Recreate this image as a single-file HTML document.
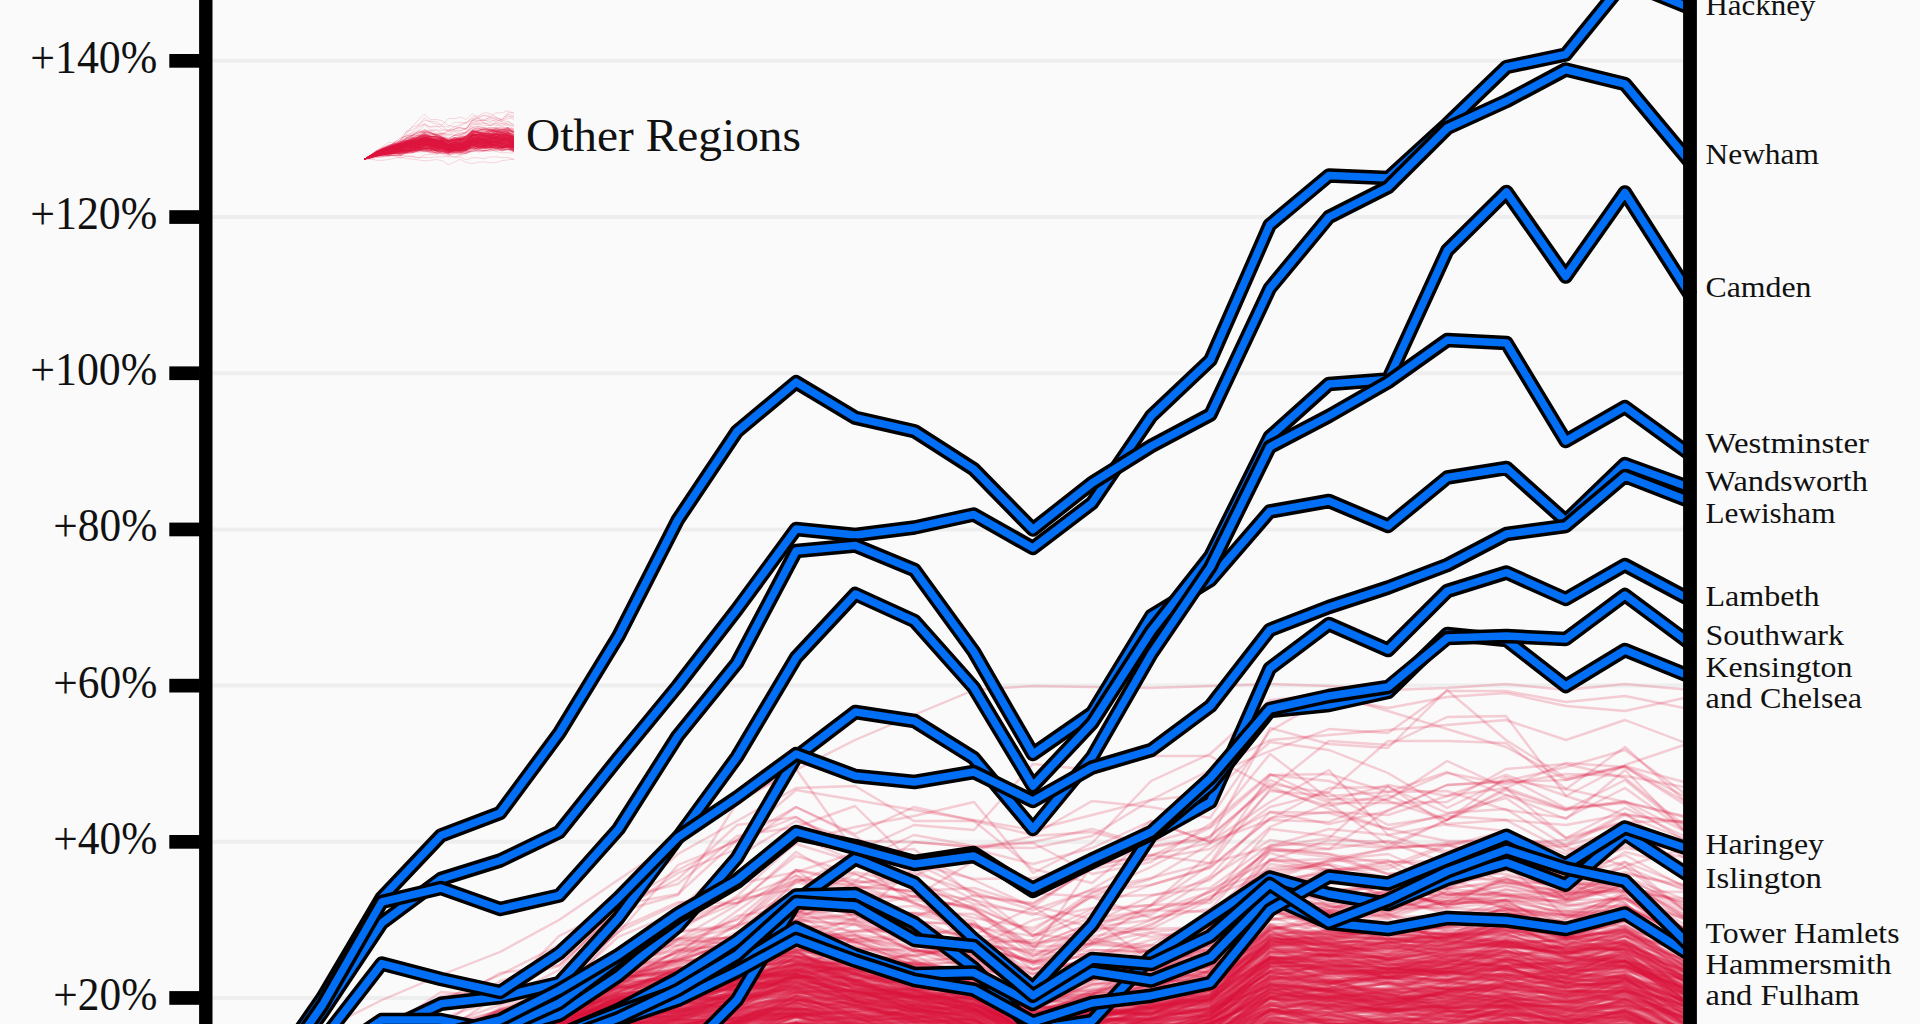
<!DOCTYPE html>
<html lang="en"><head><meta charset="utf-8"><title>House price growth by region</title>
<style>
html,body{margin:0;padding:0;background:#fafafa;}
body{width:1920px;height:1024px;overflow:hidden;}
svg{display:block;}
text{font-family:"Liberation Serif","DejaVu Serif",serif;fill:#111;}
.tick{font-size:45.5px;}
.lab{font-size:30px;}
.bk{fill:none;stroke:#000;stroke-width:14.5;stroke-linejoin:round;stroke-linecap:butt;}
.bl{fill:none;stroke:#006ef5;stroke-width:7.5;stroke-linejoin:round;stroke-linecap:butt;}
.rd{fill:none;stroke:#dc143c;stroke-width:1.6;stroke-linejoin:round;}
</style></head><body>
<svg width="1920" height="1024" viewBox="0 0 1920 1024">
<rect width="1920" height="1024" fill="#fafafa"/>

<g stroke="#eeeeee" stroke-width="4">
<line x1="212" y1="998.0" x2="1684" y2="998.0"/>
<line x1="212" y1="841.8" x2="1684" y2="841.8"/>
<line x1="212" y1="685.6" x2="1684" y2="685.6"/>
<line x1="212" y1="529.4" x2="1684" y2="529.4"/>
<line x1="212" y1="373.2" x2="1684" y2="373.2"/>
<line x1="212" y1="217.0" x2="1684" y2="217.0"/>
<line x1="212" y1="60.8" x2="1684" y2="60.8"/>
</g>
<g fill="none" stroke="#dc143c" stroke-width="2.4" stroke-opacity="0.2" stroke-linejoin="round">
<path d="M441,1044 500,1015 559,1000 618,982 678,970 737,954 796,938 855,939 914,961 974,973 1033,994 1092,979 1151,963 1210,935 1270,879 1329,879 1388,895 1447,883 1506,857 1566,883 1625,903 1684,954 1691,954"/>
<path d="M441,1039 500,1018 559,1008 618,975 678,960 737,942 796,933 855,947 914,960 974,984 1033,1031 1092,1019 1151,1019 1210,998 1270,963 1329,962 1388,978 1447,957 1506,953 1566,978 1625,972 1684,1001 1691,1001"/>
<path d="M1447,1033 1506,1023 1566,1027 1625,1041"/>
<path d="M441,1033 500,1011 559,1002 618,979 678,968 737,958 796,956 855,970 914,982 974,993 1033,1040 1092,1016 1151,1007 1210,997 1270,959 1329,969 1388,970 1447,954 1506,941 1566,957 1625,955 1684,986 1691,986"/>
<path d="M618,1036 678,1014 737,1002 796,974 855,984 914,997 974,993 1033,1019 1092,1009 1151,986 1210,984 1270,942 1329,942 1388,942 1447,952 1506,940 1566,948 1625,941 1684,969 1691,969"/>
<path d="M678,1038 737,1023 796,1004 855,1004 914,1006 974,1013 1033,1029M1151,1030 1210,1010 1270,985 1329,988 1388,1000 1447,1005 1506,978 1566,1002 1625,979 1684,1010 1691,1010"/>
<path d="M500,1035 559,1015 618,996 678,999 737,984 796,940 855,951 914,978 974,972 1033,1003 1092,994 1151,959 1210,947 1270,911 1329,906 1388,914 1447,881 1506,878 1566,900 1625,899 1684,934 1691,934"/>
<path d="M796,1031 855,1022 914,1034M1210,1031 1270,996 1329,996 1388,994 1447,998 1506,1005 1566,1001 1625,986 1684,1003 1691,1003"/>
<path d="M737,1038 796,1025 855,1028M1151,1031 1210,1016 1270,990 1329,980 1388,990 1447,986 1506,971 1566,983 1625,975 1684,993 1691,993"/>
<path d="M737,1032 796,1023 855,1034M1270,1036 1329,1019 1388,1028 1447,1027 1506,1026 1566,1030 1625,1026 1684,1027 1691,1027"/>
<path d="M618,1033 678,1020 737,1021 796,1011 855,1020 914,1029M1092,1039 1151,1026 1210,1008 1270,952 1329,955 1388,969 1447,973 1506,960 1566,957 1625,968 1684,980 1691,980"/>
<path d="M559,1040 618,1022 678,1013 737,1004 796,988 855,995 914,992 974,1002 1033,1032 1092,1015 1151,1005 1210,1004 1270,958 1329,960 1388,967 1447,953 1506,941 1566,956 1625,936 1684,967 1691,967"/>
<path d="M559,1040 618,1019 678,1016 737,995 796,995 855,1019 914,1012 974,1011 1033,1040M1151,1038 1210,1021 1270,957 1329,968 1388,956 1447,972 1506,951 1566,957 1625,961 1684,979 1691,979"/>
<path d="M500,1040 559,1023 618,978 678,940 737,928 796,892 855,872 914,885 974,908 1033,931 1092,892 1151,885 1210,868 1270,818 1329,812 1388,815 1447,796 1506,775 1566,796 1625,815 1684,822 1691,822"/>
<path d="M1210,1050 1270,1026 1329,1032M1447,1027 1506,1017 1566,1035 1625,1023 1684,1050 1691,1050"/>
<path d="M1210,1063 1270,1026 1329,1028"/>
<path d="M500,1028 559,1006 618,989 678,979 737,974 796,946 855,967 914,987 974,987 1033,1012 1092,1005 1151,994 1210,984 1270,942 1329,945 1388,946 1447,944 1506,937 1566,948 1625,940 1684,982 1691,982"/>
<path d="M500,1033 559,1021 618,1001 678,982 737,958 796,956 855,975 914,985 974,996 1033,1025 1092,1007 1151,1002 1210,1000 1270,946 1329,950 1388,951 1447,949 1506,961 1566,959 1625,959 1684,980 1691,980"/>
<path d="M500,1034 559,1023 618,1013 678,997 737,999 796,984 855,995 914,997 974,1021 1033,1043 1092,1016 1151,1014 1210,990 1270,947 1329,973 1388,973 1447,972 1506,976 1566,989 1625,1000 1684,1009 1691,1009"/>
<path d="M441,1049 500,1025 559,1019 618,976 678,974 737,965 796,938 855,935 914,956 974,944 1033,969 1092,963 1151,964 1210,940 1270,884 1329,892 1388,887 1447,859 1506,859 1566,894 1625,874 1684,885 1691,885"/>
<path d="M559,1044 618,1022 678,1004 737,998 796,964 855,972 914,982 974,980 1033,1003 1092,988 1151,980 1210,983 1270,939 1329,940 1388,943 1447,936 1506,933 1566,957 1625,956 1684,995 1691,995"/>
<path d="M618,1033 678,1020 737,1014 796,1017 855,1034 914,1025 974,1027M1210,1032 1270,1001 1329,992 1388,1002 1447,1002 1506,1006 1566,1007 1625,989 1684,1013 1691,1013"/>
<path d="M441,1047 500,1025 559,1012 618,975 678,909 737,884 796,872 855,853 914,869 974,900 1033,936 1092,896 1151,879 1210,844 1270,812 1329,824 1388,811 1447,785 1506,781 1566,767 1625,750 1684,793 1691,793"/>
<path d="M618,1032 678,1012 737,998 796,993 855,989 914,1010 974,1016 1033,1040 1092,1021 1151,1018 1210,1008 1270,987 1329,988 1388,988 1447,971 1506,982 1566,999 1625,981 1684,987 1691,987"/>
<path d="M559,1030 618,1003 678,990 737,975 796,957 855,990 914,977 974,979 1033,1012 1092,1001 1151,985 1210,971 1270,910 1329,932 1388,934 1447,937 1506,927 1566,934 1625,923 1684,966 1691,966"/>
<path d="M559,1051 618,1025 678,1006 737,996 796,986 855,999 914,1006 974,1011 1033,1032 1092,1020 1151,1031 1210,1031 1270,988 1329,989 1388,1001 1447,986 1506,974 1566,980 1625,966 1684,990 1691,990"/>
<path d="M1270,1034 1329,1016 1388,1024 1447,1009 1506,1004 1566,1026 1625,1020 1684,1035 1691,1035"/>
<path d="M559,1032 618,1004 678,993 737,985 796,991 855,1005 914,1015 974,1025 1033,1057M1151,1041 1210,1022 1270,968 1329,983 1388,995 1447,968 1506,962 1566,971 1625,954 1684,994 1691,994"/>
<path d="M500,1042 559,1021 618,985 678,949 737,939 796,915 855,909 914,906 974,927 1033,936 1092,918 1151,961 1210,937 1270,864 1329,871 1388,861 1447,867 1506,863 1566,886 1625,879 1684,930 1691,930"/>
<path d="M441,1041 500,1026 559,1020 618,992 678,970 737,967 796,955 855,969 914,994 974,1009 1033,1029 1092,1020 1151,1003 1210,987 1270,925 1329,938 1388,930 1447,935 1506,931 1566,932 1625,934 1684,979 1691,979"/>
<path d="M1210,1039 1270,996 1329,1025 1388,1027 1447,1017 1506,1017 1566,1030 1625,1022 1684,1047 1691,1047"/>
<path d="M737,1038 796,1022 855,1032M1270,1031 1329,1014 1388,1004 1447,1010 1506,1028 1566,1042 1625,1027 1684,1029 1691,1029"/>
<path d="M441,1045 500,1025 559,1000 618,979 678,969 737,965 796,965 855,971 914,990 974,987 1033,1006 1092,995 1151,969 1210,961 1270,910 1329,927 1388,928 1447,929 1506,913 1566,930 1625,945 1684,969 1691,969"/>
<path d="M678,1029 737,1023 796,1002 855,1004 914,1021 974,1024 1033,1057M1210,1048 1270,1021 1329,1030M1447,1036 1506,1021 1566,1033 1625,1027 1684,1049 1691,1049"/>
<path d="M441,1033 500,1021 559,1018 618,1006 678,1006 737,978 796,959 855,973 914,992 974,995 1033,1026 1092,1017 1151,1006 1210,1002 1270,964 1329,954 1388,941 1447,959 1506,946 1566,970 1625,965 1684,997 1691,997"/>
<path d="M559,1038 618,1017 678,1017 737,1010 796,992 855,1002 914,996 974,1012 1033,1035 1092,1023 1151,1015 1210,995 1270,943 1329,951 1388,957 1447,947 1506,939 1566,952 1625,956 1684,980 1691,980"/>
<path d="M1447,1040 1506,1024 1566,1028 1625,1020 1684,1042 1691,1042"/>
<path d="M441,1030 500,1010 559,1003 618,982 678,962 737,939 796,941 855,931 914,929 974,957 1033,987 1092,969 1151,968 1210,952 1270,913 1329,916 1388,894 1447,894 1506,908 1566,939 1625,936 1684,980 1691,980"/>
<path d="M1210,1069 1270,1024 1329,1014 1388,1021 1447,1021 1506,1026 1566,1028"/>
<path d="M1210,1044 1270,1011 1329,1013 1388,1007 1447,1008 1506,1007 1566,1010 1625,1021 1684,1051 1691,1051"/>
<path d="M1210,1041 1270,1023 1329,1033M1506,1035 1566,1024 1625,1018 1684,1038 1691,1038"/>
<path d="M678,1044 737,1025 796,1012 855,1021 914,1009 974,1016 1033,1034 1092,1039 1151,1025 1210,1025 1270,993 1329,1001 1388,1013 1447,1004 1506,1008 1566,1005 1625,1005 1684,1017 1691,1017"/>
<path d="M441,1051 500,1024 559,1003 618,975 678,965 737,959 796,942 855,941 914,966 974,960 1033,969 1092,953 1151,976 1210,961 1270,920 1329,911 1388,882 1447,889 1506,880 1566,886 1625,867 1684,890 1691,890"/>
<path d="M500,1030 559,1023 618,1006 678,998 737,996 796,973 855,967 914,986 974,996 1033,1027 1092,1015 1151,1013 1210,983 1270,946 1329,943 1388,939 1447,937 1506,921 1566,950 1625,967 1684,988 1691,988"/>
<path d="M618,1037 678,1023 737,1010 796,1015 855,1028M1092,1038 1151,1018 1210,1006 1270,982 1329,991 1388,989 1447,1007 1506,989 1566,986 1625,978 1684,1010 1691,1010"/>
<path d="M441,1038 500,1026 559,1017 618,1000 678,990 737,997 796,983 855,990 914,990 974,1003 1033,1038 1092,1022 1151,1019 1210,1016 1270,953 1329,947 1388,948 1447,937 1506,922 1566,925 1625,919 1684,950 1691,950"/>
<path d="M441,1060 500,1027 559,1000 618,962 678,950 737,944 796,920 855,890 914,922 974,924 1033,947 1092,928 1151,906 1210,876 1270,812 1329,813 1388,829 1447,841 1506,841 1566,846 1625,815 1684,839 1691,839"/>
<path d="M500,1033 559,1023 618,1023 678,1004 737,997 796,987 855,987 914,997 974,997 1033,1017 1092,1003 1151,1001 1210,975 1270,945 1329,944 1388,936 1447,943 1506,947 1566,953 1625,941 1684,972 1691,972"/>
<path d="M559,1035 618,1015 678,982 737,986 796,953 855,974 914,951 974,951 1033,982 1092,975 1151,965 1210,973 1270,938 1329,943 1388,939 1447,938 1506,905 1566,938 1625,911 1684,949 1691,949"/>
<path d="M500,1034 559,1023 618,1012 678,1001 737,981 796,987 855,1005 914,1010 974,1025 1033,1063M1210,1028 1270,987 1329,985 1388,994 1447,1002 1506,994 1566,1001 1625,993 1684,1017 1691,1017"/>
<path d="M441,1041 500,1018 559,1007 618,989 678,976 737,963 796,946 855,974 914,991 974,1010 1033,1025 1092,1006 1151,1001 1210,986 1270,950 1329,955 1388,954 1447,967 1506,958 1566,977 1625,960 1684,992 1691,992"/>
<path d="M796,1028 855,1021 914,1022 974,1026 1033,1047M1210,1047 1270,1021 1329,1025 1388,1024 1447,1025 1506,1014 1566,1020 1625,1016 1684,1032 1691,1032"/>
<path d="M618,1033 678,1015 737,1017 796,1002 855,1029M1210,1041 1270,1010 1329,999 1388,999 1447,995 1506,983 1566,991 1625,1003 1684,1034 1691,1034"/>
<path d="M737,1037 796,1004 855,1012 914,1030 974,1024 1033,1044 1092,1036 1151,1019 1210,1007 1270,957 1329,974 1388,984 1447,984 1506,978 1566,997 1625,986 1684,1023 1691,1023"/>
<path d="M500,1033 559,1016 618,996 678,1002 737,985 796,957 855,969 914,975 974,983 1033,1011 1092,999 1151,1009 1210,1017 1270,968 1329,963 1388,962 1447,962 1506,961 1566,979 1625,967 1684,993 1691,993"/>
<path d="M500,1037 559,1000 618,954 678,939 737,920 796,892 855,890 914,933 974,941 1033,975 1092,944 1151,932 1210,927 1270,860 1329,840 1388,842 1447,863 1506,844 1566,840 1625,822 1684,821 1691,821"/>
<path d="M559,1030 618,1018 678,992 737,989 796,963 855,962 914,1000 974,1019 1033,1048 1092,1028 1151,1007 1210,1000 1270,958 1329,959 1388,975 1447,981 1506,975 1566,973 1625,978 1684,1001 1691,1001"/>
<path d="M1210,1039 1270,1014 1329,1015 1388,1024 1447,1015 1506,1006 1566,1006 1625,1009 1684,1042 1691,1042"/>
<path d="M737,1028 796,1015 855,1018 914,1022 974,1044M1210,1048 1270,1024 1329,1007 1388,1009 1447,1011 1506,1013 1566,1020 1625,1021 1684,1037 1691,1037"/>
<path d="M737,1034 796,1014 855,1023 914,1036M1210,1032 1270,1004 1329,996 1388,997 1447,995 1506,1003 1566,1007 1625,1015 1684,1032 1691,1032"/>
<path d="M559,1033 618,1020 678,1013 737,989 796,967 855,992 914,1006 974,1014 1033,1040M1151,1028 1210,1023 1270,966 1329,965 1388,971 1447,968 1506,964 1566,963 1625,951 1684,977 1691,977"/>
<path d="M737,1028 796,1023 855,1023 914,1016 974,1013 1033,1043 1092,1032 1151,1019 1210,1008 1270,986 1329,971 1388,983 1447,989 1506,982 1566,987 1625,986 1684,1022 1691,1022"/>
<path d="M737,1037 796,1023 855,1027M1210,1057 1270,1021 1329,1006 1388,1003 1447,1008 1506,1000 1566,1002 1625,991 1684,1024 1691,1024"/>
<path d="M500,1029 559,1007 618,1000 678,986 737,972 796,949 855,991 914,988 974,983 1033,1019 1092,1012 1151,996 1210,984 1270,924 1329,945 1388,961 1447,959 1506,952 1566,967 1625,954 1684,991 1691,991"/>
<path d="M559,1034 618,1014 678,1002 737,984 796,965 855,965 914,964 974,962 1033,978 1092,955 1151,945 1210,914 1270,859 1329,865 1388,892 1447,874 1506,861 1566,876 1625,881 1684,915 1691,915"/>
<path d="M1270,1033 1329,1024 1388,1021 1447,1005 1506,1006 1566,1017 1625,1030"/>
<path d="M1210,1034 1270,1012 1329,1020 1388,1017 1447,1027 1506,1023 1566,1012 1625,1007 1684,1040 1691,1040"/>
<path d="M382,1057 441,1026 500,1005 559,992 618,965 678,942 737,937 796,919 855,914 914,944 974,972 1033,993 1092,966 1151,965 1210,950 1270,907 1329,911 1388,916 1447,891 1506,908 1566,927 1625,930 1684,954 1691,954"/>
<path d="M618,1032 678,1007 737,980 796,971 855,980 914,995 974,1013 1033,1035M1151,1036 1210,1025 1270,973 1329,977 1388,970 1447,960 1506,947 1566,947 1625,950 1684,976 1691,976"/>
<path d="M678,1042 737,1023 796,1032M1210,1044 1270,1023 1329,1031M1566,1030 1625,1016 1684,1046 1691,1046"/>
<path d="M500,1031 559,1012 618,997 678,993 737,986 796,993 855,1006 914,1018 974,1010 1033,1033M1151,1037 1210,1017 1270,971 1329,968 1388,973 1447,969 1506,966 1566,961 1625,961 1684,1003 1691,1003"/>
<path d="M1210,1054 1270,1026 1329,1042"/>
<path d="M500,1035 559,1025 618,998 678,993 737,968 796,961 855,980 914,974 974,991 1033,1013 1092,992 1151,982 1210,957 1270,903 1329,910 1388,915 1447,901 1506,900 1566,907 1625,896 1684,940 1691,940"/>
<path d="M382,1037 441,1008 500,973 559,965 618,912 678,895 737,803 796,769 855,852 914,825 974,830 1033,764 1092,770 1151,756 1210,756 1270,788 1329,741 1388,745 1447,717 1506,716 1566,796 1625,765 1684,745 1691,745"/>
<path d="M618,1028 678,998 737,999 796,996 855,1000 914,1027 974,1030M1151,1044 1210,1012 1270,966 1329,965 1388,968 1447,966 1506,970 1566,979 1625,976 1684,999 1691,999"/>
<path d="M559,1030 618,995 678,986 737,990 796,965 855,980 914,999 974,997 1033,1040 1092,1034 1151,1004 1210,996 1270,942 1329,934 1388,949 1447,944 1506,927 1566,931 1625,915 1684,932 1691,932"/>
<path d="M500,1030 559,1020 618,1007 678,1001 737,1008 796,982 855,985 914,994 974,1003 1033,1025 1092,1009 1151,994 1210,1003 1270,940 1329,955 1388,949 1447,962 1506,947 1566,938 1625,931 1684,969 1691,969"/>
<path d="M618,1046 678,1018 737,1005 796,998 855,1015 914,1029M1210,1040 1270,992 1329,996 1388,1004 1447,1001 1506,982 1566,995 1625,971 1684,1013 1691,1013"/>
<path d="M559,1035 618,1006 678,1004 737,986 796,962 855,964 914,955 974,946 1033,961 1092,956 1151,933 1210,940 1270,908 1329,912 1388,912 1447,892 1506,896 1566,902 1625,883 1684,908 1691,908"/>
<path d="M500,1041 559,1021 618,992 678,968 737,965 796,941 855,961 914,975 974,988 1033,1013 1092,1000 1151,991 1210,998 1270,939 1329,932 1388,927 1447,936 1506,944 1566,939 1625,929 1684,966 1691,966"/>
<path d="M441,1049 500,1026 559,1013 618,998 678,979 737,945 796,916 855,901 914,918 974,942 1033,953 1092,943 1151,920 1210,899 1270,848 1329,854 1388,864 1447,895 1506,886 1566,899 1625,886 1684,902 1691,902"/>
<path d="M618,1038 678,1021 737,1004 796,978 855,980 914,1001 974,1007 1033,1032 1092,1013 1151,997 1210,991 1270,959 1329,955 1388,960 1447,973 1506,962 1566,976 1625,966 1684,984 1691,984"/>
<path d="M500,1040 559,1024 618,1002 678,983 737,985 796,964 855,972 914,986 974,1008 1033,1045M1210,1029 1270,999 1329,1004 1388,1000 1447,999 1506,986 1566,984 1625,985 1684,1006 1691,1006"/>
<path d="M678,1042 737,1022 796,1023 855,1032M1210,1037 1270,995 1329,990 1388,1006 1447,991 1506,999 1566,996 1625,999 1684,1018 1691,1018"/>
<path d="M559,1035 618,1019 678,1004 737,992 796,977 855,995 914,993 974,1005 1033,1032 1092,1031 1151,1019 1210,1012 1270,971 1329,961 1388,955 1447,950 1506,942 1566,948 1625,943 1684,974 1691,974"/>
<path d="M1210,1036 1270,993 1329,989 1388,983 1447,1000 1506,995 1566,1008 1625,985 1684,1005 1691,1005"/>
<path d="M1210,1056 1270,1020 1329,1034 1388,1034 1447,1024 1506,1009 1566,1030"/>
<path d="M559,1031 618,1000 678,982 737,975 796,969 855,1001 914,1018 974,1002 1033,1029 1092,1008 1151,1021 1210,1019 1270,961 1329,953 1388,970 1447,978 1506,976 1566,978 1625,985 1684,994 1691,994"/>
<path d="M500,1050 559,1025 618,1005 678,990 737,983 796,973 855,1001 914,1008 974,995 1033,1041M1151,1035 1210,1019 1270,979 1329,986 1388,1001 1447,1003 1506,985 1566,998 1625,995 1684,1016 1691,1016"/>
<path d="M1210,1031 1270,985 1329,999 1388,995 1447,995 1506,1002 1566,1010 1625,991 1684,1005 1691,1005"/>
<path d="M1270,1033 1329,1024 1388,1021 1447,1030 1506,1019 1566,1048"/>
<path d="M559,1035 618,1027 678,1014 737,992 796,970 855,1000 914,1010 974,1000 1033,1037 1092,1033 1151,1021 1210,1015 1270,976 1329,982 1388,979 1447,971 1506,961 1566,983 1625,987 1684,1003 1691,1003"/>
<path d="M500,1029 559,1014 618,994 678,985 737,982 796,968 855,982 914,1002 974,996 1033,1037 1092,1018 1151,997 1210,984 1270,934 1329,943 1388,955 1447,936 1506,943 1566,949 1625,950 1684,976 1691,976"/>
<path d="M441,1056 500,1027 559,1008 618,982 678,981 737,972 796,949 855,960 914,989 974,991 1033,1017 1092,1004 1151,989 1210,978 1270,909 1329,928 1388,933 1447,919 1506,899 1566,896 1625,881 1684,933 1691,933"/>
<path d="M441,1046 500,1022 559,1009 618,985 678,976 737,975 796,959 855,966 914,977 974,991 1033,1025 1092,1016 1151,1008 1210,995 1270,935 1329,939 1388,959 1447,944 1506,938 1566,928 1625,906 1684,937 1691,937"/>
<path d="M678,1030 737,1018 796,1009 855,1008 914,1025 974,1028M1092,1028 1151,1001 1210,987 1270,948 1329,966 1388,965 1447,953 1506,944 1566,953 1625,946 1684,981 1691,981"/>
<path d="M559,1043 618,1021 678,1011 737,1000 796,969 855,976 914,982 974,1008 1033,1036 1092,1017 1151,1008 1210,1000 1270,963 1329,961 1388,964 1447,973 1506,940 1566,952 1625,961 1684,1001 1691,1001"/>
<path d="M441,1052 500,1027 559,1011 618,997 678,980 737,967 796,952 855,982 914,988 974,990 1033,1029 1092,1013 1151,1007 1210,995 1270,958 1329,954 1388,959 1447,958 1506,951 1566,971 1625,960 1684,977 1691,977"/>
<path d="M737,1033 796,1026 855,1034M1210,1043 1270,1009 1329,1023 1388,1030 1447,1024 1506,1017 1566,1032 1625,1019 1684,1055 1691,1055"/>
<path d="M618,1036 678,1026 737,1024 796,1016 855,1043M1151,1047 1210,1022 1270,986 1329,1000 1388,999 1447,995 1506,994 1566,991 1625,994 1684,1035 1691,1035"/>
<path d="M678,1046 737,1024 796,1027 855,1033M1210,1032 1270,999 1329,998 1388,991 1447,991 1506,988 1566,1003 1625,987 1684,1006 1691,1006"/>
<path d="M500,1034 559,1023 618,1003 678,983 737,963 796,950 855,980 914,983 974,986 1033,1025 1092,1029 1151,1029 1210,1024 1270,952 1329,956 1388,957 1447,945 1506,925 1566,937 1625,932 1684,958 1691,958"/>
<path d="M559,1031 618,1012 678,997 737,980 796,974 855,1000 914,1012 974,1013 1033,1054 1092,1032 1151,1020 1210,1017 1270,963 1329,956 1388,959 1447,951 1506,940 1566,942 1625,928 1684,971 1691,971"/>
<path d="M441,1041 500,1021 559,1011 618,978 678,962 737,957 796,925 855,931 914,925 974,937 1033,965 1092,945 1151,947 1210,938 1270,876 1329,861 1388,860 1447,888 1506,883 1566,883 1625,885 1684,911 1691,911"/>
<path d="M1210,1030 1270,989 1329,989 1388,1010 1447,1004 1506,992 1566,975 1625,978 1684,1007 1691,1007"/>
<path d="M678,1032 737,1013 796,1009 855,1015 914,1019 974,1022 1033,1043M1210,1046 1270,1005 1329,1005 1388,1009 1447,1007 1506,999 1566,987 1625,981 1684,1000 1691,1000"/>
<path d="M1210,1063 1270,1025 1329,1020 1388,1024 1447,1026 1506,1027 1566,1037"/>
<path d="M559,1052 618,1021 678,1014 737,1014 796,997 855,1002 914,1005 974,999 1033,1023 1092,1012 1151,1014 1210,1000 1270,948 1329,956 1388,945 1447,946 1506,936 1566,963 1625,945 1684,978 1691,978"/>
<path d="M1210,1057 1270,1011 1329,997 1388,1004 1447,988 1506,1000 1566,1008 1625,990 1684,1004 1691,1004"/>
<path d="M618,1029 678,1025 737,1018 796,1008 855,993 914,1015 974,1025 1033,1052M1210,1041 1270,997 1329,988 1388,977 1447,989 1506,992 1566,999 1625,1000 1684,1029 1691,1029"/>
<path d="M678,1037 737,1012 796,993 855,1005 914,1007 974,1027 1033,1055M1210,1037 1270,1011 1329,1025 1388,1032 1447,1017 1506,1006 1566,1025 1625,1001 1684,1030 1691,1030"/>
<path d="M500,1041 559,1017 618,1003 678,985 737,952 796,934 855,939 914,935 974,946 1033,963 1092,969 1151,965 1210,949 1270,897 1329,894 1388,893 1447,901 1506,904 1566,923 1625,908 1684,932 1691,932"/>
<path d="M441,1042 500,1016 559,1007 618,987 678,971 737,960 796,962 855,978 914,980 974,995 1033,1037 1092,1020 1151,1020 1210,996 1270,958 1329,982 1388,992 1447,993 1506,987 1566,988 1625,978 1684,998 1691,998"/>
<path d="M441,1049 500,1021 559,1012 618,984 678,950 737,944 796,914 855,893 914,900 974,906 1033,934 1092,941 1151,926 1210,890 1270,861 1329,859 1388,849 1447,843 1506,839 1566,844 1625,813 1684,858 1691,858"/>
<path d="M441,1044 500,1015 559,988 618,975 678,958 737,932 796,909 855,908 914,896 974,910 1033,955 1092,950 1151,951 1210,936 1270,879 1329,874 1388,879 1447,894 1506,895 1566,892 1625,878 1684,905 1691,905"/>
<path d="M737,1039 796,1026 855,1024 914,1025 974,1019 1033,1051 1092,1028 1151,1010 1210,1003 1270,961 1329,956 1388,963 1447,976 1506,970 1566,979 1625,971 1684,978 1691,978"/>
<path d="M1210,1052 1270,1011 1329,1024 1388,1025 1447,1011 1506,1011 1566,1016 1625,1011 1684,1042 1691,1042"/>
<path d="M559,1032 618,1014 678,1004 737,985 796,977 855,980 914,996 974,1004 1033,1034 1092,1009 1151,996 1210,986 1270,927 1329,937 1388,935 1447,927 1506,916 1566,937 1625,921 1684,951 1691,951"/>
<path d="M559,1028 618,957 678,927 737,898 796,876 855,887 914,891 974,900 1033,915 1092,889 1151,856 1210,828 1270,775 1329,774 1388,792 1447,772 1506,795 1566,819 1625,770 1684,831 1691,831"/>
<path d="M500,1044 559,991 618,937 678,912 737,903 796,883 855,857 914,863 974,892 1033,936 1092,909 1151,905 1210,854 1270,791 1329,796 1388,792 1447,791 1506,810 1566,818 1625,788 1684,830 1691,830"/>
<path d="M618,1035 678,1024 737,1021 796,1000 855,994 914,1020 974,1025 1033,1058M1151,1043 1210,1024 1270,993 1329,999 1388,1012 1447,1013 1506,1006 1566,1013 1625,1000 1684,1023 1691,1023"/>
<path d="M559,1034 618,1017 678,1010 737,1000 796,988 855,1001 914,1005 974,983 1033,998 1092,994 1151,990 1210,985 1270,942 1329,942 1388,943 1447,939 1506,927 1566,944 1625,932 1684,965 1691,965"/>
<path d="M500,1037 559,1021 618,1003 678,992 737,990 796,981 855,981 914,982 974,1001 1033,1023 1092,1005 1151,1007 1210,990 1270,941 1329,937 1388,930 1447,934 1506,930 1566,952 1625,945 1684,977 1691,977"/>
<path d="M1210,1035 1270,1012 1329,1008 1388,1026 1447,1028 1506,1024 1566,1035"/>
<path d="M1210,1047 1270,1022 1329,1043"/>
<path d="M618,1030 678,1012 737,1011 796,991 855,1006 914,1017 974,1025 1033,1046 1092,1024 1151,1025 1210,1008 1270,960 1329,970 1388,981 1447,990 1506,983 1566,966 1625,966 1684,996 1691,996"/>
<path d="M1210,1029 1270,987 1329,998 1388,982 1447,1000 1506,990 1566,991 1625,993 1684,1017 1691,1017"/>
<path d="M500,1030 559,1027 618,1003 678,996 737,987 796,981 855,988 914,1015 974,1030 1033,1043 1092,1026 1151,1029 1210,1016 1270,971 1329,967 1388,965 1447,960 1506,966 1566,963 1625,965 1684,992 1691,992"/>
<path d="M559,1032 618,1025 678,1018 737,1014 796,995 855,991 914,1006 974,1019 1033,1046M1151,1029 1210,1025 1270,976 1329,965 1388,968 1447,974 1506,958 1566,970 1625,963 1684,995 1691,995"/>
<path d="M441,1039 500,1017 559,985 618,970 678,953 737,911 796,870 855,880 914,893 974,951 1033,978 1092,957 1151,940 1210,928 1270,872 1329,864 1388,878 1447,867 1506,858 1566,869 1625,848 1684,857 1691,857"/>
<path d="M1210,1037 1270,1018 1329,1001 1388,1010 1447,1011 1506,1012 1566,1023 1625,1011 1684,1046 1691,1046"/>
<path d="M441,1045 500,1016 559,1002 618,976 678,972 737,974 796,955 855,984 914,1002 974,1006 1033,1041 1092,1023 1151,995 1210,982 1270,931 1329,950 1388,960 1447,962 1506,956 1566,980 1625,981 1684,1001 1691,1001"/>
<path d="M618,1032 678,1021 737,1019 796,1006 855,1023 914,1023 974,1038 1033,1049 1092,1024 1151,1042 1210,1023 1270,1010 1329,1015 1388,1003 1447,997 1506,993 1566,1003 1625,1003 1684,1024 1691,1024"/>
<path d="M737,1027 796,1023 855,1040M1210,1049 1270,1018 1329,1016 1388,1013 1447,1016 1506,1017 1566,1042"/>
<path d="M678,1037 737,1010 796,1001 855,1006 914,1022 974,1017 1033,1042M1210,1033 1270,1003 1329,1005 1388,993 1447,994 1506,999 1566,1023 1625,1015 1684,1044 1691,1044"/>
<path d="M1270,1030 1329,1021 1388,1018 1447,1011 1506,995 1566,1022 1625,1017 1684,1033 1691,1033"/>
<path d="M737,1028 796,996 855,1005 914,1021 974,1020 1033,1047M1151,1040 1210,1023 1270,998 1329,988 1388,975 1447,974 1506,974 1566,995 1625,980 1684,1009 1691,1009"/>
<path d="M737,1030 796,1024 855,1026 914,1039M1210,1039 1270,1015 1329,1004 1388,1016 1447,1012 1506,1005 1566,1019 1625,1018 1684,1043 1691,1043"/>
<path d="M559,1029 618,1022 678,1027 737,1011 796,1003 855,1017 914,1019 974,1014 1033,1027 1092,1034 1151,1028 1210,1023 1270,977 1329,980 1388,977 1447,977 1506,982 1566,1006 1625,979 1684,1012 1691,1012"/>
<path d="M559,1033 618,1024 678,1023 737,992 796,968 855,969 914,991 974,997 1033,1007 1092,1008 1151,1016 1210,1010 1270,956 1329,946 1388,939 1447,937 1506,926 1566,937 1625,932 1684,953 1691,953"/>
<path d="M678,1031 737,1008 796,1003 855,1011 914,1005 974,1025 1033,1036M1210,1045 1270,1018 1329,1023 1388,1027M1566,1039 1625,1019 1684,1036 1691,1036"/>
<path d="M500,1031 559,1016 618,990 678,974 737,953 796,940 855,946 914,977 974,988 1033,1032 1092,1006 1151,996 1210,994 1270,946 1329,941 1388,928 1447,932 1506,923 1566,946 1625,914 1684,962 1691,962"/>
<path d="M678,1029 737,1008 796,996 855,1015 914,1027M1092,1037 1151,1027 1210,1025 1270,994 1329,1000 1388,1012 1447,1005 1506,996 1566,985 1625,983 1684,1000 1691,1000"/>
<path d="M500,1031 559,1023 618,998 678,994 737,979 796,970 855,985 914,991 974,1005 1033,1023 1092,997 1151,994 1210,990 1270,938 1329,944 1388,959 1447,934 1506,933 1566,928 1625,917 1684,949 1691,949"/>
<path d="M441,1048 500,1022 559,1006 618,986 678,983 737,970 796,950 855,951 914,977 974,974 1033,998 1092,966 1151,950 1210,959 1270,920 1329,917 1388,917 1447,916 1506,914 1566,922 1625,903 1684,952 1691,952"/>
<path d="M737,1038 796,1023 855,1018 914,1042M1210,1035 1270,1009 1329,1012 1388,1004 1447,998 1506,996 1566,1005 1625,994 1684,1015 1691,1015"/>
<path d="M1210,1056 1270,1025 1329,1033M1447,1034 1506,1022 1566,1022 1625,1012 1684,1036 1691,1036"/>
<path d="M1210,1062 1270,1027 1329,1045M1506,1031 1566,1026 1625,1018 1684,1037 1691,1037"/>
<path d="M441,1039 500,1010 559,997 618,899 678,884 737,836 796,827 855,806 914,864 974,879 1033,878 1092,869 1151,859 1210,849 1270,807 1329,792 1388,741 1447,741 1506,743 1566,789 1625,802 1684,816 1691,816"/>
<path d="M737,1035 796,1017 855,1026 914,1006 974,1010 1033,1032 1092,1023 1151,1020 1210,1007 1270,958 1329,963 1388,960 1447,948 1506,946 1566,953 1625,949 1684,971 1691,971"/>
<path d="M559,1046 618,1022 678,1001 737,995 796,999 855,1023 914,1047M1151,1042 1210,1026 1270,983 1329,973 1388,974 1447,964 1506,962 1566,972 1625,966 1684,991 1691,991"/>
<path d="M737,1037 796,1023 855,1028M1151,1032 1210,1019 1270,965 1329,957 1388,947 1447,955 1506,951 1566,960 1625,957 1684,989 1691,989"/>
<path d="M618,1031 678,1025 737,1019 796,1003 855,1008 914,1018 974,1037M1151,1033 1210,1011 1270,977 1329,982 1388,977 1447,965 1506,965 1566,962 1625,958 1684,986 1691,986"/>
<path d="M441,1039 500,1008 559,993 618,972 678,971 737,973 796,916 855,921 914,944 974,938 1033,962 1092,943 1151,950 1210,925 1270,898 1329,890 1388,887 1447,872 1506,883 1566,892 1625,822 1684,846 1691,846"/>
<path d="M500,1031 559,1016 618,999 678,988 737,965 796,957 855,963 914,984 974,990 1033,1019 1092,997 1151,1004 1210,1000 1270,940 1329,937 1388,928 1447,935 1506,913 1566,917 1625,909 1684,933 1691,933"/>
<path d="M500,1037 559,1020 618,1007 678,1005 737,994 796,989 855,998 914,1004 974,1015 1033,1044M1151,1036 1210,1015 1270,964 1329,959 1388,961 1447,956 1506,957 1566,945 1625,936 1684,960 1691,960"/>
<path d="M737,1033 796,1022 855,1016 914,1040M1151,1035 1210,1012 1270,992 1329,994 1388,1008 1447,1011 1506,1015 1566,1021 1625,999 1684,1027 1691,1027"/>
<path d="M500,1030 559,1022 618,993 678,978 737,979 796,974 855,981 914,1000 974,1008 1033,1034 1092,1012 1151,1016 1210,976 1270,928 1329,939 1388,945 1447,947 1506,923 1566,941 1625,952 1684,985 1691,985"/>
<path d="M500,1042 559,1026 618,1009 678,1003 737,995 796,977 855,964 914,976 974,992 1033,1008 1092,1006 1151,993 1210,988 1270,949 1329,950 1388,959 1447,965 1506,960 1566,968 1625,965 1684,987 1691,987"/>
<path d="M1388,1039 1447,1027 1506,1028 1566,1024 1625,998 1684,1022 1691,1022"/>
<path d="M678,1048 737,1025 796,996 855,1004 914,1000 974,1007 1033,1036M1151,1038 1210,1019 1270,985 1329,991 1388,988 1447,979 1506,979 1566,984 1625,977 1684,1002 1691,1002"/>
<path d="M500,1030 559,1013 618,993 678,977 737,975 796,965 855,981 914,997 974,1006 1033,1028 1092,1013 1151,1013 1210,1002 1270,952 1329,963 1388,969 1447,969 1506,970 1566,986 1625,982 1684,1002 1691,1002"/>
<path d="M678,1030 737,1023 796,1017 855,1006 914,1016 974,1022 1033,1060M1210,1027 1270,994 1329,999 1388,1013 1447,1027 1506,1009 1566,1024 1625,1024 1684,1038 1691,1038"/>
<path d="M1329,1048 1388,1018 1447,1018 1506,1014 1566,1028"/>
<path d="M1270,1033 1329,1014 1388,1028 1447,1027 1506,1042"/>
<path d="M618,1042 678,1025 737,1021 796,996 855,1000 914,1009 974,1022 1033,1055M1210,1044 1270,1011 1329,1017 1388,1007 1447,1014 1506,1015 1566,1011 1625,1005 1684,1025 1691,1025"/>
<path d="M618,1035 678,1017 737,1006 796,997 855,1010 914,1016 974,1019 1033,1055M1210,1030 1270,988 1329,1009 1388,1010 1447,997 1506,1008 1566,1010 1625,1003 1684,1030 1691,1030"/>
<path d="M500,1029 559,1002 618,979 678,960 737,944 796,910 855,934 914,943 974,963 1033,989 1092,991 1151,979 1210,975 1270,895 1329,906 1388,918 1447,901 1506,879 1566,901 1625,886 1684,917 1691,917"/>
<path d="M737,1036 796,1017 855,1030M1210,1042 1270,998 1329,997 1388,1000 1447,987 1506,993 1566,1013 1625,1006 1684,1029 1691,1029"/>
<path d="M618,1028 678,1008 737,999 796,983 855,1001 914,1012 974,1014 1033,1049M1151,1030 1210,1021 1270,974 1329,973 1388,976 1447,981 1506,959 1566,972 1625,969 1684,998 1691,998"/>
<path d="M618,1029 678,1026 737,1026 796,1001 855,997 914,1008 974,1018 1033,1036 1092,1021 1151,1004 1210,998 1270,962 1329,965 1388,978 1447,980 1506,972 1566,977 1625,963 1684,1003 1691,1003"/>
<path d="M441,1046 500,1016 559,997 618,985 678,968 737,960 796,956 855,962 914,963 974,992 1033,999 1092,979 1151,963 1210,973 1270,913 1329,924 1388,940 1447,938 1506,923 1566,931 1625,892 1684,917 1691,917"/>
<path d="M559,1035 618,1022 678,1004 737,985 796,980 855,1007 914,1009 974,999 1033,1036 1092,1012 1151,1007 1210,1000 1270,975 1329,980 1388,995 1447,984 1506,958 1566,969 1625,973 1684,1007 1691,1007"/>
<path d="M737,1038 796,1011 855,1030M1151,1035 1210,1020 1270,984 1329,990 1388,983 1447,989 1506,988 1566,997 1625,999 1684,1025 1691,1025"/>
<path d="M500,1028 559,1022 618,1011 678,1011 737,1001 796,989 855,1011 914,1007 974,1009 1033,1041M1210,1033 1270,1009 1329,1019 1388,1007 1447,996 1506,1001 1566,1018 1625,1009 1684,1044 1691,1044"/>
<path d="M559,1032 618,994 678,986 737,964 796,929 855,922 914,951 974,955 1033,973 1092,967 1151,971 1210,952 1270,889 1329,874 1388,862 1447,861 1506,882 1566,896 1625,889 1684,902 1691,902"/>
<path d="M618,1038 678,1025 737,1018 796,1013 855,1041M1210,1049 1270,1012 1329,1012 1388,1011 1447,1009 1506,1005 1566,1008 1625,1011 1684,1031 1691,1031"/>
<path d="M678,1028 737,1006 796,1009 855,1037M1210,1053 1270,1014 1329,1013 1388,1019 1447,1019 1506,1000 1566,999 1625,988 1684,1004 1691,1004"/>
<path d="M500,1034 559,1016 618,1005 678,993 737,984 796,965 855,963 914,985 974,995 1033,1026 1092,1008 1151,1013 1210,991 1270,946 1329,935 1388,929 1447,934 1506,935 1566,950 1625,949 1684,972 1691,972"/>
<path d="M618,1035 678,1017 737,1012 796,1008 855,1019 914,1013 974,1032M1151,1046 1210,1025 1270,998 1329,1013 1388,1027 1447,1023 1506,1007 1566,1015 1625,1017 1684,1053 1691,1053"/>
<path d="M559,1035 618,1019 678,1000 737,989 796,966 855,990 914,997 974,1010 1033,1033M1151,1036 1210,1027 1270,980 1329,992 1388,1000 1447,1010 1506,1003 1566,992 1625,991 1684,1033 1691,1033"/>
<path d="M441,1031 500,1013 559,1004 618,993 678,979 737,969 796,959 855,964 914,986 974,984 1033,1006 1092,977 1151,971 1210,963 1270,908 1329,911 1388,940 1447,936 1506,944 1566,966 1625,962 1684,972 1691,972"/>
<path d="M618,1029 678,1022 737,1024 796,997 855,1026 914,1026 974,1030M1092,1045 1151,1026 1210,1003 1270,972 1329,973 1388,978 1447,968 1506,970 1566,973 1625,983 1684,1017 1691,1017"/>
<path d="M1447,1038 1506,1027 1566,1027 1625,1010 1684,1037 1691,1037"/>
<path d="M441,1035 500,1017 559,993 618,980 678,952 737,916 796,907 855,920 914,941 974,923 1033,970 1092,961 1151,970 1210,946 1270,885 1329,871 1388,891 1447,904 1506,879 1566,894 1625,885 1684,944 1691,944"/>
<path d="M441,1040 500,1014 559,1007 618,1000 678,995 737,985 796,971 855,980 914,986 974,995 1033,1031 1092,1017 1151,1001 1210,994 1270,952 1329,954 1388,954 1447,918 1506,911 1566,930 1625,926 1684,966 1691,966"/>
<path d="M1210,1048 1270,1018 1329,1020 1388,1022 1447,1025 1506,1008 1566,1013 1625,1013 1684,1036 1691,1036"/>
<path d="M441,1039 500,1022 559,1017 618,983 678,931 737,925 796,913 855,889 914,902 974,936 1033,963 1092,926 1151,937 1210,928 1270,850 1329,857 1388,874 1447,867 1506,840 1566,882 1625,845 1684,867 1691,867"/>
<path d="M441,1040 500,1022 559,1002 618,988 678,980 737,979 796,963 855,970 914,977 974,990 1033,1021 1092,1028 1151,995 1210,970 1270,912 1329,914 1388,929 1447,934 1506,925 1566,937 1625,919 1684,956 1691,956"/>
<path d="M618,1032 678,1012 737,1006 796,983 855,993 914,989 974,999 1033,1020 1092,1014 1151,1009 1210,1000 1270,959 1329,952 1388,946 1447,950 1506,952 1566,964 1625,952 1684,980 1691,980"/>
<path d="M559,1042 618,1022 678,1018 737,1002 796,985 855,991 914,1005 974,1010 1033,1036 1092,1022 1151,1015 1210,1009 1270,967 1329,967 1388,977 1447,990 1506,976 1566,982 1625,966 1684,988 1691,988"/>
<path d="M1210,1051 1270,1014 1329,1030 1388,1021 1447,1027 1506,1022 1566,1034"/>
<path d="M500,1032 559,1021 618,1002 678,990 737,982 796,943 855,964 914,972 974,992 1033,1020 1092,1011 1151,1013 1210,994 1270,944 1329,940 1388,945 1447,956 1506,944 1566,955 1625,936 1684,992 1691,992"/>
<path d="M500,1034 559,1011 618,995 678,989 737,983 796,960 855,965 914,990 974,989 1033,1013 1092,995 1151,998 1210,991 1270,943 1329,945 1388,960 1447,951 1506,941 1566,956 1625,947 1684,970 1691,970"/>
<path d="M559,1043 618,1026 678,1016 737,1001 796,974 855,996 914,1001 974,1002 1033,1034M1151,1038 1210,1023 1270,977 1329,976 1388,972 1447,962 1506,948 1566,948 1625,950 1684,982 1691,982"/>
<path d="M559,1034 618,1003 678,955 737,925 796,875 855,919 914,868 974,849 1033,864 1092,848 1151,821 1210,842 1270,802 1329,770 1388,835 1447,824 1506,820 1566,851 1625,829 1684,847 1691,847"/>
<path d="M559,1032 618,1010 678,993 737,980 796,986 855,991 914,1007 974,1035M1210,1047 1270,997 1329,994 1388,990 1447,988 1506,967 1566,986 1625,983 1684,1010 1691,1010"/>
<path d="M500,1045 559,1026 618,1006 678,987 737,980 796,970 855,988 914,1000 974,1017 1033,1051M1151,1031 1210,1014 1270,966 1329,968 1388,963 1447,964 1506,965 1566,973 1625,965 1684,981 1691,981"/>
<path d="M559,1040 618,1020 678,1019 737,1022 796,1013 855,1019 914,1025 974,1026 1033,1039M1210,1037 1270,991 1329,998 1388,997 1447,995 1506,980 1566,992 1625,991 1684,1013 1691,1013"/>
<path d="M559,1039 618,1017 678,998 737,999 796,975 855,985 914,996 974,992 1033,1029 1092,1026 1151,1027 1210,1011 1270,959 1329,974 1388,968 1447,972 1506,959 1566,947 1625,932 1684,967 1691,967"/>
<path d="M618,1028 678,1015 737,988 796,982 855,1003 914,1011 974,1010 1033,1017 1092,1008 1151,1001 1210,999 1270,928 1329,934 1388,933 1447,922 1506,918 1566,937 1625,931 1684,964 1691,964"/>
<path d="M500,1035 559,1018 618,1006 678,1006 737,978 796,951 855,942 914,965 974,970 1033,998 1092,1006 1151,1004 1210,977 1270,902 1329,909 1388,893 1447,903 1506,889 1566,905 1625,907 1684,928 1691,928"/>
<path d="M500,1034 559,1025 618,1002 678,1001 737,974 796,966 855,974 914,962 974,976 1033,1007 1092,1008 1151,983 1210,970 1270,917 1329,935 1388,939 1447,934 1506,928 1566,942 1625,949 1684,986 1691,986"/>
<path d="M559,1032 618,1016 678,1017 737,1003 796,991 855,991 914,1003 974,1010 1033,1035 1092,1006 1151,993 1210,984 1270,935 1329,946 1388,966 1447,975 1506,960 1566,965 1625,962 1684,999 1691,999"/>
<path d="M618,1046 678,1027 737,1027 796,1029"/>
<path d="M500,1039 559,1017 618,1000 678,986 737,976 796,984 855,985 914,990 974,991 1033,1018 1092,1020 1151,1018 1210,1036 1270,979 1329,981 1388,982 1447,962 1506,952 1566,984 1625,960 1684,1000 1691,1000"/>
<path d="M559,1038 618,1020 678,1025 737,1018 796,1017 855,1010 914,1011 974,1020 1033,1062M1151,1053 1210,1010 1270,983 1329,984 1388,978 1447,971 1506,970 1566,984 1625,969 1684,1000 1691,1000"/>
<path d="M678,1037 737,1021 796,1018 855,1040M1210,1053 1270,1019 1329,1012 1388,1007 1447,1020 1506,1034"/>
<path d="M500,1027 559,1015 618,986 678,958 737,942 796,912 855,920 914,930 974,935 1033,943 1092,936 1151,929 1210,927 1270,871 1329,894 1388,895 1447,873 1506,874 1566,889 1625,867 1684,910 1691,910"/>
<path d="M382,1047 441,1025 500,1011 559,1002 618,986 678,975 737,961 796,936 855,950 914,965 974,968 1033,982 1092,962 1151,965 1210,944 1270,899 1329,890 1388,905 1447,889 1506,894 1566,910 1625,905 1684,936 1691,936"/>
<path d="M500,1034 559,1019 618,986 678,994 737,980 796,974 855,968 914,975 974,980 1033,1007 1092,1011 1151,990 1210,981 1270,932 1329,949 1388,948 1447,958 1506,960 1566,943 1625,937 1684,949 1691,949"/>
<path d="M737,1049 796,1024 855,1045M1092,1041 1151,1026 1210,1020 1270,976 1329,979 1388,998 1447,1001 1506,994 1566,1000 1625,1009 1684,1010 1691,1010"/>
<path d="M737,1030 796,1013 855,1014 914,1031M1210,1037 1270,1003 1329,1006 1388,1010 1447,1020 1506,1010 1566,1027 1625,1015 1684,1037 1691,1037"/>
<path d="M737,1028 796,1019 855,1044M1210,1045 1270,1002 1329,997 1388,993 1447,1009 1506,996 1566,1017 1625,989 1684,1012 1691,1012"/>
<path d="M1151,1031 1210,1024 1270,990 1329,991 1388,983 1447,995 1506,982 1566,996 1625,990 1684,1024 1691,1024"/>
<path d="M441,1035 500,1011 559,998 618,975 678,952 737,944 796,949 855,963 914,990 974,1005 1033,1032 1092,1021 1151,1014 1210,997 1270,957 1329,961 1388,961 1447,968 1506,968 1566,983 1625,989 1684,1023 1691,1023"/>
<path d="M737,1030 796,1010 855,1001 914,1013 974,1017 1033,1049M1210,1039 1270,991 1329,997 1388,991 1447,983 1506,987 1566,971 1625,968 1684,995 1691,995"/>
<path d="M559,1050 618,1024 678,1014 737,1021 796,1005 855,1018 914,1029 974,1026 1033,1046M1151,1027 1210,1022 1270,1002 1329,1005 1388,1001 1447,1008 1506,1008 1566,1027 1625,1012 1684,1037 1691,1037"/>
<path d="M618,1032 678,1015 737,1007 796,1010 855,1006 914,993 974,1000 1033,1016 1092,1007 1151,1014 1210,1005 1270,979 1329,990 1388,989 1447,988 1506,990 1566,1010 1625,995 1684,1020 1691,1020"/>
<path d="M500,1034 559,1019 618,1001 678,998 737,1001 796,987 855,996 914,998 974,1005 1033,1024 1092,1020 1151,1005 1210,990 1270,952 1329,951 1388,944 1447,960 1506,968 1566,983 1625,979 1684,1014 1691,1014"/>
<path d="M382,1049 441,996 500,988 559,979 618,951 678,910 737,857 796,821 855,841 914,842 974,847 1033,843 1092,874 1151,862 1210,824 1270,774 1329,801 1388,785 1447,796 1506,788 1566,763 1625,767 1684,804 1691,804"/>
<path d="M559,1037 618,1007 678,985 737,988 796,970 855,974 914,982 974,985 1033,992 1092,983 1151,981 1210,972 1270,930 1329,942 1388,947 1447,954 1506,956 1566,962 1625,961 1684,994 1691,994"/>
<path d="M500,1042 559,1025 618,1017 678,1018 737,998 796,975 855,982 914,990 974,1006 1033,1027 1092,1029 1151,1016 1210,1000 1270,954 1329,950 1388,953 1447,948 1506,947 1566,947 1625,949 1684,971 1691,971"/>
<path d="M737,1035 796,1016 855,1032M1270,1029 1329,1024 1388,1026 1447,1036"/>
<path d="M678,1032 737,1022 796,997 855,1014 914,1017 974,1011 1033,1023 1092,1031 1151,1023 1210,1015 1270,958 1329,956 1388,957 1447,952 1506,950 1566,974 1625,952 1684,1000 1691,1000"/>
<path d="M737,1039 796,1016 855,1025 914,1040M1210,1048 1270,1023 1329,1029M1447,1036 1506,1025 1566,1041 1625,1024 1684,1039 1691,1039"/>
<path d="M500,1028 559,1010 618,1003 678,1012 737,988 796,977 855,970 914,980 974,994 1033,1011 1092,984 1151,985 1210,983 1270,936 1329,953 1388,958 1447,964 1506,941 1566,964 1625,944 1684,967 1691,967"/>
<path d="M737,1039 796,1025 855,1042M1210,1043 1270,1011 1329,1024 1388,1025 1447,1037 1506,1014 1566,1029 1625,1009 1684,1037 1691,1037"/>
<path d="M441,1028 500,1020 559,1009 618,977 678,975 737,981 796,972 855,938 914,946 974,953 1033,970 1092,938 1151,952 1210,950 1270,903 1329,873 1388,898 1447,914 1506,906 1566,923 1625,894 1684,919 1691,919"/>
<path d="M559,1053 618,1023 678,998 737,1003 796,990 855,998 914,1005 974,1012 1033,1032M1151,1029 1210,1020 1270,977 1329,964 1388,963 1447,975 1506,969 1566,963 1625,945 1684,966 1691,966"/>
<path d="M500,1028 559,1018 618,991 678,982 737,970 796,932 855,940 914,949 974,967 1033,1003 1092,985 1151,972 1210,960 1270,904 1329,932 1388,934 1447,920 1506,910 1566,914 1625,920 1684,950 1691,950"/>
<path d="M1210,1060 1270,1007 1329,1007 1388,1014 1447,992 1506,991 1566,994 1625,973 1684,1001 1691,1001"/>
<path d="M678,1040 737,1027 796,1027 855,1041M1210,1035 1270,996 1329,1007 1388,995 1447,1002 1506,1002 1566,1007 1625,1006 1684,1005 1691,1005"/>
<path d="M1210,1041 1270,1027 1329,1034M1447,1031 1506,1014 1566,1028 1625,1024 1684,1049 1691,1049"/>
<path d="M618,1033 678,1022 737,1021 796,1009 855,1020 914,1018 974,1020 1033,1054M1151,1039 1210,1025 1270,993 1329,996 1388,1011 1447,1016 1506,1005 1566,1027 1625,1014 1684,1029 1691,1029"/>
<path d="M559,1030 618,1018 678,1012 737,983 796,968 855,969 914,980 974,991 1033,1030 1092,1017 1151,1005 1210,996 1270,948 1329,956 1388,942 1447,950 1506,934 1566,952 1625,943 1684,958 1691,958"/>
<path d="M500,1039 559,1024 618,1008 678,984 737,973 796,952 855,954 914,983 974,992 1033,1022 1092,1001 1151,997 1210,986 1270,957 1329,961 1388,965 1447,966 1506,952 1566,961 1625,948 1684,970 1691,970"/>
<path d="M500,1036 559,1021 618,1002 678,995 737,976 796,963 855,973 914,995 974,991 1033,1003 1092,999 1151,991 1210,987 1270,931 1329,935 1388,940 1447,941 1506,946 1566,954 1625,944 1684,992 1691,992"/>
<path d="M500,1031 559,1010 618,988 678,985 737,979 796,978 855,992 914,998 974,994 1033,1021 1092,1012 1151,1004 1210,994 1270,944 1329,930 1388,933 1447,939 1506,931 1566,945 1625,943 1684,981 1691,981"/>
<path d="M678,1029 737,1021 796,995 855,1017 914,1042M1210,1042 1270,1006 1329,1015 1388,1011 1447,1000 1506,986 1566,988 1625,988 1684,1005 1691,1005"/>
<path d="M441,1062 500,1017 559,979 618,933 678,865 737,841 796,817 855,850 914,856 974,880 1033,907 1092,941 1151,905 1210,865 1270,789 1329,806 1388,795 1447,820 1506,788 1566,809 1625,801 1684,831 1691,831"/>
<path d="M559,1033 618,1022 678,1019 737,1012 796,983 855,997 914,999 974,1010 1033,1033 1092,1017 1151,1009 1210,1003 1270,963 1329,948 1388,942 1447,939 1506,942 1566,950 1625,929 1684,972 1691,972"/>
<path d="M559,1037 618,1016 678,1006 737,1001 796,1000 855,1008 914,1018 974,1018 1033,1044 1092,1033 1151,1018 1210,1009 1270,973 1329,970 1388,975 1447,980 1506,980 1566,992 1625,985 1684,1028 1691,1028"/>
<path d="M678,1034 737,1015 796,1010 855,1027M1210,1042 1270,999 1329,1007 1388,1004 1447,993 1506,984 1566,981 1625,978 1684,991 1691,991"/>
<path d="M441,1042 500,1027 559,1018 618,1009 678,1003 737,986 796,980 855,959 914,984 974,999 1033,1021 1092,1003 1151,988 1210,969 1270,887 1329,892 1388,883 1447,889 1506,860 1566,876 1625,862 1684,910 1691,910"/>
<path d="M1210,1065 1270,1014 1329,1009 1388,1015 1447,1026 1506,1010 1566,1035"/>
<path d="M1388,1029 1447,1010 1506,1001 1566,1010 1625,1005 1684,1046 1691,1046"/>
<path d="M500,1034 559,1023 618,1000 678,982 737,956 796,952 855,981 914,998 974,1007 1033,1024 1092,1010 1151,993 1210,983 1270,950 1329,950 1388,959 1447,952 1506,960 1566,960 1625,961 1684,993 1691,993"/>
<path d="M559,1047 618,1026 678,1016 737,989 796,973 855,988 914,995 974,999 1033,1019 1092,1006 1151,988 1210,980 1270,928 1329,925 1388,934 1447,926 1506,914 1566,915 1625,927 1684,948 1691,948"/>
<path d="M678,1041 737,1021 796,992 855,998 914,1008 974,1017 1033,1044 1092,1024 1151,1034 1210,1019 1270,962 1329,981 1388,1000 1447,998 1506,984 1566,982 1625,976 1684,995 1691,995"/>
<path d="M1388,1038 1447,1021 1506,1013 1566,1021 1625,1011 1684,1028 1691,1028"/>
<path d="M382,1032 441,992 500,997 559,936 618,907 678,854 737,821 796,788 855,786 914,821 974,821 1033,869 1092,883 1151,836 1210,775 1270,751 1329,729 1388,733 1447,691 1506,691 1566,702 1625,696 1684,708 1691,708"/>
<path d="M559,1035 618,1018 678,1001 737,993 796,972 855,993 914,993 974,999 1033,1044M1151,1037 1210,1021 1270,971 1329,966 1388,960 1447,950 1506,940 1566,958 1625,962 1684,1000 1691,1000"/>
<path d="M500,1030 559,1002 618,976 678,972 737,960 796,943 855,948 914,951 974,958 1033,992 1092,973 1151,958 1210,945 1270,907 1329,898 1388,891 1447,906 1506,895 1566,905 1625,898 1684,928 1691,928"/>
<path d="M559,1034 618,1018 678,997 737,987 796,952 855,974 914,981 974,983 1033,1018 1092,1010 1151,996 1210,973 1270,937 1329,947 1388,951 1447,945 1506,946 1566,951 1625,943 1684,977 1691,977"/>
<path d="M500,1044 559,1025 618,997 678,992 737,968 796,953 855,960 914,972 974,983 1033,1000 1092,992 1151,989 1210,966 1270,924 1329,925 1388,932 1447,926 1506,930 1566,939 1625,940 1684,964 1691,964"/>
<path d="M618,1034 678,1018 737,1009 796,1008 855,1017 914,1026 974,1021 1033,1042M1210,1030 1270,984 1329,989 1388,973 1447,956 1506,949 1566,964 1625,961 1684,989 1691,989"/>
<path d="M559,1036 618,1010 678,1013 737,999 796,986 855,973 914,989 974,1009 1033,1039 1092,1025 1151,1019 1210,999 1270,955 1329,956 1388,929 1447,928 1506,920 1566,936 1625,954 1684,969 1691,969"/>
<path d="M441,1049 500,1009 559,1000 618,986 678,951 737,952 796,920 855,924 914,938 974,946 1033,961 1092,965 1151,957 1210,920 1270,860 1329,870 1388,869 1447,846 1506,831 1566,881 1625,841 1684,851 1691,851"/>
<path d="M559,1036 618,1017 678,1006 737,979 796,969 855,972 914,985 974,999 1033,1033 1092,1015 1151,996 1210,982 1270,944 1329,933 1388,935 1447,934 1506,942 1566,954 1625,925 1684,956 1691,956"/>
<path d="M500,1040 559,1021 618,1003 678,992 737,961 796,960 855,971 914,962 974,986 1033,1004 1092,994 1151,980 1210,966 1270,934 1329,930 1388,938 1447,948 1506,934 1566,951 1625,942 1684,970 1691,970"/>
<path d="M500,1032 559,1026 618,999 678,995 737,988 796,939 855,918 914,924 974,952 1033,1000 1092,993 1151,994 1210,982 1270,929 1329,920 1388,892 1447,904 1506,901 1566,931 1625,900 1684,919 1691,919"/>
<path d="M559,1042 618,1015 678,1008 737,1006 796,999 855,1003 914,1009 974,1009 1033,1044 1092,1024 1151,1016 1210,1011 1270,971 1329,950 1388,948 1447,949 1506,938 1566,955 1625,932 1684,962 1691,962"/>
<path d="M678,1030 737,1023 796,1001 855,1007 914,1015 974,1026 1033,1046 1092,1031 1151,1027 1210,1033 1270,999 1329,1004 1388,1002 1447,989 1506,988 1566,1002 1625,991 1684,1013 1691,1013"/>
<path d="M1210,1040 1270,1023 1329,1022 1388,1033 1447,1005 1506,998 1566,1003 1625,999 1684,1007 1691,1007"/>
<path d="M737,1029 796,1023 855,1031M1151,1041 1210,1024 1270,996 1329,993 1388,993 1447,1016 1506,1006 1566,1002 1625,996 1684,1020 1691,1020"/>
<path d="M618,1029 678,1020 737,1006 796,990 855,982 914,1012 974,1015 1033,1044M1151,1032 1210,1026 1270,967 1329,970 1388,974 1447,969 1506,978 1566,986 1625,981 1684,1015 1691,1015"/>
<path d="M559,1028 618,986 678,955 737,937 796,882 855,896 914,917 974,895 1033,903 1092,869 1151,842 1210,827 1270,754 1329,799 1388,800 1447,761 1506,788 1566,838 1625,821 1684,846 1691,846"/>
<path d="M559,1038 618,1001 678,976 737,945 796,902 855,874 914,897 974,861 1033,893 1092,897 1151,918 1210,909 1270,846 1329,829 1388,835 1447,854 1506,846 1566,882 1625,891 1684,892 1691,892"/>
<path d="M678,1036 737,1022 796,1010 855,1025 914,1039M1210,1034 1270,1004 1329,993 1388,997 1447,981 1506,989 1566,993 1625,990 1684,1010 1691,1010"/>
<path d="M441,1029 500,1018 559,1007 618,978 678,972 737,953 796,945 855,935 914,960 974,958 1033,993 1092,961 1151,960 1210,937 1270,897 1329,889 1388,914 1447,944 1506,933 1566,919 1625,891 1684,899 1691,899"/>
<path d="M1210,1052 1270,1022 1329,1030 1388,1030 1447,1023 1506,1013 1566,1019 1625,1002 1684,1021 1691,1021"/>
<path d="M559,1037 618,1019 678,1011 737,1005 796,975 855,987 914,996 974,997 1033,1051 1092,1033 1151,1025 1210,1014 1270,971 1329,968 1388,967 1447,953 1506,956 1566,964 1625,953 1684,990 1691,990"/>
<path d="M1447,1039 1506,1026 1566,1045"/>
<path d="M500,1036 559,1026 618,1003 678,991 737,983 796,971 855,979 914,994 974,1013 1033,1034M1151,1033 1210,1026 1270,988 1329,971 1388,971 1447,956 1506,945 1566,958 1625,963 1684,987 1691,987"/>
<path d="M737,1030 796,1014 855,1024 914,1047M1210,1057 1270,997 1329,986 1388,981 1447,983 1506,988 1566,995 1625,979 1684,1010 1691,1010"/>
<path d="M737,1037 796,1013 855,1015 914,1021 974,1034M1092,1030 1151,1020 1210,979 1270,973 1329,995 1388,1003 1447,1008 1506,1007 1566,1005 1625,988 1684,1026 1691,1026"/>
<path d="M441,1034 500,994 559,984 618,912 678,873 737,849 796,807 855,836 914,876 974,850 1033,836 1092,832 1151,847 1210,839 1270,728 1329,744 1388,748 1447,690 1506,740 1566,778 1625,766 1684,782 1691,782"/>
<path d="M737,1037 796,1026 855,1027M1210,1060 1270,1027 1329,1037"/>
<path d="M500,1047 559,1019 618,1016 678,1012 737,1004 796,980 855,993 914,1003 974,1014 1033,1034 1092,1014 1151,992 1210,997 1270,957 1329,964 1388,969 1447,964 1506,951 1566,965 1625,962 1684,980 1691,980"/>
<path d="M737,1037 796,1024 855,1035M1210,1033 1270,1005 1329,1017 1388,1016 1447,1009 1506,1001 1566,1009 1625,1017 1684,1038 1691,1038"/>
<path d="M441,1054 500,1027 559,1020 618,1005 678,986 737,984 796,974 855,979 914,982 974,970 1033,988 1092,980 1151,962 1210,969 1270,926 1329,945 1388,935 1447,938 1506,930 1566,944 1625,934 1684,970 1691,970"/>
<path d="M500,1050 559,1024 618,1005 678,996 737,981 796,988 855,986 914,1011 974,1023 1033,1046M1210,1032 1270,989 1329,1003 1388,1028 1447,1012 1506,1016 1566,1014 1625,1000 1684,1016 1691,1016"/>
<path d="M559,1037 618,1020 678,1001 737,991 796,982 855,991 914,1003 974,1005 1033,1019 1092,990 1151,986 1210,973 1270,935 1329,933 1388,932 1447,936 1506,923 1566,939 1625,929 1684,961 1691,961"/>
<path d="M1210,1040 1270,1002 1329,1026 1388,1019 1447,1019 1506,1029"/>
<path d="M500,1029 559,1018 618,1003 678,1001 737,980 796,965 855,969 914,976 974,994 1033,1022 1092,1016 1151,1022 1210,998 1270,948 1329,950 1388,942 1447,951 1506,935 1566,951 1625,941 1684,974 1691,974"/>
<path d="M678,1039 737,1022 796,1014 855,1022 914,1042M1210,1047 1270,1018 1329,1020 1388,1026 1447,1026 1506,1021 1566,1025 1625,1010 1684,1040 1691,1040"/>
<path d="M382,1043 441,1027 500,981 559,966 618,909 678,879 737,825 796,817 855,853 914,849 974,896 1033,904 1092,868 1151,821 1210,842 1270,820 1329,822 1388,798 1447,773 1506,784 1566,774 1625,776 1684,787 1691,787"/>
<path d="M500,1047 559,1027 618,1002 678,989 737,981 796,970 855,972 914,999 974,1013 1033,1040 1092,1025 1151,1008 1210,997 1270,946 1329,952 1388,943 1447,933 1506,942 1566,941 1625,930 1684,964 1691,964"/>
<path d="M559,1048 618,1026 678,1023 737,1010 796,1009 855,1025 914,1021 974,1032M1151,1037 1210,1019 1270,994 1329,997 1388,1007 1447,1001 1506,995 1566,1009 1625,1014 1684,1045 1691,1045"/>
<path d="M559,1046 618,1018 678,1004 737,1001 796,987 855,993 914,992 974,1002 1033,1034 1092,1020 1151,1018 1210,999 1270,947 1329,943 1388,954 1447,940 1506,910 1566,915 1625,915 1684,955 1691,955"/>
<path d="M441,1043 500,1014 559,1004 618,988 678,975 737,968 796,962 855,951 914,974 974,984 1033,1010 1092,998 1151,981 1210,980 1270,941 1329,937 1388,939 1447,945 1506,928 1566,936 1625,944 1684,969 1691,969"/>
<path d="M618,1041 678,1016 737,997 796,975 855,992 914,1009 974,1019 1033,1046 1092,1029 1151,1017 1210,1006 1270,974 1329,971 1388,971 1447,968 1506,954 1566,969 1625,964 1684,984 1691,984"/>
<path d="M678,1033 737,1025 796,1024 855,1030M1151,1038 1210,1018 1270,984 1329,992 1388,1005 1447,1007 1506,1005 1566,1010 1625,995 1684,1017 1691,1017"/>
<path d="M559,1037 618,1018 678,1011 737,994 796,978 855,995 914,997 974,1004 1033,1033 1092,1009 1151,999 1210,985 1270,946 1329,938 1388,938 1447,948 1506,943 1566,940 1625,926 1684,962 1691,962"/>
<path d="M441,1044 500,1023 559,1007 618,992 678,969 737,950 796,922 855,944 914,967 974,981 1033,1012 1092,1011 1151,1015 1210,987 1270,936 1329,939 1388,938 1447,945 1506,944 1566,957 1625,940 1684,976 1691,976"/>
<path d="M678,1027 737,1021 796,988 855,1016 914,1015 974,1011 1033,1042M1210,1047 1270,1009 1329,1022 1388,1020 1447,1020 1506,1023 1566,1021 1625,1004 1684,1040 1691,1040"/>
<path d="M1447,1028 1506,1022 1566,1030 1625,1022 1684,1037 1691,1037"/>
<path d="M678,1045 737,1021 796,1011 855,1000 914,1018 974,1032M1210,1037 1270,1006 1329,1001 1388,999 1447,992 1506,977 1566,982 1625,991 1684,1006 1691,1006"/>
<path d="M559,1053 618,1025 678,1019 737,1018 796,992 855,1002 914,1012 974,1004 1033,1018 1092,1015 1151,998 1210,1002 1270,941 1329,944 1388,946 1447,930 1506,922 1566,950 1625,936 1684,960 1691,960"/>
<path d="M618,1035 678,1020 737,1020 796,994 855,983 914,997 974,1003 1033,1040M1210,1031 1270,982 1329,982 1388,995 1447,1007 1506,984 1566,981 1625,975 1684,1004 1691,1004"/>
<path d="M1210,1056 1270,1015 1329,1031M1447,1028 1506,1024 1566,1043"/>
<path d="M618,1046 678,1025 737,1016 796,1002 855,1026 914,1027 974,1016 1033,1039M1210,1031 1270,1004 1329,1005 1388,1010 1447,1010 1506,1018 1566,1037"/>
<path d="M678,1030 737,1007 796,1000 855,1003 914,1022 974,1037M1210,1031 1270,978 1329,983 1388,966 1447,980 1506,962 1566,973 1625,963 1684,989 1691,989"/>
<path d="M678,1035 737,1015 796,1005 855,1033M1270,1029 1329,1026 1388,1018 1447,1025 1506,1008 1566,1023 1625,1020 1684,1027 1691,1027"/>
<path d="M618,1030 678,1026 737,1014 796,992 855,991 914,997 974,1029M1092,1035 1151,1023 1210,1001 1270,951 1329,944 1388,952 1447,963 1506,966 1566,958 1625,957 1684,987 1691,987"/>
<path d="M500,1037 559,1010 618,996 678,973 737,969 796,960 855,984 914,996 974,1003 1033,1035 1092,1026 1151,1021 1210,1019 1270,981 1329,960 1388,979 1447,972 1506,982 1566,998 1625,982 1684,1023 1691,1023"/>
<path d="M559,1040 618,1019 678,1016 737,1006 796,976 855,984 914,989 974,999 1033,1038 1092,1031 1151,1012 1210,1010 1270,957 1329,958 1388,978 1447,973 1506,970 1566,978 1625,956 1684,999 1691,999"/>
<path d="M678,1027 737,1019 796,1013 855,1021 914,1018 974,1025 1033,1057M1151,1037 1210,1024 1270,997 1329,1001 1388,1001 1447,993 1506,997 1566,1002 1625,1007 1684,1034 1691,1034"/>
<path d="M500,1034 559,1018 618,994 678,986 737,973 796,974 855,992 914,991 974,1005 1033,1029 1092,998 1151,1008 1210,1005 1270,955 1329,956 1388,958 1447,955 1506,960 1566,971 1625,954 1684,995 1691,995"/>
<path d="M1210,1047 1270,1020 1329,1030 1388,1023 1447,1026 1506,1021 1566,1025 1625,1034"/>
<path d="M441,1039 500,1022 559,1013 618,982 678,977 737,971 796,957 855,970 914,986 974,975 1033,1017 1092,1012 1151,1014 1210,986 1270,944 1329,939 1388,929 1447,927 1506,908 1566,931 1625,905 1684,938 1691,938"/>
<path d="M1210,1055 1270,1026 1329,1034 1388,1030 1447,1022 1506,1012 1566,1019 1625,1024 1684,1050 1691,1050"/>
<path d="M500,1030 559,1014 618,997 678,990 737,961 796,953 855,952 914,981 974,975 1033,1017 1092,1006 1151,998 1210,986 1270,937 1329,947 1388,942 1447,942 1506,944 1566,945 1625,933 1684,973 1691,973"/>
<path d="M559,1043 618,1025 678,1020 737,1002 796,986 855,981 914,1007 974,1026 1033,1045 1092,1018 1151,1006 1210,1000 1270,969 1329,970 1388,978 1447,982 1506,974 1566,987 1625,981 1684,1013 1691,1013"/>
<path d="M618,1044 678,1025 737,1032 796,1014 855,1022 914,1026 974,1026 1033,1033M1151,1035 1210,1018 1270,990 1329,990 1388,995 1447,1008 1506,1005 1566,1001 1625,998 1684,1033 1691,1033"/>
<path d="M737,1054 796,1026 855,1015 914,1011 974,1033M1210,1036 1270,999 1329,1001 1388,989 1447,989 1506,993 1566,1001 1625,1003 1684,1023 1691,1023"/>
<path d="M678,1028 737,1023 796,1007 855,1019 914,1032M1329,1034 1388,1024 1447,1025 1506,1010 1566,1009 1625,1003 1684,1031 1691,1031"/>
<path d="M559,1040 618,1027 678,1027 737,1003 796,973 855,974 914,999 974,1008 1033,1035 1092,1027 1151,1005 1210,1000 1270,952 1329,948 1388,949 1447,941 1506,934 1566,939 1625,928 1684,962 1691,962"/>
<path d="M500,1040 559,1018 618,1001 678,973 737,968 796,961 855,975 914,988 974,988 1033,997 1092,976 1151,970 1210,978 1270,919 1329,913 1388,936 1447,938 1506,930 1566,925 1625,916 1684,954 1691,954"/>
<path d="M559,1040 618,1017 678,1009 737,1009 796,1000 855,998 914,1011 974,1008 1033,1023 1092,1005 1151,1003 1210,991 1270,965 1329,966 1388,968 1447,958 1506,968 1566,977 1625,947 1684,978 1691,978"/>
<path d="M559,1028 618,1015 678,981 737,977 796,940 855,965 914,970 974,994 1033,1009 1092,998 1151,993 1210,991 1270,934 1329,931 1388,941 1447,942 1506,946 1566,953 1625,952 1684,979 1691,979"/>
<path d="M500,1036 559,1017 618,1006 678,990 737,989 796,957 855,962 914,977 974,984 1033,1015 1092,1009 1151,1011 1210,998 1270,939 1329,940 1388,934 1447,925 1506,917 1566,940 1625,941 1684,976 1691,976"/>
<path d="M500,1036 559,1018 618,998 678,984 737,984 796,968 855,966 914,977 974,977 1033,987 1092,971 1151,958 1210,950 1270,909 1329,904 1388,904 1447,904 1506,901 1566,900 1625,881 1684,917 1691,917"/>
<path d="M796,1030 855,1025 914,1039M1210,1039 1270,1006 1329,1007 1388,1007 1447,988 1506,984 1566,991 1625,992 1684,1006 1691,1006"/>
<path d="M678,1054 737,1025 796,1016 855,1029M1210,1040 1270,1011 1329,998 1388,1009 1447,1014 1506,1009 1566,1016 1625,1006 1684,1015 1691,1015"/>
<path d="M441,1051 500,1027 559,1016 618,1000 678,997 737,980 796,968 855,989 914,990 974,997 1033,1025 1092,1019 1151,1018 1210,1017 1270,981 1329,990 1388,984 1447,993 1506,975 1566,978 1625,984 1684,1019 1691,1019"/>
<path d="M855,1036 914,1027 974,1023 1033,1069M1210,1040 1270,1017 1329,1028 1388,1032 1447,1018 1506,1010 1566,1022 1625,1017 1684,1032 1691,1032"/>
<path d="M618,1038 678,1025 737,1012 796,1015 855,1031M1033,1041 1092,1017 1151,1025 1210,1019 1270,993 1329,1002 1388,1010 1447,1002 1506,998 1566,998 1625,976 1684,1006 1691,1006"/>
<path d="M559,1035 618,1020 678,1002 737,1008 796,978 855,994 914,1009 974,1006 1033,1034M1151,1029 1210,1018 1270,983 1329,992 1388,1009 1447,990 1506,990 1566,995 1625,994 1684,1025 1691,1025"/>
<path d="M1151,1038 1210,1023 1270,998 1329,1009 1388,1012 1447,1003 1506,1003 1566,1017 1625,1028"/>
<path d="M678,1034 737,1026 796,1009 855,1013 914,1023 974,1031M1151,1046 1210,1024 1270,985 1329,995 1388,998 1447,1004 1506,996 1566,1016 1625,998 1684,1018 1691,1018"/>
<path d="M678,1030 737,1025 796,1015 855,1038"/>
<path d="M559,1027 618,1007 678,1009 737,993 796,975 855,993 914,996 974,1000 1033,1049M1210,1040 1270,987 1329,980 1388,979 1447,981 1506,965 1566,978 1625,974 1684,1001 1691,1001"/>
<path d="M500,1032 559,1014 618,994 678,987 737,971 796,977 855,977 914,1007 974,1016 1033,1029 1092,1015 1151,1025 1210,1025 1270,985 1329,987 1388,991 1447,973 1506,968 1566,960 1625,944 1684,989 1691,989"/>
<path d="M500,1037 559,1023 618,1005 678,992 737,985 796,958 855,950 914,949 974,962 1033,988 1092,977 1151,966 1210,966 1270,930 1329,913 1388,889 1447,898 1506,885 1566,898 1625,879 1684,929 1691,929"/>
<path d="M1210,1047 1270,1015 1329,1038"/>
<path d="M1210,1037 1270,999 1329,1000 1388,992 1447,990 1506,972 1566,973 1625,979 1684,1014 1691,1014"/>
<path d="M559,1038 618,1020 678,1008 737,984 796,989 855,1007 914,1020 974,1030M1151,1040 1210,1020 1270,980 1329,974 1388,969 1447,960 1506,955 1566,984 1625,976 1684,1025 1691,1025"/>
<path d="M559,1028 618,1009 678,989 737,978 796,972 855,968 914,980 974,990 1033,1029 1092,1013 1151,987 1210,961 1270,900 1329,910 1388,911 1447,904 1506,900 1566,913 1625,898 1684,943 1691,943"/>
<path d="M678,1028 737,1018 796,1004 855,1015 914,1020 974,1035 1033,1054 1092,1027 1151,1031 1210,1012 1270,978 1329,985 1388,969 1447,963 1506,954 1566,952 1625,946 1684,981 1691,981"/>
<path d="M737,1043 796,1016 855,1040M1210,1053 1270,1024 1329,1036M1447,1039 1506,1014 1566,1044"/>
<path d="M737,1034 796,1009 855,1021 914,1019 974,1025 1033,1043M1151,1031 1210,1015 1270,968 1329,976 1388,1002 1447,992 1506,975 1566,971 1625,968 1684,987 1691,987"/>
<path d="M500,1028 559,1008 618,975 678,963 737,952 796,914 855,882 914,881 974,904 1033,913 1092,927 1151,920 1210,892 1270,851 1329,849 1388,841 1447,851 1506,838 1566,891 1625,877 1684,899 1691,899"/>
<path d="M618,1028 678,1009 737,1013 796,1007 855,1009 914,1005 974,1008 1033,1045M1151,1031 1210,1016 1270,971 1329,986 1388,1008 1447,991 1506,966 1566,969 1625,961 1684,989 1691,989"/>
<path d="M678,1044 737,1008 796,999 855,1012 914,1022 974,1019 1033,1033 1092,1017 1151,1025 1210,1014 1270,963 1329,962 1388,955 1447,956 1506,950 1566,974 1625,961 1684,982 1691,982"/>
<path d="M500,1045 559,1025 618,1004 678,1006 737,995 796,979 855,998 914,1002 974,1022 1033,1045 1092,1025 1151,1034 1210,1014 1270,961 1329,973 1388,985 1447,981 1506,973 1566,982 1625,977 1684,1014 1691,1014"/>
<path d="M559,1032 618,1021 678,1009 737,1000 796,977 855,987 914,1014 974,1020 1033,1049 1092,1028 1151,1019 1210,1008 1270,972 1329,983 1388,977 1447,969 1506,947 1566,966 1625,956 1684,999 1691,999"/>
<path d="M441,1046 500,1018 559,990 618,966 678,939 737,905 796,852 855,886 914,891 974,888 1033,906 1092,919 1151,910 1210,899 1270,849 1329,854 1388,874 1447,872 1506,861 1566,863 1625,836 1684,868 1691,868"/>
<path d="M441,1037 500,1016 559,1002 618,991 678,974 737,968 796,951 855,984 914,1000 974,998 1033,1030 1092,1020 1151,1007 1210,988 1270,940 1329,951 1388,965 1447,960 1506,966 1566,990 1625,992 1684,1018 1691,1018"/>
<path d="M500,1035 559,1001 618,929 678,902 737,903 796,856 855,874 914,897 974,908 1033,951 1092,865 1151,855 1210,843 1270,780 1329,803 1388,845 1447,820 1506,795 1566,810 1625,802 1684,817 1691,817"/>
<path d="M500,1040 559,1021 618,998 678,998 737,994 796,970 855,975 914,984 974,986 1033,1011 1092,981 1151,970 1210,955 1270,912 1329,901 1388,895 1447,895 1506,893 1566,903 1625,885 1684,914 1691,914"/>
<path d="M678,1031 737,1016 796,1009 855,1017 914,1037M1210,1048 1270,997 1329,996 1388,991 1447,992 1506,986 1566,996 1625,991 1684,1001 1691,1001"/>
<path d="M618,1031 678,1019 737,990 796,975 855,987 914,1005 974,1008 1033,1032 1092,1020 1151,1014 1210,1012 1270,972 1329,976 1388,982 1447,983 1506,967 1566,973 1625,966 1684,994 1691,994"/>
<path d="M737,1033 796,1015 855,1012 914,1020 974,1027M1210,1033 1270,1009 1329,1015 1388,1026 1447,1032"/>
<path d="M559,1031 618,1008 678,982 737,963 796,943 855,924 914,952 974,970 1033,974 1092,950 1151,952 1210,940 1270,897 1329,897 1388,901 1447,911 1506,918 1566,926 1625,920 1684,952 1691,952"/>
<path d="M559,1028 618,1018 678,1006 737,981 796,949 855,954 914,966 974,979 1033,996 1092,999 1151,984 1210,961 1270,898 1329,913 1388,926 1447,925 1506,908 1566,915 1625,907 1684,935 1691,935"/>
<path d="M1388,1031 1447,1015 1506,1019 1566,1038 1625,1027 1684,1048 1691,1048"/>
<path d="M1210,1048 1270,1025 1329,1028 1388,1024 1447,1022 1506,998 1566,1011 1625,1013 1684,1041 1691,1041"/>
<path d="M1447,1039 1506,1023 1566,1023 1625,1010 1684,1030 1691,1030"/>
<path d="M559,1041 618,1015 678,1003 737,996 796,990 855,997 914,998 974,1011 1033,1039 1092,1041 1151,1013 1210,1013 1270,983 1329,992 1388,983 1447,980 1506,994 1566,997 1625,974 1684,1002 1691,1002"/>
<path d="M441,1037 500,1021 559,1005 618,995 678,987 737,955 796,939 855,932 914,931 974,946 1033,950 1092,955 1151,951 1210,929 1270,900 1329,904 1388,896 1447,887 1506,870 1566,890 1625,872 1684,888 1691,888"/>
<path d="M559,1032 618,1007 678,1001 737,988 796,985 855,1001 914,1003 974,1003 1033,1029 1092,1010 1151,1014 1210,993 1270,957 1329,964 1388,977 1447,963 1506,969 1566,966 1625,951 1684,1000 1691,1000"/>
<path d="M559,1030 618,1009 678,996 737,974 796,978 855,975 914,993 974,1009 1033,1041 1092,1035 1151,1024 1210,1003 1270,964 1329,958 1388,965 1447,962 1506,942 1566,957 1625,961 1684,990 1691,990"/>
<path d="M441,1042 500,1018 559,1006 618,987 678,973 737,954 796,961 855,974 914,989 974,991 1033,1021 1092,1017 1151,1009 1210,992 1270,959 1329,963 1388,969 1447,974 1506,969 1566,963 1625,967 1684,993 1691,993"/>
<path d="M1210,1058 1270,1022 1329,1029M1506,1031 1566,1025 1625,1015 1684,1048 1691,1048"/>
<path d="M559,1047 618,977 678,946 737,937 796,880 855,881 914,842 974,847 1033,848 1092,836 1151,800 1210,794 1270,742 1329,750 1388,773 1447,808 1506,780 1566,789 1625,747 1684,800 1691,800"/>
<path d="M559,1045 618,1019 678,987 737,986 796,976 855,978 914,996 974,999 1033,1033 1092,998 1151,1007 1210,995 1270,945 1329,947 1388,943 1447,941 1506,944 1566,954 1625,946 1684,979 1691,979"/>
<path d="M559,1051 618,1024 678,1020 737,1021 796,1015 855,1012 914,1014 974,1021 1033,1038M1151,1038 1210,1023 1270,998 1329,999 1388,1002 1447,1008 1506,1000 1566,1018 1625,1015 1684,1053 1691,1053"/>
<path d="M382,1049 441,1019 500,998 559,983 618,932 678,904 737,885 796,836 855,861 914,904 974,918 1033,928 1092,897 1151,895 1210,888 1270,845 1329,844 1388,848 1447,820 1506,777 1566,808 1625,803 1684,840 1691,840"/>
<path d="M737,1049 796,1024 855,1037M1447,1028 1506,1022 1566,1025 1625,1007 1684,1018 1691,1018"/>
<path d="M737,1031 796,1024 855,1024 914,1026 974,1046M1447,1033 1506,1020 1566,1035 1625,1019 1684,1045 1691,1045"/>
<path d="M737,1033 796,1021 855,1031M1210,1039 1270,998 1329,1006 1388,1011 1447,1006 1506,1023 1566,1020 1625,1010 1684,1027 1691,1027"/>
<path d="M500,1030 559,1016 618,999 678,967 737,966 796,942 855,954 914,974 974,994 1033,1013 1092,995 1151,969 1210,967 1270,902 1329,913 1388,929 1447,921 1506,904 1566,919 1625,898 1684,918 1691,918"/>
<path d="M559,1028 618,1015 678,979 737,965 796,943 855,967 914,981 974,986 1033,1031 1092,1026 1151,1010 1210,988 1270,938 1329,922 1388,914 1447,931 1506,927 1566,946 1625,942 1684,976 1691,976"/>
<path d="M559,1040 618,1019 678,1013 737,1000 796,988 855,999 914,1016 974,1016 1033,1048 1092,1024 1151,1012 1210,1008 1270,966 1329,965 1388,972 1447,983 1506,975 1566,988 1625,983 1684,992 1691,992"/>
<path d="M441,1045 500,1013 559,1008 618,981 678,979 737,969 796,936 855,951 914,964 974,985 1033,994 1092,979 1151,965 1210,957 1270,900 1329,922 1388,919 1447,942 1506,920 1566,939 1625,935 1684,949 1691,949"/>
<path d="M678,1030 737,1019 796,1000 855,1004 914,1018 974,1015 1033,1034 1092,1029 1151,1022 1210,1000 1270,959 1329,969 1388,978 1447,968 1506,962 1566,973 1625,976 1684,1006 1691,1006"/>
<path d="M618,1033 678,1022 737,1031 796,1015 855,1033M1210,1046 1270,1013 1329,1012 1388,1010 1447,1005 1506,1004 1566,1008 1625,997 1684,1031 1691,1031"/>
<path d="M737,1040 796,1017 855,1029M1210,1040 1270,1010 1329,1019 1388,1050 1447,1044 1506,1020 1566,1017 1625,991 1684,1019 1691,1019"/>
<path d="M559,1046 618,1023 678,1029 737,1017 796,1013 855,1027 914,1025 974,1042M1210,1049 1270,1010 1329,1002 1388,1004 1447,991 1506,984 1566,994 1625,998 1684,1013 1691,1013"/>
<path d="M737,1032 796,1014 855,1026 914,1037M1210,1043 1270,1024 1329,1019 1388,1014 1447,1016 1506,1005 1566,1036 1625,1022 1684,1052 1691,1052"/>
<path d="M737,1027 796,1001 855,1008 914,1014 974,1036M1210,1033 1270,979 1329,974 1388,968 1447,967 1506,958 1566,977 1625,949 1684,981 1691,981"/>
<path d="M441,1038 500,1010 559,989 618,981 678,965 737,950 796,904 855,914 914,913 974,914 1033,947 1092,944 1151,924 1210,896 1270,874 1329,906 1388,908 1447,898 1506,900 1566,934 1625,930 1684,943 1691,943"/>
<path d="M1210,1055 1270,1020 1329,1020 1388,1019 1447,1012 1506,1004 1566,1007 1625,1006 1684,1029 1691,1029"/>
<path d="M678,1036 737,1024 796,1009 855,1013 914,1026 974,1041M1092,1041 1151,1021 1210,1013 1270,976 1329,984 1388,972 1447,976 1506,974 1566,981 1625,975 1684,1001 1691,1001"/>
<path d="M559,1030 618,980 678,960 737,942 796,901 855,915 914,913 974,921 1033,981 1092,977 1151,976 1210,943 1270,880 1329,860 1388,854 1447,879 1506,896 1566,916 1625,895 1684,942 1691,942"/>
<path d="M737,1035 796,1017 855,1023 914,1023 974,1044M1092,1037 1151,1007 1210,1005 1270,961 1329,983 1388,976 1447,961 1506,958 1566,976 1625,958 1684,999 1691,999"/>
<path d="M1210,1028 1270,1011 1329,1009 1388,1026 1447,1041 1506,1024 1566,1034"/>
<path d="M441,1031 500,1015 559,1000 618,954 678,945 737,919 796,870 855,884 914,873 974,892 1033,910 1092,890 1151,878 1210,863 1270,847 1329,838 1388,786 1447,825 1506,831 1566,854 1625,827 1684,864 1691,864"/>
<path d="M737,1037 796,1023 855,1040"/>
<path d="M441,1032 500,1018 559,1002 618,961 678,931 737,896 796,842 855,827 914,816 974,802 1033,873 1092,843 1151,781 1210,754 1270,700 1329,694 1388,711 1447,729 1506,747 1566,780 1625,767 1684,801 1691,801"/>
<path d="M1210,1044 1270,1006 1329,1005 1388,998 1447,982 1506,986 1566,994 1625,996 1684,1018 1691,1018"/>
<path d="M678,1037 737,1023 796,1014 855,1012 914,1035M1210,1042 1270,1009 1329,1021 1388,1019 1447,1018 1506,1012 1566,1018 1625,999 1684,1028 1691,1028"/>
<path d="M1210,1061 1270,1026 1329,1035 1388,1039 1447,1023 1506,1000 1566,1000 1625,1000 1684,1033 1691,1033"/>
<path d="M500,1042 559,1018 618,987 678,988 737,976 796,976 855,996 914,1012 974,1022 1033,1044 1092,1039 1151,1022 1210,1029 1270,988 1329,1007 1388,1004 1447,992 1506,978 1566,987 1625,987 1684,1022 1691,1022"/>
<path d="M441,1043 500,1023 559,1009 618,971 678,945 737,936 796,900 855,905 914,922 974,925 1033,956 1092,923 1151,915 1210,878 1270,840 1329,849 1388,810 1447,785 1506,782 1566,780 1625,766 1684,796 1691,796"/>
<path d="M559,1027 618,998 678,997 737,980 796,963 855,970 914,982 974,996 1033,1014 1092,999 1151,1008 1210,998 1270,959 1329,971 1388,972 1447,971 1506,981 1566,968 1625,961 1684,992 1691,992"/>
<path d="M500,1036 559,1012 618,981 678,968 737,964 796,942 855,952 914,983 974,991 1033,1026 1092,1002 1151,983 1210,983 1270,940 1329,952 1388,949 1447,939 1506,947 1566,970 1625,953 1684,981 1691,981"/>
<path d="M1210,1053 1270,1020 1329,1023 1388,1038 1447,1039 1506,1018 1566,1022 1625,1027"/>
<path d="M559,1042 618,1010 678,1010 737,1003 796,982 855,999 914,1002 974,1027 1033,1034 1092,1017 1151,1012 1210,1016 1270,976 1329,984 1388,972 1447,975 1506,966 1566,970 1625,968 1684,1002 1691,1002"/>
<path d="M441,1040 500,1025 559,1018 618,977 678,939 737,945 796,932 855,936 914,949 974,963 1033,992 1092,976 1151,984 1210,976 1270,906 1329,914 1388,904 1447,908 1506,911 1566,937 1625,920 1684,946 1691,946"/>
<path d="M559,1037 618,1017 678,1000 737,988 796,956 855,984 914,999 974,997 1033,1014 1092,996 1151,999 1210,983 1270,930 1329,919 1388,908 1447,908 1506,902 1566,912 1625,911 1684,947 1691,947"/>
<path d="M500,1038 559,1012 618,988 678,971 737,962 796,921 855,942 914,957 974,944 1033,940 1092,893 1151,867 1210,836 1270,786 1329,809 1388,829 1447,814 1506,798 1566,838 1625,808 1684,836 1691,836"/>
<path d="M559,1044 618,1021 678,1015 737,1004 796,1000 855,989 914,1003 974,1009 1033,1028 1092,1032 1151,1024 1210,1026 1270,991 1329,983 1388,976 1447,972 1506,977 1566,987 1625,975 1684,1007 1691,1007"/>
<path d="M1210,1053 1270,1010 1329,1009 1388,1009 1447,1022 1506,997 1566,1005 1625,992 1684,1008 1691,1008"/>
<path d="M559,1034 618,1022 678,1014 737,1010 796,999 855,1012 914,1014 974,1012 1033,1038 1092,1033 1151,1020 1210,1014 1270,971 1329,981 1388,972 1447,976 1506,967 1566,963 1625,958 1684,992 1691,992"/>
<path d="M737,1047 796,1024 855,1027M1388,1037 1447,1027 1506,1040"/>
<path d="M500,1028 559,1012 618,995 678,984 737,970 796,966 855,976 914,986 974,980 1033,1008 1092,1002 1151,997 1210,981 1270,944 1329,944 1388,955 1447,943 1506,930 1566,950 1625,937 1684,965 1691,965"/>
<path d="M382,1053 441,1023 500,1016 559,999 618,959 678,922 737,899 796,889 855,899 914,896 974,909 1033,945 1092,923 1151,910 1210,912 1270,868 1329,862 1388,848 1447,845 1506,855 1566,899 1625,891 1684,928 1691,928"/>
<path d="M559,1036 618,1026 678,1020 737,1019 796,999 855,1008 914,1022 974,1026 1033,1045M1151,1035 1210,1019 1270,984 1329,1002 1388,998 1447,996 1506,988 1566,996 1625,979 1684,1021 1691,1021"/>
<path d="M1270,1035 1329,1026 1388,1032M1506,1029 1566,1021 1625,1038"/>
<path d="M618,1032 678,1026 737,989 796,978 855,985 914,1010 974,1017 1033,1051M1151,1030 1210,1024 1270,991 1329,984 1388,979 1447,979 1506,978 1566,976 1625,971 1684,988 1691,988"/>
<path d="M1210,1061 1270,1022 1329,1030 1388,1016 1447,1024 1506,1007 1566,1023 1625,1031"/>
<path d="M559,1036 618,1001 678,984 737,955 796,921 855,915 914,946 974,954 1033,991 1092,959 1151,959 1210,942 1270,900 1329,897 1388,882 1447,882 1506,864 1566,917 1625,917 1684,958 1691,958"/>
<path d="M1210,1060 1270,1008 1329,1026 1388,1013 1447,1007 1506,1015 1566,1012 1625,1001 1684,1018 1691,1018"/>
<path d="M500,1033 559,1011 618,992 678,971 737,954 796,947 855,965 914,975 974,986 1033,1020 1092,994 1151,986 1210,982 1270,961 1329,979 1388,986 1447,995 1506,1002 1566,1003 1625,991 1684,1023 1691,1023"/>
<path d="M678,1031 737,1024 796,1006 855,1005 914,1018 974,1034M1092,1028 1151,1009 1210,1012 1270,985 1329,992 1388,997 1447,1008 1506,994 1566,1014 1625,1029"/>
<path d="M1270,1027 1329,1025 1388,1022 1447,1020 1506,1019 1566,1026 1625,1025 1684,1035 1691,1035"/>
<path d="M678,1038 737,1022 796,1013 855,1005 914,1012 974,1004 1033,1031 1092,1036 1151,1025 1210,1014 1270,966 1329,992 1388,990 1447,972 1506,966 1566,993 1625,978 1684,1000 1691,1000"/>
<path d="M1210,1045 1270,1016 1329,1010 1388,1024 1447,1012 1506,1000 1566,1014 1625,1019 1684,1042 1691,1042"/>
<path d="M1447,1032 1506,1023 1566,1044"/>
<path d="M500,1029 559,1015 618,990 678,975 737,952 796,916 855,942 914,937 974,945 1033,963 1092,942 1151,945 1210,946 1270,885 1329,869 1388,885 1447,907 1506,890 1566,894 1625,890 1684,936 1691,936"/>
<path d="M559,1044 618,1026 678,1019 737,993 796,981 855,985 914,1004 974,1014 1033,1042 1092,1028 1151,1023 1210,1032 1270,989 1329,995 1388,996 1447,986 1506,986 1566,991 1625,988 1684,1016 1691,1016"/>
<path d="M559,1035 618,1019 678,1011 737,1016 796,1002 855,1015 914,1023 974,1045M1210,1053 1270,989 1329,990 1388,994 1447,987 1506,988 1566,993 1625,988 1684,1022 1691,1022"/>
<path d="M559,1029 618,1005 678,1006 737,1005 796,971 855,960 914,967 974,982 1033,1017 1092,1002 1151,985 1210,976 1270,937 1329,956 1388,969 1447,972 1506,977 1566,975 1625,965 1684,976 1691,976"/>
<path d="M618,1037 678,1024 737,1018 796,1021 855,1018 914,1020 974,1022 1033,1034M1210,1032 1270,997 1329,1004 1388,1012 1447,1003 1506,999 1566,1002 1625,1011 1684,1034 1691,1034"/>
<path d="M382,1043 441,1008 500,1000 559,970 618,905 678,894 737,840 796,807 855,834 914,807 974,821 1033,835 1092,801 1151,807 1210,818 1270,731 1329,697 1388,708 1447,697 1506,693 1566,706 1625,711 1684,698 1691,698"/>
<path d="M500,1033 559,1013 618,1019 678,994 737,954 796,910 855,910 914,926 974,939 1033,943 1092,912 1151,905 1210,903 1270,853 1329,870 1388,866 1447,844 1506,844 1566,847 1625,866 1684,849 1691,849"/>
<path d="M618,1036 678,1027 737,1012 796,989 855,1001 914,1027M1151,1033 1210,1026 1270,1004 1329,1023 1388,1023 1447,1035 1506,1016 1566,1038 1625,1015 1684,1040 1691,1040"/>
<path d="M441,1044 500,1018 559,996 618,967 678,961 737,953 796,907 855,901 914,914 974,927 1033,957 1092,928 1151,929 1210,900 1270,829 1329,836 1388,847 1447,845 1506,863 1566,899 1625,862 1684,885 1691,885"/>
<path d="M441,1042 500,1017 559,988 618,950 678,932 737,927 796,879 855,885 914,903 974,925 1033,960 1092,933 1151,912 1210,892 1270,870 1329,865 1388,889 1447,906 1506,876 1566,887 1625,852 1684,866 1691,866"/>
<path d="M441,1054 500,1027 559,1022 618,964 678,938 737,938 796,921 855,925 914,951 974,948 1033,920 1092,908 1151,885 1210,867 1270,819 1329,788 1388,787 1447,813 1506,809 1566,846 1625,829 1684,847 1691,847"/>
<path d="M678,1041 737,1022 796,1003 855,1017 914,1033M1210,1041 1270,993 1329,991 1388,1003 1447,991 1506,999 1566,1017 1625,1001 1684,1029 1691,1029"/>
<path d="M500,1044 559,1026 618,988 678,972 737,971 796,950 855,958 914,964 974,955 1033,1003 1092,985 1151,979 1210,960 1270,908 1329,918 1388,902 1447,901 1506,896 1566,895 1625,878 1684,906 1691,906"/>
<path d="M559,1039 618,1020 678,1008 737,997 796,992 855,1001 914,1020 974,1024 1033,1056M1210,1041 1270,1006 1329,1008 1388,1012 1447,1006 1506,984 1566,990 1625,980 1684,1000 1691,1000"/>
<path d="M618,1028 678,1010 737,993 796,972 855,977 914,973 974,988 1033,1048 1092,1025 1151,1011 1210,996 1270,940 1329,930 1388,933 1447,940 1506,927 1566,945 1625,950 1684,988 1691,988"/>
<path d="M559,1045 618,1015 678,984 737,979 796,963 855,982 914,991 974,999 1033,1018 1092,1000 1151,990 1210,980 1270,926 1329,935 1388,928 1447,917 1506,909 1566,911 1625,917 1684,951 1691,951"/>
<path d="M1329,1033 1388,1024 1447,1015 1506,1024 1566,1036 1625,1017 1684,1044 1691,1044"/>
<path d="M559,1043 618,1025 678,1036 737,1030 796,1006 855,1028M1329,1034 1388,1027 1447,1031M1566,1036 1625,1012 1684,1044 1691,1044"/>
<path d="M500,1038 559,1002 618,984 678,927 737,903 796,880 855,889 914,880 974,910 1033,946 1092,923 1151,896 1210,880 1270,827 1329,803 1388,803 1447,802 1506,769 1566,764 1625,778 1684,825 1691,825"/>
<path d="M618,1029 678,1023 737,1017 796,1012 855,1011 914,1017 974,1019 1033,1056 1092,1030 1151,1023 1210,1008 1270,973 1329,978 1388,978 1447,980 1506,968 1566,987 1625,1003 1684,1029 1691,1029"/>
<path d="M559,1041 618,1021 678,1009 737,1003 796,993 855,1018 914,1009 974,1032M1210,1040 1270,1005 1329,1009 1388,1005 1447,1011 1506,1012 1566,1011 1625,1007 1684,1046 1691,1046"/>
<path d="M1447,1030 1506,1015 1566,1020 1625,1012 1684,1037 1691,1037"/>
<path d="M1210,1052 1270,1019 1329,1023 1388,1032"/>
<path d="M678,1029 737,1015 796,1013 855,1019 914,1023 974,1019 1033,1053M1210,1039 1270,992 1329,973 1388,973 1447,969 1506,975 1566,980 1625,971 1684,984 1691,984"/>
<path d="M500,1030 559,1005 618,961 678,906 737,884 796,844 855,862 914,835 974,846 1033,842 1092,829 1151,846 1210,837 1270,784 1329,793 1388,825 1447,816 1506,820 1566,825 1625,814 1684,823 1691,823"/>
<path d="M1566,1052 1625,1026 1684,1029 1691,1029"/>
<path d="M1210,1059 1270,1022 1329,1018 1388,1015 1447,1016 1506,1015 1566,1022 1625,1012 1684,1036 1691,1036"/>
<path d="M500,1035 559,1023 618,1005 678,997 737,990 796,986 855,996 914,994 974,1005 1033,1031 1092,1016 1151,1009 1210,1006 1270,962 1329,954 1388,963 1447,970 1506,944 1566,955 1625,959 1684,1004 1691,1004"/>
<path d="M1447,1042 1506,1027 1566,1017 1625,1013 1684,1036 1691,1036"/>
<path d="M500,1042 559,1024 618,1009 678,992 737,975 796,966 855,960 914,955 974,984 1033,1001 1092,965 1151,966 1210,951 1270,909 1329,884 1388,879 1447,873 1506,865 1566,877 1625,855 1684,887 1691,887"/>
<path d="M737,1028 796,1012 855,1024 914,1030 974,1021 1033,1044 1092,1023 1151,1019 1210,1009 1270,980 1329,970 1388,970 1447,956 1506,954 1566,971 1625,947 1684,990 1691,990"/>
<path d="M441,1033 500,1015 559,998 618,964 678,961 737,925 796,870 855,910 914,944 974,935 1033,907 1092,866 1151,855 1210,863 1270,775 1329,781 1388,801 1447,820 1506,790 1566,810 1625,780 1684,828 1691,828"/>
<path d="M441,1042 500,1024 559,1002 618,972 678,960 737,959 796,929 855,942 914,962 974,973 1033,997 1092,990 1151,983 1210,966 1270,904 1329,917 1388,930 1447,940 1506,932 1566,938 1625,921 1684,956 1691,956"/>
<path d="M559,1040 618,1026 678,1020 737,1009 796,978 855,992 914,996 974,1009 1033,1024 1092,1004 1151,993 1210,971 1270,931 1329,957 1388,970 1447,969 1506,952 1566,959 1625,948 1684,977 1691,977"/>
<path d="M500,1039 559,1024 618,997 678,981 737,957 796,934 855,954 914,983 974,990 1033,1027 1092,1019 1151,1004 1210,1003 1270,978 1329,983 1388,991 1447,997 1506,979 1566,979 1625,968 1684,987 1691,987"/>
<path d="M441,1036 500,1024 559,1021 618,1001 678,996 737,988 796,977 855,983 914,996 974,1000 1033,1027 1092,1013 1151,1008 1210,1010 1270,960 1329,969 1388,973 1447,971 1506,967 1566,984 1625,984 1684,1020 1691,1020"/>
<path d="M559,1028 618,1007 678,988 737,984 796,963 855,981 914,967 974,989 1033,1003 1092,980 1151,975 1210,963 1270,909 1329,907 1388,904 1447,896 1506,882 1566,892 1625,892 1684,924 1691,924"/>
<path d="M500,1030 559,1019 618,1000 678,990 737,1004 796,981 855,1002 914,1008 974,1020 1033,1049M1210,1031 1270,963 1329,971 1388,960 1447,949 1506,944 1566,953 1625,944 1684,972 1691,972"/>
<path d="M559,1042 618,1024 678,1005 737,992 796,978 855,992 914,1009 974,1011 1033,1045 1092,1031 1151,1011 1210,1011 1270,966 1329,967 1388,973 1447,964 1506,967 1566,989 1625,978 1684,1002 1691,1002"/>
<path d="M737,1034 796,1026 855,1043M1151,1046 1210,1023 1270,996 1329,997 1388,1006 1447,1000 1506,1001 1566,1022 1625,1013 1684,1044 1691,1044"/>
<path d="M263,1080 322,1030 382,1000 441,975 500,952 559,920 618,880 678,840 737,800 796,770 855,740 914,715 974,690 1033,686 1092,687 1151,688 1210,686 1270,684 1329,686 1388,690 1447,688 1506,684 1566,690 1625,684 1691,690"/>
<path d="M263,1085 322,1045 382,1022 441,1000 500,975 559,945 618,905 678,870 737,840 796,790 855,800 914,810 974,820 1033,830 1092,815 1151,800 1210,770 1270,740 1329,735 1388,730 1447,725 1506,720 1566,740 1625,720 1691,745"/>
</g>
<g>
<path class="bk" d="M263.3,1097.0 L322.5,1012.0 L381.7,923.0 L440.9,879.0 L500.1,860.5 L559.3,832.0 L618.5,758.0 L677.7,686.0 L736.9,609.5 L796.1,529.0 L855.3,535.0 L914.5,527.5 L973.7,514.5 L1032.9,548.0 L1092.1,503.0 L1151.3,416.0 L1210.5,360.0 L1269.7,225.0 L1328.9,175.5 L1388.1,178.0 L1447.3,124.0 L1506.5,67.0 L1565.7,54.5 L1624.9,-18.5 L1684.1,5.5 L1691.0,8.3"/><path class="bl" d="M263.3,1097.0 L322.5,1012.0 L381.7,923.0 L440.9,879.0 L500.1,860.5 L559.3,832.0 L618.5,758.0 L677.7,686.0 L736.9,609.5 L796.1,529.0 L855.3,535.0 L914.5,527.5 L973.7,514.5 L1032.9,548.0 L1092.1,503.0 L1151.3,416.0 L1210.5,360.0 L1269.7,225.0 L1328.9,175.5 L1388.1,178.0 L1447.3,124.0 L1506.5,67.0 L1565.7,54.5 L1624.9,-18.5 L1684.1,5.5 L1691.0,8.3"/>
<path class="bk" d="M263.3,1083.0 L322.5,998.0 L381.7,898.0 L440.9,835.5 L500.1,813.0 L559.3,733.0 L618.5,636.0 L677.7,520.0 L736.9,431.5 L796.1,382.2 L855.3,417.7 L914.5,431.2 L973.7,469.2 L1032.9,529.5 L1092.1,483.0 L1151.3,446.0 L1210.5,414.5 L1269.7,288.5 L1328.9,217.0 L1388.1,187.0 L1447.3,128.0 L1506.5,101.0 L1565.7,69.5 L1624.9,84.0 L1684.1,155.0 L1691.0,163.3"/><path class="bl" d="M263.3,1083.0 L322.5,998.0 L381.7,898.0 L440.9,835.5 L500.1,813.0 L559.3,733.0 L618.5,636.0 L677.7,520.0 L736.9,431.5 L796.1,382.2 L855.3,417.7 L914.5,431.2 L973.7,469.2 L1032.9,529.5 L1092.1,483.0 L1151.3,446.0 L1210.5,414.5 L1269.7,288.5 L1328.9,217.0 L1388.1,187.0 L1447.3,128.0 L1506.5,101.0 L1565.7,69.5 L1624.9,84.0 L1684.1,155.0 L1691.0,163.3"/>
<path class="bk" d="M263.3,1090.0 L322.5,1005.0 L381.7,902.0 L440.9,888.0 L500.1,909.0 L559.3,895.5 L618.5,829.0 L677.7,736.0 L736.9,663.0 L796.1,551.0 L855.3,545.5 L914.5,570.0 L973.7,651.5 L1032.9,754.0 L1092.1,713.0 L1151.3,616.0 L1210.5,580.0 L1269.7,511.5 L1328.9,501.0 L1388.1,526.0 L1447.3,477.5 L1506.5,468.0 L1565.7,521.0 L1624.9,464.0 L1684.1,485.5 L1691.0,488.0"/><path class="bl" d="M263.3,1090.0 L322.5,1005.0 L381.7,902.0 L440.9,888.0 L500.1,909.0 L559.3,895.5 L618.5,829.0 L677.7,736.0 L736.9,663.0 L796.1,551.0 L855.3,545.5 L914.5,570.0 L973.7,651.5 L1032.9,754.0 L1092.1,713.0 L1151.3,616.0 L1210.5,580.0 L1269.7,511.5 L1328.9,501.0 L1388.1,526.0 L1447.3,477.5 L1506.5,468.0 L1565.7,521.0 L1624.9,464.0 L1684.1,485.5 L1691.0,488.0"/>
<path class="bk" d="M263.3,1145.0 L322.5,1060.0 L381.7,1032.0 L440.9,1003.8 L500.1,997.0 L559.3,983.0 L618.5,918.0 L677.7,838.0 L736.9,757.0 L796.1,657.5 L855.3,594.0 L914.5,621.0 L973.7,687.5 L1032.9,786.0 L1092.1,723.0 L1151.3,631.0 L1210.5,556.0 L1269.7,437.0 L1328.9,384.0 L1388.1,379.5 L1447.3,250.5 L1506.5,192.0 L1565.7,276.5 L1624.9,192.5 L1684.1,285.5 L1691.0,296.3"/><path class="bl" d="M263.3,1145.0 L322.5,1060.0 L381.7,1032.0 L440.9,1003.8 L500.1,997.0 L559.3,983.0 L618.5,918.0 L677.7,838.0 L736.9,757.0 L796.1,657.5 L855.3,594.0 L914.5,621.0 L973.7,687.5 L1032.9,786.0 L1092.1,723.0 L1151.3,631.0 L1210.5,556.0 L1269.7,437.0 L1328.9,384.0 L1388.1,379.5 L1447.3,250.5 L1506.5,192.0 L1565.7,276.5 L1624.9,192.5 L1684.1,285.5 L1691.0,296.3"/>
<path class="bk" d="M263.3,1145.0 L322.5,1060.0 L381.7,1020.0 L440.9,1020.0 L500.1,1032.0 L559.3,1015.0 L618.5,975.6 L677.7,926.4 L736.9,858.0 L796.1,757.0 L855.3,712.0 L914.5,721.0 L973.7,758.0 L1032.9,829.0 L1092.1,757.0 L1151.3,654.0 L1210.5,567.0 L1269.7,447.0 L1328.9,416.0 L1388.1,382.0 L1447.3,340.0 L1506.5,343.0 L1565.7,441.0 L1624.9,407.0 L1684.1,450.0 L1691.0,455.0"/><path class="bl" d="M263.3,1145.0 L322.5,1060.0 L381.7,1020.0 L440.9,1020.0 L500.1,1032.0 L559.3,1015.0 L618.5,975.6 L677.7,926.4 L736.9,858.0 L796.1,757.0 L855.3,712.0 L914.5,721.0 L973.7,758.0 L1032.9,829.0 L1092.1,757.0 L1151.3,654.0 L1210.5,567.0 L1269.7,447.0 L1328.9,416.0 L1388.1,382.0 L1447.3,340.0 L1506.5,343.0 L1565.7,441.0 L1624.9,407.0 L1684.1,450.0 L1691.0,455.0"/>
<path class="bk" d="M263.3,1125.0 L322.5,1040.0 L381.7,963.6 L440.9,979.0 L500.1,992.0 L559.3,953.0 L618.5,898.0 L677.7,837.5 L736.9,797.5 L796.1,754.0 L855.3,776.0 L914.5,782.0 L973.7,772.0 L1032.9,801.0 L1092.1,767.5 L1151.3,750.0 L1210.5,706.0 L1269.7,630.0 L1328.9,607.0 L1388.1,587.5 L1447.3,565.0 L1506.5,534.0 L1565.7,526.0 L1624.9,476.0 L1684.1,499.0 L1691.0,501.7"/><path class="bl" d="M263.3,1125.0 L322.5,1040.0 L381.7,963.6 L440.9,979.0 L500.1,992.0 L559.3,953.0 L618.5,898.0 L677.7,837.5 L736.9,797.5 L796.1,754.0 L855.3,776.0 L914.5,782.0 L973.7,772.0 L1032.9,801.0 L1092.1,767.5 L1151.3,750.0 L1210.5,706.0 L1269.7,630.0 L1328.9,607.0 L1388.1,587.5 L1447.3,565.0 L1506.5,534.0 L1565.7,526.0 L1624.9,476.0 L1684.1,499.0 L1691.0,501.7"/>
<path class="bk" d="M263.3,1285.0 L322.5,1200.0 L381.7,1180.0 L440.9,1160.0 L500.1,1140.0 L559.3,1120.0 L618.5,1090.0 L677.7,1060.0 L736.9,1000.0 L796.1,901.0 L855.3,858.5 L914.5,883.0 L973.7,939.0 L1032.9,988.0 L1092.1,925.0 L1151.3,835.0 L1210.5,802.0 L1269.7,668.5 L1328.9,624.0 L1388.1,650.0 L1447.3,591.0 L1506.5,572.5 L1565.7,599.0 L1624.9,565.0 L1684.1,596.5 L1691.0,600.2"/><path class="bl" d="M263.3,1285.0 L322.5,1200.0 L381.7,1180.0 L440.9,1160.0 L500.1,1140.0 L559.3,1120.0 L618.5,1090.0 L677.7,1060.0 L736.9,1000.0 L796.1,901.0 L855.3,858.5 L914.5,883.0 L973.7,939.0 L1032.9,988.0 L1092.1,925.0 L1151.3,835.0 L1210.5,802.0 L1269.7,668.5 L1328.9,624.0 L1388.1,650.0 L1447.3,591.0 L1506.5,572.5 L1565.7,599.0 L1624.9,565.0 L1684.1,596.5 L1691.0,600.2"/>
<path class="bk" d="M263.3,1185.0 L322.5,1100.0 L381.7,1065.0 L440.9,1045.0 L500.1,1030.0 L559.3,1003.0 L618.5,959.0 L677.7,917.0 L736.9,882.0 L796.1,834.0 L855.3,846.0 L914.5,862.0 L973.7,853.0 L1032.9,891.0 L1092.1,862.0 L1151.3,834.0 L1210.5,785.0 L1269.7,711.0 L1328.9,705.0 L1388.1,692.0 L1447.3,634.0 L1506.5,640.0 L1565.7,686.0 L1624.9,650.0 L1684.1,674.0 L1691.0,676.8"/><path class="bl" d="M263.3,1185.0 L322.5,1100.0 L381.7,1065.0 L440.9,1045.0 L500.1,1030.0 L559.3,1003.0 L618.5,959.0 L677.7,917.0 L736.9,882.0 L796.1,834.0 L855.3,846.0 L914.5,862.0 L973.7,853.0 L1032.9,891.0 L1092.1,862.0 L1151.3,834.0 L1210.5,785.0 L1269.7,711.0 L1328.9,705.0 L1388.1,692.0 L1447.3,634.0 L1506.5,640.0 L1565.7,686.0 L1624.9,650.0 L1684.1,674.0 L1691.0,676.8"/>
<path class="bk" d="M263.3,1185.0 L322.5,1100.0 L381.7,1060.0 L440.9,1035.0 L500.1,1020.0 L559.3,990.0 L618.5,955.0 L677.7,914.0 L736.9,880.0 L796.1,832.0 L855.3,848.0 L914.5,864.0 L973.7,856.0 L1032.9,888.5 L1092.1,859.5 L1151.3,832.0 L1210.5,778.0 L1269.7,709.0 L1328.9,696.0 L1388.1,687.0 L1447.3,638.0 L1506.5,636.0 L1565.7,639.0 L1624.9,595.0 L1684.1,639.0 L1691.0,644.1"/><path class="bl" d="M263.3,1185.0 L322.5,1100.0 L381.7,1060.0 L440.9,1035.0 L500.1,1020.0 L559.3,990.0 L618.5,955.0 L677.7,914.0 L736.9,880.0 L796.1,832.0 L855.3,848.0 L914.5,864.0 L973.7,856.0 L1032.9,888.5 L1092.1,859.5 L1151.3,832.0 L1210.5,778.0 L1269.7,709.0 L1328.9,696.0 L1388.1,687.0 L1447.3,638.0 L1506.5,636.0 L1565.7,639.0 L1624.9,595.0 L1684.1,639.0 L1691.0,644.1"/>
<path class="bk" d="M263.3,1205.0 L322.5,1120.0 L381.7,1100.0 L440.9,1080.0 L500.1,1060.0 L559.3,1035.0 L618.5,1010.0 L677.7,978.5 L736.9,940.5 L796.1,895.5 L855.3,894.0 L914.5,923.0 L973.7,968.0 L1032.9,1030.0 L1092.1,1021.0 L1151.3,956.5 L1210.5,917.0 L1269.7,877.6 L1328.9,894.0 L1388.1,904.0 L1447.3,879.0 L1506.5,862.5 L1565.7,884.8 L1624.9,834.0 L1684.1,872.5 L1691.0,877.0"/><path class="bl" d="M263.3,1205.0 L322.5,1120.0 L381.7,1100.0 L440.9,1080.0 L500.1,1060.0 L559.3,1035.0 L618.5,1010.0 L677.7,978.5 L736.9,940.5 L796.1,895.5 L855.3,894.0 L914.5,923.0 L973.7,968.0 L1032.9,1030.0 L1092.1,1021.0 L1151.3,956.5 L1210.5,917.0 L1269.7,877.6 L1328.9,894.0 L1388.1,904.0 L1447.3,879.0 L1506.5,862.5 L1565.7,884.8 L1624.9,834.0 L1684.1,872.5 L1691.0,877.0"/>
<path class="bk" d="M263.3,1205.0 L322.5,1120.0 L381.7,1100.0 L440.9,1080.0 L500.1,1060.0 L559.3,1035.0 L618.5,1012.0 L677.7,991.0 L736.9,964.4 L796.1,927.8 L855.3,955.0 L914.5,974.0 L973.7,972.6 L1032.9,1004.0 L1092.1,971.4 L1151.3,980.5 L1210.5,957.6 L1269.7,896.5 L1328.9,923.0 L1388.1,929.0 L1447.3,918.0 L1506.5,920.5 L1565.7,929.0 L1624.9,913.5 L1684.1,951.0 L1691.0,955.4"/><path class="bl" d="M263.3,1205.0 L322.5,1120.0 L381.7,1100.0 L440.9,1080.0 L500.1,1060.0 L559.3,1035.0 L618.5,1012.0 L677.7,991.0 L736.9,964.4 L796.1,927.8 L855.3,955.0 L914.5,974.0 L973.7,972.6 L1032.9,1004.0 L1092.1,971.4 L1151.3,980.5 L1210.5,957.6 L1269.7,896.5 L1328.9,923.0 L1388.1,929.0 L1447.3,918.0 L1506.5,920.5 L1565.7,929.0 L1624.9,913.5 L1684.1,951.0 L1691.0,955.4"/>
<path class="bk" d="M263.3,1205.0 L322.5,1120.0 L381.7,1100.0 L440.9,1080.0 L500.1,1060.0 L559.3,1040.0 L618.5,1020.0 L677.7,1000.0 L736.9,971.4 L796.1,939.0 L855.3,960.7 L914.5,980.0 L973.7,989.6 L1032.9,1022.0 L1092.1,1003.0 L1151.3,995.7 L1210.5,983.0 L1269.7,910.0 L1328.9,876.4 L1388.1,883.5 L1447.3,859.5 L1506.5,835.8 L1565.7,864.5 L1624.9,827.5 L1684.1,847.5 L1691.0,849.8"/><path class="bl" d="M263.3,1205.0 L322.5,1120.0 L381.7,1100.0 L440.9,1080.0 L500.1,1060.0 L559.3,1040.0 L618.5,1020.0 L677.7,1000.0 L736.9,971.4 L796.1,939.0 L855.3,960.7 L914.5,980.0 L973.7,989.6 L1032.9,1022.0 L1092.1,1003.0 L1151.3,995.7 L1210.5,983.0 L1269.7,910.0 L1328.9,876.4 L1388.1,883.5 L1447.3,859.5 L1506.5,835.8 L1565.7,864.5 L1624.9,827.5 L1684.1,847.5 L1691.0,849.8"/>
<path class="bk" d="M263.3,1205.0 L322.5,1120.0 L381.7,1100.0 L440.9,1080.0 L500.1,1060.0 L559.3,1040.0 L618.5,1018.0 L677.7,990.0 L736.9,955.0 L796.1,902.0 L855.3,906.0 L914.5,940.0 L973.7,946.0 L1032.9,995.7 L1092.1,959.0 L1151.3,964.0 L1210.5,936.0 L1269.7,884.0 L1328.9,922.8 L1388.1,900.0 L1447.3,871.5 L1506.5,849.5 L1565.7,868.4 L1624.9,881.0 L1684.1,940.0 L1691.0,946.9"/><path class="bl" d="M263.3,1205.0 L322.5,1120.0 L381.7,1100.0 L440.9,1080.0 L500.1,1060.0 L559.3,1040.0 L618.5,1018.0 L677.7,990.0 L736.9,955.0 L796.1,902.0 L855.3,906.0 L914.5,940.0 L973.7,946.0 L1032.9,995.7 L1092.1,959.0 L1151.3,964.0 L1210.5,936.0 L1269.7,884.0 L1328.9,922.8 L1388.1,900.0 L1447.3,871.5 L1506.5,849.5 L1565.7,868.4 L1624.9,881.0 L1684.1,940.0 L1691.0,946.9"/>
</g>
<g fill="#000">
<rect x="199.1" y="-5" width="13.4" height="1040"/>
<rect x="1683.1" y="-5" width="13.8" height="1040"/>
<rect x="169.3" y="991.1" width="30.5" height="13.7"/>
<rect x="169.3" y="835.0" width="30.5" height="13.7"/>
<rect x="169.3" y="678.8" width="30.5" height="13.7"/>
<rect x="169.3" y="522.6" width="30.5" height="13.7"/>
<rect x="169.3" y="366.4" width="30.5" height="13.7"/>
<rect x="169.3" y="210.2" width="30.5" height="13.7"/>
<rect x="169.3" y="54.0" width="30.5" height="13.7"/>
</g>
<g class="tick" text-anchor="end">
<text x="157.3" y="1010.0" textLength="104" lengthAdjust="spacingAndGlyphs">+20%</text>
<text x="157.3" y="853.8" textLength="104" lengthAdjust="spacingAndGlyphs">+40%</text>
<text x="157.3" y="697.6" textLength="104" lengthAdjust="spacingAndGlyphs">+60%</text>
<text x="157.3" y="541.4" textLength="104" lengthAdjust="spacingAndGlyphs">+80%</text>
<text x="157.3" y="385.2" textLength="127" lengthAdjust="spacingAndGlyphs">+100%</text>
<text x="157.3" y="229.0" textLength="127" lengthAdjust="spacingAndGlyphs">+120%</text>
<text x="157.3" y="72.8" textLength="127" lengthAdjust="spacingAndGlyphs">+140%</text>
</g>
<g fill="none" stroke="#dc143c" stroke-width="0.9" stroke-linejoin="round">
<g stroke-opacity="0.18">
<path d="M364.7,159.0 370.7,158.5 376.6,157.2 382.6,156.9 388.6,156.2 394.6,155.8 400.5,158.3 406.5,156.1 412.5,156.9 418.4,158.0 424.4,155.2 430.4,154.1 436.4,154.4 442.3,152.9 448.3,154.4 454.3,154.4 460.3,154.1 466.2,152.9 472.2,150.1 478.2,152.1 484.1,151.2 490.1,149.8 496.1,149.4 502.1,149.4 508.0,150.3 514.0,151.9"/>
<path d="M364.7,159.0 370.7,157.5 376.6,155.3 382.6,154.3 388.6,154.1 394.6,150.8 400.5,152.5 406.5,152.3 412.5,150.9 418.4,147.7 424.4,149.3 430.4,153.2 436.4,152.3 442.3,153.0 448.3,154.4 454.3,152.9 460.3,152.2 466.2,151.3 472.2,149.8 478.2,148.3 484.1,146.9 490.1,147.6 496.1,148.5 502.1,148.3 508.0,147.9 514.0,151.1"/>
<path d="M364.7,159.0 370.7,158.9 376.6,157.6 382.6,156.8 388.6,155.3 394.6,155.2 400.5,155.4 406.5,156.1 412.5,156.2 418.4,157.6 424.4,157.5 430.4,157.6 436.4,156.9 442.3,156.9 448.3,156.5 454.3,157.0 460.3,157.0 466.2,160.0 472.2,157.7 478.2,157.9 484.1,158.6 490.1,156.9 496.1,156.8 502.1,157.5 508.0,157.4 514.0,159.8"/>
<path d="M364.7,159.0 370.7,157.2 376.6,155.4 382.6,154.1 388.6,154.8 394.6,155.5 400.5,156.2 406.5,152.0 412.5,152.6 418.4,152.2 424.4,151.5 430.4,151.1 436.4,151.0 442.3,151.2 448.3,154.3 454.3,157.4 460.3,155.4 466.2,153.6 472.2,149.4 478.2,149.8 484.1,150.7 490.1,149.9 496.1,151.5 502.1,152.7 508.0,152.8 514.0,153.0"/>
<path d="M364.7,159.0 370.7,159.2 376.6,160.2 382.6,160.4 388.6,159.5 394.6,158.4 400.5,157.0 406.5,158.6 412.5,159.0 418.4,160.0 424.4,160.8 430.4,160.3 436.4,159.6 442.3,160.6 448.3,164.9 454.3,162.1 460.3,159.4 466.2,162.5 472.2,163.5 478.2,162.2 484.1,161.8 490.1,162.8 496.1,162.5 502.1,160.6 508.0,159.9 514.0,158.8"/>
<path d="M364.7,159.0 370.7,157.3 376.6,156.1 382.6,154.9 388.6,153.4 394.6,152.1 400.5,151.0 406.5,152.8 412.5,153.1 418.4,150.0 424.4,148.9 430.4,151.5 436.4,152.6 442.3,154.2 448.3,155.9 454.3,152.7 460.3,152.2 466.2,149.8 472.2,147.3 478.2,149.6 484.1,150.1 490.1,146.5 496.1,147.6 502.1,149.6 508.0,147.3 514.0,149.1"/>
</g>
<g stroke-opacity="0.33">
<path d="M364.7,159.0 370.7,157.3 376.6,155.2 382.6,154.6 388.6,153.0 394.6,152.8 400.5,152.9 406.5,152.4 412.5,150.1 418.4,149.8 424.4,146.6 430.4,149.5 436.4,150.9 442.3,153.7 448.3,152.5 454.3,151.5 460.3,151.1 466.2,149.8 472.2,144.6 478.2,147.5 484.1,149.0 490.1,147.4 496.1,146.7 502.1,148.8 508.0,146.3 514.0,146.2"/>
<path d="M364.7,159.0 370.7,156.8 376.6,154.9 382.6,153.9 388.6,153.1 394.6,152.6 400.5,150.2 406.5,147.7 412.5,148.0 418.4,145.6 424.4,143.5 430.4,142.5 436.4,144.2 442.3,145.4 448.3,148.7 454.3,147.4 460.3,146.0 466.2,144.9 472.2,141.3 478.2,140.9 484.1,141.2 490.1,140.9 496.1,141.7 502.1,142.2 508.0,142.8 514.0,146.2"/>
<path d="M364.7,159.0 370.7,157.1 376.6,155.4 382.6,153.7 388.6,152.8 394.6,151.3 400.5,149.9 406.5,149.8 412.5,147.1 418.4,146.3 424.4,144.3 430.4,144.9 436.4,147.3 442.3,146.6 448.3,146.8 454.3,147.7 460.3,149.8 466.2,147.7 472.2,145.5 478.2,146.6 484.1,145.3 490.1,143.9 496.1,146.8 502.1,148.2 508.0,145.3 514.0,147.7"/>
<path d="M364.7,159.0 370.7,156.9 376.6,154.3 382.6,152.2 388.6,151.3 394.6,150.5 400.5,151.4 406.5,151.4 412.5,150.5 418.4,147.8 424.4,146.1 430.4,145.7 436.4,145.5 442.3,146.7 448.3,146.3 454.3,147.1 460.3,147.9 466.2,147.7 472.2,142.7 478.2,143.5 484.1,144.8 490.1,143.9 496.1,142.1 502.1,143.4 508.0,143.5 514.0,144.6"/>
<path d="M364.7,159.0 370.7,157.5 376.6,156.0 382.6,153.7 388.6,152.6 394.6,151.8 400.5,152.0 406.5,150.8 412.5,147.8 418.4,148.4 424.4,147.5 430.4,147.3 436.4,146.2 442.3,144.4 448.3,148.1 454.3,146.7 460.3,149.1 466.2,148.4 472.2,147.5 478.2,148.6 484.1,146.7 490.1,145.1 496.1,145.7 502.1,145.0 508.0,145.7 514.0,146.9"/>
<path d="M364.7,159.0 370.7,156.7 376.6,154.3 382.6,153.4 388.6,151.2 394.6,149.6 400.5,151.2 406.5,147.9 412.5,145.4 418.4,145.6 424.4,141.9 430.4,143.2 436.4,146.0 442.3,145.8 448.3,148.6 454.3,149.3 460.3,150.8 466.2,148.3 472.2,144.6 478.2,143.3 484.1,142.7 490.1,143.0 496.1,142.9 502.1,141.1 508.0,138.7 514.0,141.4"/>
<path d="M364.7,159.0 370.7,156.4 376.6,153.5 382.6,152.9 388.6,150.5 394.6,148.0 400.5,148.3 406.5,146.6 412.5,145.6 418.4,143.5 424.4,144.0 430.4,145.7 436.4,145.1 442.3,145.1 448.3,146.6 454.3,147.7 460.3,146.7 466.2,145.5 472.2,141.4 478.2,144.8 484.1,141.8 490.1,141.2 496.1,138.1 502.1,138.8 508.0,138.3 514.0,140.0"/>
<path d="M364.7,159.0 370.7,156.1 376.6,153.3 382.6,149.6 388.6,147.1 394.6,144.4 400.5,144.0 406.5,142.0 412.5,141.5 418.4,140.7 424.4,138.2 430.4,139.0 436.4,140.3 442.3,141.3 448.3,146.5 454.3,145.9 460.3,144.1 466.2,143.1 472.2,138.8 478.2,138.3 484.1,139.5 490.1,139.6 496.1,137.2 502.1,138.6 508.0,135.8 514.0,138.9"/>
<path d="M364.7,159.0 370.7,157.5 376.6,155.3 382.6,154.4 388.6,153.7 394.6,153.1 400.5,153.0 406.5,151.5 412.5,150.3 418.4,150.7 424.4,148.4 430.4,148.2 436.4,150.3 442.3,148.8 448.3,149.8 454.3,147.7 460.3,148.3 466.2,148.4 472.2,146.0 478.2,146.7 484.1,145.6 490.1,144.5 496.1,144.5 502.1,143.0 508.0,144.7 514.0,147.0"/>
<path d="M364.7,159.0 370.7,155.9 376.6,152.7 382.6,150.4 388.6,147.5 394.6,146.6 400.5,145.4 406.5,143.2 412.5,140.7 418.4,140.7 424.4,139.4 430.4,141.6 436.4,143.7 442.3,145.1 448.3,147.3 454.3,144.8 460.3,145.1 466.2,144.6 472.2,140.2 478.2,139.7 484.1,139.0 490.1,140.5 496.1,139.0 502.1,141.2 508.0,139.1 514.0,143.4"/>
<path d="M364.7,159.0 370.7,156.9 376.6,154.7 382.6,152.6 388.6,150.5 394.6,148.9 400.5,145.2 406.5,143.7 412.5,145.6 418.4,144.2 424.4,141.5 430.4,142.9 436.4,142.9 442.3,145.3 448.3,149.0 454.3,147.1 460.3,145.8 466.2,144.5 472.2,140.0 478.2,139.6 484.1,142.4 490.1,140.3 496.1,139.5 502.1,140.0 508.0,140.1 514.0,142.4"/>
<path d="M364.7,159.0 370.7,156.7 376.6,153.7 382.6,151.8 388.6,152.0 394.6,149.0 400.5,149.1 406.5,149.8 412.5,151.7 418.4,149.2 424.4,146.1 430.4,145.6 436.4,147.3 442.3,146.1 448.3,148.7 454.3,149.1 460.3,148.5 466.2,147.5 472.2,144.3 478.2,144.1 484.1,147.3 490.1,144.5 496.1,144.8 502.1,144.6 508.0,145.3 514.0,147.1"/>
<path d="M364.7,159.0 370.7,156.4 376.6,153.7 382.6,150.7 388.6,148.0 394.6,147.2 400.5,149.2 406.5,145.3 412.5,143.7 418.4,142.7 424.4,141.1 430.4,143.6 436.4,142.9 442.3,143.4 448.3,144.8 454.3,144.4 460.3,144.5 466.2,143.1 472.2,136.6 478.2,136.7 484.1,140.9 490.1,140.2 496.1,138.7 502.1,139.5 508.0,137.9 514.0,141.0"/>
<path d="M364.7,159.0 370.7,157.1 376.6,155.4 382.6,154.0 388.6,150.8 394.6,149.5 400.5,148.6 406.5,147.0 412.5,148.7 418.4,147.5 424.4,146.2 430.4,146.9 436.4,147.0 442.3,147.2 448.3,148.2 454.3,149.4 460.3,148.8 466.2,149.4 472.2,145.2 478.2,145.9 484.1,148.1 490.1,147.6 496.1,148.4 502.1,147.3 508.0,147.4 514.0,151.9"/>
<path d="M364.7,159.0 370.7,157.1 376.6,155.0 382.6,153.2 388.6,152.1 394.6,150.5 400.5,149.3 406.5,150.4 412.5,149.3 418.4,147.4 424.4,145.3 430.4,145.8 436.4,145.8 442.3,146.1 448.3,149.5 454.3,149.2 460.3,146.8 466.2,145.8 472.2,142.2 478.2,142.9 484.1,143.9 490.1,142.8 496.1,141.8 502.1,142.5 508.0,143.5 514.0,144.1"/>
<path d="M364.7,159.0 370.7,156.6 376.6,154.1 382.6,153.1 388.6,152.9 394.6,150.6 400.5,151.0 406.5,151.1 412.5,149.0 418.4,149.0 424.4,146.6 430.4,144.3 436.4,145.8 442.3,145.8 448.3,147.5 454.3,146.4 460.3,146.1 466.2,143.4 472.2,140.2 478.2,140.5 484.1,141.0 490.1,142.7 496.1,141.5 502.1,142.3 508.0,140.8 514.0,142.9"/>
<path d="M364.7,159.0 370.7,156.0 376.6,153.0 382.6,150.1 388.6,148.8 394.6,146.4 400.5,143.6 406.5,142.3 412.5,140.7 418.4,142.0 424.4,139.1 430.4,139.8 436.4,140.5 442.3,140.1 448.3,146.7 454.3,144.4 460.3,143.6 466.2,143.2 472.2,139.5 478.2,136.9 484.1,139.0 490.1,138.4 496.1,139.8 502.1,139.5 508.0,137.2 514.0,141.3"/>
<path d="M364.7,159.0 370.7,156.0 376.6,152.8 382.6,151.1 388.6,146.9 394.6,144.4 400.5,141.7 406.5,140.4 412.5,142.6 418.4,140.9 424.4,139.9 430.4,140.4 436.4,141.8 442.3,141.7 448.3,145.9 454.3,145.0 460.3,143.9 466.2,143.4 472.2,138.5 478.2,137.7 484.1,135.5 490.1,136.1 496.1,134.8 502.1,137.8 508.0,137.6 514.0,140.4"/>
<path d="M364.7,159.0 370.7,156.2 376.6,153.2 382.6,150.8 388.6,149.4 394.6,149.9 400.5,147.5 406.5,143.1 412.5,143.2 418.4,140.3 424.4,138.2 430.4,141.4 436.4,142.2 442.3,144.3 448.3,145.3 454.3,144.4 460.3,144.5 466.2,143.7 472.2,139.7 478.2,139.0 484.1,138.2 490.1,138.0 496.1,138.7 502.1,138.6 508.0,138.4 514.0,142.9"/>
<path d="M364.7,159.0 370.7,156.2 376.6,153.4 382.6,152.0 388.6,151.4 394.6,149.7 400.5,148.9 406.5,144.4 412.5,143.4 418.4,143.1 424.4,140.9 430.4,141.1 436.4,141.1 442.3,141.4 448.3,146.5 454.3,145.9 460.3,144.7 466.2,144.1 472.2,137.4 478.2,138.1 484.1,138.2 490.1,138.2 496.1,137.2 502.1,139.9 508.0,135.9 514.0,140.3"/>
<path d="M364.7,159.0 370.7,156.5 376.6,154.1 382.6,152.4 388.6,152.5 394.6,150.9 400.5,149.1 406.5,143.4 412.5,144.2 418.4,143.5 424.4,140.8 430.4,142.2 436.4,142.7 442.3,142.2 448.3,143.2 454.3,145.0 460.3,145.6 466.2,145.3 472.2,139.3 478.2,138.6 484.1,141.3 490.1,141.6 496.1,142.5 502.1,140.8 508.0,139.9 514.0,141.8"/>
<path d="M364.7,159.0 370.7,157.5 376.6,155.5 382.6,153.2 388.6,151.9 394.6,151.6 400.5,149.1 406.5,147.5 412.5,145.8 418.4,148.0 424.4,146.9 430.4,148.8 436.4,150.4 442.3,149.5 448.3,150.1 454.3,150.0 460.3,149.6 466.2,146.9 472.2,143.2 478.2,144.1 484.1,144.0 490.1,144.1 496.1,145.5 502.1,146.6 508.0,145.4 514.0,146.7"/>
<path d="M364.7,159.0 370.7,156.9 376.6,154.5 382.6,152.9 388.6,152.9 394.6,151.0 400.5,148.5 406.5,146.9 412.5,144.6 418.4,145.3 424.4,142.8 430.4,144.3 436.4,146.0 442.3,148.6 448.3,150.6 454.3,148.7 460.3,147.3 466.2,145.3 472.2,140.6 478.2,140.7 484.1,141.6 490.1,141.8 496.1,141.0 502.1,143.9 508.0,141.8 514.0,146.4"/>
<path d="M364.7,159.0 370.7,156.2 376.6,154.3 382.6,153.4 388.6,151.3 394.6,149.3 400.5,147.1 406.5,145.0 412.5,145.0 418.4,142.7 424.4,142.3 430.4,145.1 436.4,144.4 442.3,144.3 448.3,148.1 454.3,147.1 460.3,144.8 466.2,142.7 472.2,140.1 478.2,139.0 484.1,142.9 490.1,141.8 496.1,140.2 502.1,141.2 508.0,140.2 514.0,145.1"/>
<path d="M364.7,159.0 370.7,156.7 376.6,154.9 382.6,152.6 388.6,150.7 394.6,150.2 400.5,149.7 406.5,147.0 412.5,147.4 418.4,148.8 424.4,148.2 430.4,148.8 436.4,150.3 442.3,147.9 448.3,150.3 454.3,149.4 460.3,149.6 466.2,148.1 472.2,144.9 478.2,145.5 484.1,145.6 490.1,144.6 496.1,147.8 502.1,147.0 508.0,147.1 514.0,148.9"/>
<path d="M364.7,159.0 370.7,155.7 376.6,152.6 382.6,150.3 388.6,148.4 394.6,147.7 400.5,145.2 406.5,143.2 412.5,143.3 418.4,141.5 424.4,140.2 430.4,141.2 436.4,141.6 442.3,139.2 448.3,144.4 454.3,143.1 460.3,141.8 466.2,140.6 472.2,134.3 478.2,136.1 484.1,137.4 490.1,137.3 496.1,138.5 502.1,137.7 508.0,138.7 514.0,140.9"/>
<path d="M364.7,159.0 370.7,156.4 376.6,153.4 382.6,151.2 388.6,149.2 394.6,148.5 400.5,145.3 406.5,145.1 412.5,142.4 418.4,141.9 424.4,138.1 430.4,139.8 436.4,140.8 442.3,142.4 448.3,145.2 454.3,145.5 460.3,140.4 466.2,140.9 472.2,136.3 478.2,135.8 484.1,137.0 490.1,135.7 496.1,136.2 502.1,135.8 508.0,135.3 514.0,138.8"/>
<path d="M364.7,159.0 370.7,156.5 376.6,153.4 382.6,152.4 388.6,151.0 394.6,149.5 400.5,147.0 406.5,148.9 412.5,148.0 418.4,147.0 424.4,145.1 430.4,143.0 436.4,144.3 442.3,145.5 448.3,147.5 454.3,145.8 460.3,146.1 466.2,143.4 472.2,142.1 478.2,141.0 484.1,141.0 490.1,140.2 496.1,138.6 502.1,140.9 508.0,140.5 514.0,143.4"/>
<path d="M364.7,159.0 370.7,156.4 376.6,154.3 382.6,152.3 388.6,150.0 394.6,148.7 400.5,148.5 406.5,146.9 412.5,147.5 418.4,146.2 424.4,143.2 430.4,142.9 436.4,144.2 442.3,145.1 448.3,147.4 454.3,147.7 460.3,148.4 466.2,146.6 472.2,141.8 478.2,142.2 484.1,142.4 490.1,141.8 496.1,141.8 502.1,141.5 508.0,139.8 514.0,142.7"/>
<path d="M364.7,159.0 370.7,157.3 376.6,155.6 382.6,153.4 388.6,152.4 394.6,153.3 400.5,148.2 406.5,148.1 412.5,147.2 418.4,145.4 424.4,143.8 430.4,145.1 436.4,148.0 442.3,147.4 448.3,150.6 454.3,149.4 460.3,147.4 466.2,147.0 472.2,145.4 478.2,145.7 484.1,144.4 490.1,142.9 496.1,144.1 502.1,144.4 508.0,143.1 514.0,144.2"/>
<path d="M364.7,159.0 370.7,157.1 376.6,154.7 382.6,152.1 388.6,151.3 394.6,149.7 400.5,149.0 406.5,150.7 412.5,150.1 418.4,147.0 424.4,147.7 430.4,149.4 436.4,150.6 442.3,151.4 448.3,152.8 454.3,149.2 460.3,151.8 466.2,149.7 472.2,146.8 478.2,146.5 484.1,145.0 490.1,144.9 496.1,145.4 502.1,146.5 508.0,144.2 514.0,146.3"/>
<path d="M364.7,159.0 370.7,156.7 376.6,154.5 382.6,152.9 388.6,151.6 394.6,151.6 400.5,150.9 406.5,149.2 412.5,147.1 418.4,146.0 424.4,142.8 430.4,143.3 436.4,144.3 442.3,145.1 448.3,149.5 454.3,147.9 460.3,145.6 466.2,146.4 472.2,140.8 478.2,140.8 484.1,141.2 490.1,142.0 496.1,141.6 502.1,143.6 508.0,142.8 514.0,145.2"/>
<path d="M364.7,159.0 370.7,156.6 376.6,154.2 382.6,152.1 388.6,150.2 394.6,147.7 400.5,145.7 406.5,144.5 412.5,142.5 418.4,141.2 424.4,139.0 430.4,140.2 436.4,143.3 442.3,145.3 448.3,147.3 454.3,145.4 460.3,146.7 466.2,144.9 472.2,141.7 478.2,140.8 484.1,140.1 490.1,140.2 496.1,139.6 502.1,138.9 508.0,141.2 514.0,144.3"/>
<path d="M364.7,159.0 370.7,156.8 376.6,154.3 382.6,153.7 388.6,152.1 394.6,150.1 400.5,148.9 406.5,145.9 412.5,144.3 418.4,144.4 424.4,144.4 430.4,146.4 436.4,146.1 442.3,146.7 448.3,148.6 454.3,148.7 460.3,146.1 466.2,144.2 472.2,139.7 478.2,142.0 484.1,139.0 490.1,138.7 496.1,140.4 502.1,140.4 508.0,140.5 514.0,144.5"/>
<path d="M364.7,159.0 370.7,156.7 376.6,153.9 382.6,151.8 388.6,151.9 394.6,149.5 400.5,147.6 406.5,146.2 412.5,144.5 418.4,141.6 424.4,141.1 430.4,145.7 436.4,147.2 442.3,147.6 448.3,150.3 454.3,148.7 460.3,146.4 466.2,145.6 472.2,142.5 478.2,142.4 484.1,145.9 490.1,145.3 496.1,142.9 502.1,144.2 508.0,141.8 514.0,143.4"/>
<path d="M364.7,159.0 370.7,157.3 376.6,155.1 382.6,153.8 388.6,153.4 394.6,152.0 400.5,154.4 406.5,153.4 412.5,152.5 418.4,150.5 424.4,151.8 430.4,151.6 436.4,152.7 442.3,150.8 448.3,151.2 454.3,151.0 460.3,149.8 466.2,150.7 472.2,147.2 478.2,146.9 484.1,145.7 490.1,146.4 496.1,148.8 502.1,147.7 508.0,148.4 514.0,150.4"/>
<path d="M364.7,159.0 370.7,157.1 376.6,155.9 382.6,154.2 388.6,153.3 394.6,152.3 400.5,150.6 406.5,147.2 412.5,147.0 418.4,147.0 424.4,145.3 430.4,146.4 436.4,147.1 442.3,147.3 448.3,151.1 454.3,149.4 460.3,148.4 466.2,148.3 472.2,145.1 478.2,145.8 484.1,146.5 490.1,146.4 496.1,145.7 502.1,145.7 508.0,145.2 514.0,147.9"/>
<path d="M364.7,159.0 370.7,156.1 376.6,153.6 382.6,152.0 388.6,148.9 394.6,149.1 400.5,147.9 406.5,144.6 412.5,143.1 418.4,142.7 424.4,142.4 430.4,142.5 436.4,142.9 442.3,143.9 448.3,147.8 454.3,148.1 460.3,146.6 466.2,145.1 472.2,139.1 478.2,139.9 484.1,139.0 490.1,140.5 496.1,141.7 502.1,140.7 508.0,140.3 514.0,144.1"/>
<path d="M364.7,159.0 370.7,156.5 376.6,154.5 382.6,153.2 388.6,150.8 394.6,148.1 400.5,144.7 406.5,143.5 412.5,142.6 418.4,144.3 424.4,141.0 430.4,141.8 436.4,143.8 442.3,144.4 448.3,146.0 454.3,141.9 460.3,141.8 466.2,142.5 472.2,137.7 478.2,140.2 484.1,141.8 490.1,139.8 496.1,139.1 502.1,139.2 508.0,137.0 514.0,140.7"/>
<path d="M364.7,159.0 370.7,156.8 376.6,154.7 382.6,152.7 388.6,151.1 394.6,150.7 400.5,151.0 406.5,149.7 412.5,149.5 418.4,146.6 424.4,143.7 430.4,144.2 436.4,144.7 442.3,146.1 448.3,148.1 454.3,147.0 460.3,146.3 466.2,145.9 472.2,143.0 478.2,142.5 484.1,142.0 490.1,143.1 496.1,142.4 502.1,142.9 508.0,141.4 514.0,146.2"/>
<path d="M364.7,159.0 370.7,156.6 376.6,154.3 382.6,153.6 388.6,152.0 394.6,150.5 400.5,146.2 406.5,147.5 412.5,145.9 418.4,144.2 424.4,143.1 430.4,143.5 436.4,144.9 442.3,145.1 448.3,147.6 454.3,146.5 460.3,146.8 466.2,145.1 472.2,141.1 478.2,142.6 484.1,140.8 490.1,138.1 496.1,136.9 502.1,140.1 508.0,139.6 514.0,141.5"/>
<path d="M364.7,159.0 370.7,156.7 376.6,155.1 382.6,153.2 388.6,152.3 394.6,152.8 400.5,152.2 406.5,151.6 412.5,147.5 418.4,148.3 424.4,146.0 430.4,147.7 436.4,148.9 442.3,150.2 448.3,149.9 454.3,150.0 460.3,149.6 466.2,147.7 472.2,144.1 478.2,143.1 484.1,144.2 490.1,145.7 496.1,143.8 502.1,142.8 508.0,141.7 514.0,145.6"/>
<path d="M364.7,159.0 370.7,157.5 376.6,155.7 382.6,154.0 388.6,152.4 394.6,151.5 400.5,151.4 406.5,150.0 412.5,147.8 418.4,147.6 424.4,144.7 430.4,147.0 436.4,149.5 442.3,147.4 448.3,149.1 454.3,148.8 460.3,148.4 466.2,148.3 472.2,147.6 478.2,148.8 484.1,150.7 490.1,149.1 496.1,150.8 502.1,149.3 508.0,149.4 514.0,151.5"/>
<path d="M364.7,159.0 370.7,157.2 376.6,155.2 382.6,154.3 388.6,153.5 394.6,150.5 400.5,148.5 406.5,147.3 412.5,146.9 418.4,144.9 424.4,145.4 430.4,147.0 436.4,148.2 442.3,150.1 448.3,152.6 454.3,149.1 460.3,148.7 466.2,149.3 472.2,146.5 478.2,147.1 484.1,147.5 490.1,147.1 496.1,148.1 502.1,150.2 508.0,148.9 514.0,150.3"/>
<path d="M364.7,159.0 370.7,156.7 376.6,154.2 382.6,152.0 388.6,150.8 394.6,149.4 400.5,148.8 406.5,147.9 412.5,146.8 418.4,145.1 424.4,144.7 430.4,142.6 436.4,144.4 442.3,144.8 448.3,149.2 454.3,145.6 460.3,144.5 466.2,143.7 472.2,140.0 478.2,139.1 484.1,140.9 490.1,141.0 496.1,140.2 502.1,142.4 508.0,142.4 514.0,146.2"/>
<path d="M364.7,159.0 370.7,155.9 376.6,153.0 382.6,150.3 388.6,148.0 394.6,147.6 400.5,147.1 406.5,143.5 412.5,141.6 418.4,142.1 424.4,142.2 430.4,142.2 436.4,144.1 442.3,145.2 448.3,148.0 454.3,145.9 460.3,147.2 466.2,144.1 472.2,139.4 478.2,138.2 484.1,139.9 490.1,140.3 496.1,138.5 502.1,138.1 508.0,137.6 514.0,141.3"/>
<path d="M364.7,159.0 370.7,157.7 376.6,156.0 382.6,154.6 388.6,153.9 394.6,153.5 400.5,152.6 406.5,151.3 412.5,151.0 418.4,149.6 424.4,149.4 430.4,147.9 436.4,151.3 442.3,151.3 448.3,151.5 454.3,152.2 460.3,150.8 466.2,150.5 472.2,148.5 478.2,148.0 484.1,148.2 490.1,148.1 496.1,146.4 502.1,147.8 508.0,146.5 514.0,151.4"/>
<path d="M364.7,159.0 370.7,155.9 376.6,152.6 382.6,150.3 388.6,148.4 394.6,148.4 400.5,147.8 406.5,144.8 412.5,142.6 418.4,140.1 424.4,137.6 430.4,139.9 436.4,141.4 442.3,140.6 448.3,145.7 454.3,143.8 460.3,144.1 466.2,142.4 472.2,135.1 478.2,135.7 484.1,137.1 490.1,137.8 496.1,138.8 502.1,139.3 508.0,140.9 514.0,143.2"/>
<path d="M364.7,159.0 370.7,156.1 376.6,153.4 382.6,151.5 388.6,149.5 394.6,148.1 400.5,147.8 406.5,145.6 412.5,144.6 418.4,143.3 424.4,141.0 430.4,138.4 436.4,140.4 442.3,142.9 448.3,146.2 454.3,145.1 460.3,143.9 466.2,142.5 472.2,137.2 478.2,138.2 484.1,138.9 490.1,138.4 496.1,134.9 502.1,134.4 508.0,135.5 514.0,142.5"/>
<path d="M364.7,159.0 370.7,156.2 376.6,153.2 382.6,150.6 388.6,148.4 394.6,146.6 400.5,145.7 406.5,145.4 412.5,142.8 418.4,141.7 424.4,138.8 430.4,142.5 436.4,143.7 442.3,146.2 448.3,146.8 454.3,146.3 460.3,146.4 466.2,143.5 472.2,138.8 478.2,138.7 484.1,139.1 490.1,137.5 496.1,136.8 502.1,137.9 508.0,137.6 514.0,139.8"/>
<path d="M364.7,159.0 370.7,156.2 376.6,153.2 382.6,151.8 388.6,150.1 394.6,147.2 400.5,146.5 406.5,142.5 412.5,140.1 418.4,141.3 424.4,139.7 430.4,140.1 436.4,139.8 442.3,141.1 448.3,144.4 454.3,143.4 460.3,143.1 466.2,141.1 472.2,135.9 478.2,134.8 484.1,136.8 490.1,137.3 496.1,136.8 502.1,138.7 508.0,137.2 514.0,140.8"/>
<path d="M364.7,159.0 370.7,156.9 376.6,155.4 382.6,153.5 388.6,152.7 394.6,152.2 400.5,149.8 406.5,147.2 412.5,147.5 418.4,145.5 424.4,142.1 430.4,142.2 436.4,144.5 442.3,144.1 448.3,149.3 454.3,148.2 460.3,147.7 466.2,144.7 472.2,142.3 478.2,143.4 484.1,143.5 490.1,141.8 496.1,142.8 502.1,142.8 508.0,142.3 514.0,145.3"/>
<path d="M364.7,159.0 370.7,156.9 376.6,153.9 382.6,151.3 388.6,149.0 394.6,147.8 400.5,147.2 406.5,145.9 412.5,145.5 418.4,144.2 424.4,145.7 430.4,144.6 436.4,144.7 442.3,145.2 448.3,148.4 454.3,149.3 460.3,147.4 466.2,146.4 472.2,143.3 478.2,140.8 484.1,142.6 490.1,142.3 496.1,143.5 502.1,143.8 508.0,142.0 514.0,143.3"/>
<path d="M364.7,159.0 370.7,156.4 376.6,153.6 382.6,153.2 388.6,151.6 394.6,150.0 400.5,150.4 406.5,147.6 412.5,146.8 418.4,143.2 424.4,142.9 430.4,142.4 436.4,145.0 442.3,146.5 448.3,146.7 454.3,146.6 460.3,146.2 466.2,146.7 472.2,141.4 478.2,139.5 484.1,140.3 490.1,140.3 496.1,139.6 502.1,141.4 508.0,142.0 514.0,144.2"/>
<path d="M364.7,159.0 370.7,156.5 376.6,153.5 382.6,151.7 388.6,152.3 394.6,151.8 400.5,150.9 406.5,146.1 412.5,144.3 418.4,143.3 424.4,141.5 430.4,144.4 436.4,147.2 442.3,147.4 448.3,148.6 454.3,147.6 460.3,148.1 466.2,146.0 472.2,142.1 478.2,144.7 484.1,142.8 490.1,144.1 496.1,141.0 502.1,141.0 508.0,137.5 514.0,142.8"/>
<path d="M364.7,159.0 370.7,156.1 376.6,153.8 382.6,152.0 388.6,151.3 394.6,151.1 400.5,150.1 406.5,150.5 412.5,149.2 418.4,146.4 424.4,144.8 430.4,146.2 436.4,143.1 442.3,143.0 448.3,146.6 454.3,144.2 460.3,143.1 466.2,142.4 472.2,137.4 478.2,138.8 484.1,140.0 490.1,137.5 496.1,137.5 502.1,137.1 508.0,139.7 514.0,143.8"/>
<path d="M364.7,159.0 370.7,156.6 376.6,154.2 382.6,152.5 388.6,150.7 394.6,149.0 400.5,148.9 406.5,145.3 412.5,143.9 418.4,144.1 424.4,143.2 430.4,143.4 436.4,145.8 442.3,147.5 448.3,148.3 454.3,146.5 460.3,146.3 466.2,145.0 472.2,141.4 478.2,142.6 484.1,144.9 490.1,143.3 496.1,145.1 502.1,145.7 508.0,145.6 514.0,144.5"/>
<path d="M364.7,159.0 370.7,157.4 376.6,155.4 382.6,154.2 388.6,151.8 394.6,151.2 400.5,150.8 406.5,152.3 412.5,150.1 418.4,149.4 424.4,151.2 430.4,150.4 436.4,150.1 442.3,150.8 448.3,150.6 454.3,150.4 460.3,150.4 466.2,149.3 472.2,148.2 478.2,147.5 484.1,148.7 490.1,147.9 496.1,146.1 502.1,147.4 508.0,147.9 514.0,147.5"/>
<path d="M364.7,159.0 370.7,157.1 376.6,155.0 382.6,151.4 388.6,151.0 394.6,151.0 400.5,151.0 406.5,151.2 412.5,150.9 418.4,149.5 424.4,147.7 430.4,147.9 436.4,147.5 442.3,147.3 448.3,147.6 454.3,147.6 460.3,148.1 466.2,146.8 472.2,144.7 478.2,143.7 484.1,143.8 490.1,141.7 496.1,142.8 502.1,144.1 508.0,141.8 514.0,143.6"/>
<path d="M364.7,159.0 370.7,156.3 376.6,152.8 382.6,150.5 388.6,147.9 394.6,147.4 400.5,145.3 406.5,144.1 412.5,142.9 418.4,144.1 424.4,142.7 430.4,142.9 436.4,142.8 442.3,143.5 448.3,146.0 454.3,144.4 460.3,142.4 466.2,144.2 472.2,142.7 478.2,142.5 484.1,140.5 490.1,138.4 496.1,137.9 502.1,140.8 508.0,139.7 514.0,143.6"/>
<path d="M364.7,159.0 370.7,155.6 376.6,151.9 382.6,150.7 388.6,148.8 394.6,147.4 400.5,146.2 406.5,142.0 412.5,139.5 418.4,140.0 424.4,137.5 430.4,138.9 436.4,141.0 442.3,141.3 448.3,144.3 454.3,141.9 460.3,142.4 466.2,140.6 472.2,138.6 478.2,136.8 484.1,139.0 490.1,139.5 496.1,137.8 502.1,138.7 508.0,137.2 514.0,140.9"/>
<path d="M364.7,159.0 370.7,157.5 376.6,156.1 382.6,155.2 388.6,154.1 394.6,153.9 400.5,152.4 406.5,149.8 412.5,148.7 418.4,147.7 424.4,143.8 430.4,146.4 436.4,148.3 442.3,147.8 448.3,150.3 454.3,147.5 460.3,148.5 466.2,148.0 472.2,143.0 478.2,145.9 484.1,144.8 490.1,144.6 496.1,144.2 502.1,143.5 508.0,144.5 514.0,146.1"/>
<path d="M364.7,159.0 370.7,157.2 376.6,155.9 382.6,154.4 388.6,155.0 394.6,153.1 400.5,153.9 406.5,150.5 412.5,147.5 418.4,147.5 424.4,148.1 430.4,149.5 436.4,149.7 442.3,150.3 448.3,152.2 454.3,150.4 460.3,147.5 466.2,146.8 472.2,144.2 478.2,143.7 484.1,143.9 490.1,144.0 496.1,144.3 502.1,146.0 508.0,146.9 514.0,147.7"/>
<path d="M364.7,159.0 370.7,156.2 376.6,153.0 382.6,150.7 388.6,149.9 394.6,148.8 400.5,147.8 406.5,142.6 412.5,143.3 418.4,143.1 424.4,139.5 430.4,139.0 436.4,141.2 442.3,140.5 448.3,144.2 454.3,144.6 460.3,143.9 466.2,141.5 472.2,135.1 478.2,136.5 484.1,138.9 490.1,138.1 496.1,138.0 502.1,139.7 508.0,138.0 514.0,140.9"/>
<path d="M364.7,159.0 370.7,157.2 376.6,155.5 382.6,154.6 388.6,151.9 394.6,150.4 400.5,150.3 406.5,147.3 412.5,147.5 418.4,144.3 424.4,143.6 430.4,144.7 436.4,144.0 442.3,145.4 448.3,147.9 454.3,148.5 460.3,148.8 466.2,147.9 472.2,142.6 478.2,142.1 484.1,142.3 490.1,143.1 496.1,140.5 502.1,139.9 508.0,139.9 514.0,145.2"/>
<path d="M364.7,159.0 370.7,156.4 376.6,153.9 382.6,151.3 388.6,150.3 394.6,150.0 400.5,147.4 406.5,146.5 412.5,145.6 418.4,146.8 424.4,144.6 430.4,145.7 436.4,146.8 442.3,148.7 448.3,151.3 454.3,150.3 460.3,149.0 466.2,146.2 472.2,145.1 478.2,146.6 484.1,147.1 490.1,146.9 496.1,146.5 502.1,147.7 508.0,146.9 514.0,147.7"/>
<path d="M364.7,159.0 370.7,156.3 376.6,153.5 382.6,151.0 388.6,149.9 394.6,149.8 400.5,150.7 406.5,147.8 412.5,146.6 418.4,143.9 424.4,142.3 430.4,145.2 436.4,148.0 442.3,146.3 448.3,146.9 454.3,145.7 460.3,143.5 466.2,145.1 472.2,139.8 478.2,138.1 484.1,142.0 490.1,142.0 496.1,141.8 502.1,140.5 508.0,142.4 514.0,147.6"/>
<path d="M364.7,159.0 370.7,156.9 376.6,154.8 382.6,153.5 388.6,151.9 394.6,151.1 400.5,149.0 406.5,144.9 412.5,147.2 418.4,146.4 424.4,145.9 430.4,145.9 436.4,149.3 442.3,146.5 448.3,147.9 454.3,145.1 460.3,144.2 466.2,145.9 472.2,143.1 478.2,141.6 484.1,141.2 490.1,143.0 496.1,142.6 502.1,142.0 508.0,140.6 514.0,144.4"/>
<path d="M364.7,159.0 370.7,156.8 376.6,154.9 382.6,153.5 388.6,152.8 394.6,151.2 400.5,151.0 406.5,149.8 412.5,150.8 418.4,150.3 424.4,149.4 430.4,148.0 436.4,151.0 442.3,151.2 448.3,153.9 454.3,153.2 460.3,154.0 466.2,152.9 472.2,148.3 478.2,147.5 484.1,145.8 490.1,147.6 496.1,144.2 502.1,145.2 508.0,147.1 514.0,150.4"/>
<path d="M364.7,159.0 370.7,156.3 376.6,153.6 382.6,152.5 388.6,151.5 394.6,149.6 400.5,150.1 406.5,145.2 412.5,145.0 418.4,143.6 424.4,138.6 430.4,140.9 436.4,142.2 442.3,142.7 448.3,146.0 454.3,146.5 460.3,147.6 466.2,145.5 472.2,141.1 478.2,139.4 484.1,139.7 490.1,138.8 496.1,140.0 502.1,141.2 508.0,139.8 514.0,143.2"/>
<path d="M364.7,159.0 370.7,155.8 376.6,152.4 382.6,149.8 388.6,147.2 394.6,145.8 400.5,142.9 406.5,144.6 412.5,143.4 418.4,142.7 424.4,141.4 430.4,141.8 436.4,142.7 442.3,142.1 448.3,144.3 454.3,141.9 460.3,142.9 466.2,142.1 472.2,137.3 478.2,137.1 484.1,136.6 490.1,135.9 496.1,134.5 502.1,135.7 508.0,135.8 514.0,137.5"/>
<path d="M364.7,159.0 370.7,157.2 376.6,155.0 382.6,153.7 388.6,151.6 394.6,151.0 400.5,149.1 406.5,149.0 412.5,149.1 418.4,148.3 424.4,146.9 430.4,148.7 436.4,147.5 442.3,149.4 448.3,151.3 454.3,150.0 460.3,149.5 466.2,147.2 472.2,145.4 478.2,144.2 484.1,143.3 490.1,143.6 496.1,141.2 502.1,144.9 508.0,145.2 514.0,149.1"/>
<path d="M364.7,159.0 370.7,156.2 376.6,154.1 382.6,152.0 388.6,149.4 394.6,148.6 400.5,148.4 406.5,147.2 412.5,146.6 418.4,146.4 424.4,139.7 430.4,143.4 436.4,141.5 442.3,143.2 448.3,145.8 454.3,145.3 460.3,146.3 466.2,143.3 472.2,140.7 478.2,141.5 484.1,140.9 490.1,140.3 496.1,139.6 502.1,140.3 508.0,140.2 514.0,144.0"/>
<path d="M364.7,159.0 370.7,157.3 376.6,155.2 382.6,154.6 388.6,152.5 394.6,152.6 400.5,151.8 406.5,151.3 412.5,151.1 418.4,149.2 424.4,150.1 430.4,148.2 436.4,151.0 442.3,149.9 448.3,151.8 454.3,151.2 460.3,150.0 466.2,147.5 472.2,144.7 478.2,146.2 484.1,146.4 490.1,145.0 496.1,146.2 502.1,146.4 508.0,144.4 514.0,147.7"/>
<path d="M364.7,159.0 370.7,156.9 376.6,154.6 382.6,152.5 388.6,150.2 394.6,148.7 400.5,146.4 406.5,148.1 412.5,148.5 418.4,148.3 424.4,148.4 430.4,149.1 436.4,148.6 442.3,147.4 448.3,150.4 454.3,149.5 460.3,151.1 466.2,148.8 472.2,146.0 478.2,146.7 484.1,146.3 490.1,144.0 496.1,144.8 502.1,145.8 508.0,146.4 514.0,147.9"/>
<path d="M364.7,159.0 370.7,156.5 376.6,154.5 382.6,152.8 388.6,151.4 394.6,150.5 400.5,149.0 406.5,144.1 412.5,142.5 418.4,140.7 424.4,140.4 430.4,140.6 436.4,143.4 442.3,144.2 448.3,145.5 454.3,142.3 460.3,142.3 466.2,142.2 472.2,139.0 478.2,141.0 484.1,140.6 490.1,138.5 496.1,137.9 502.1,139.7 508.0,139.9 514.0,144.2"/>
<path d="M364.7,159.0 370.7,156.4 376.6,153.5 382.6,151.5 388.6,150.7 394.6,148.0 400.5,146.1 406.5,143.2 412.5,139.1 418.4,138.8 424.4,137.9 430.4,139.8 436.4,142.3 442.3,146.4 448.3,147.7 454.3,147.7 460.3,147.3 466.2,144.1 472.2,137.0 478.2,137.9 484.1,137.4 490.1,136.7 496.1,134.2 502.1,136.6 508.0,135.4 514.0,139.5"/>
<path d="M364.7,159.0 370.7,157.5 376.6,156.2 382.6,154.8 388.6,153.6 394.6,154.3 400.5,153.4 406.5,152.9 412.5,152.7 418.4,150.9 424.4,150.5 430.4,150.1 436.4,153.5 442.3,152.1 448.3,152.8 454.3,152.3 460.3,152.4 466.2,153.1 472.2,150.7 478.2,147.5 484.1,147.0 490.1,147.0 496.1,147.5 502.1,148.6 508.0,149.3 514.0,150.1"/>
<path d="M364.7,159.0 370.7,156.6 376.6,153.9 382.6,150.6 388.6,149.2 394.6,147.1 400.5,145.3 406.5,145.1 412.5,143.3 418.4,139.4 424.4,140.4 430.4,141.5 436.4,141.5 442.3,142.7 448.3,147.2 454.3,146.1 460.3,145.3 466.2,142.3 472.2,135.8 478.2,137.3 484.1,138.2 490.1,136.2 496.1,137.2 502.1,139.2 508.0,139.0 514.0,143.0"/>
<path d="M364.7,159.0 370.7,156.2 376.6,153.4 382.6,150.9 388.6,149.4 394.6,147.3 400.5,143.2 406.5,145.3 412.5,144.8 418.4,142.9 424.4,139.5 430.4,142.7 436.4,143.7 442.3,143.2 448.3,146.8 454.3,145.6 460.3,144.5 466.2,142.2 472.2,137.6 478.2,137.9 484.1,139.5 490.1,139.9 496.1,136.4 502.1,139.7 508.0,139.5 514.0,143.4"/>
<path d="M364.7,159.0 370.7,156.0 376.6,153.7 382.6,151.2 388.6,149.5 394.6,149.6 400.5,148.1 406.5,147.0 412.5,144.6 418.4,142.2 424.4,140.6 430.4,142.0 436.4,143.4 442.3,143.1 448.3,148.4 454.3,145.9 460.3,144.8 466.2,143.2 472.2,137.8 478.2,138.4 484.1,139.3 490.1,140.6 496.1,140.6 502.1,142.3 508.0,141.8 514.0,143.1"/>
<path d="M364.7,159.0 370.7,157.2 376.6,155.3 382.6,153.8 388.6,152.6 394.6,153.0 400.5,152.2 406.5,153.1 412.5,150.3 418.4,147.7 424.4,147.1 430.4,147.5 436.4,148.7 442.3,151.8 448.3,153.3 454.3,151.0 460.3,150.7 466.2,151.1 472.2,151.8 478.2,149.3 484.1,146.9 490.1,144.8 496.1,142.0 502.1,146.9 508.0,146.7 514.0,147.9"/>
<path d="M364.7,159.0 370.7,156.2 376.6,154.4 382.6,153.2 388.6,152.8 394.6,151.2 400.5,149.4 406.5,147.9 412.5,146.5 418.4,143.2 424.4,144.6 430.4,146.7 436.4,145.0 442.3,146.1 448.3,150.1 454.3,150.2 460.3,149.8 466.2,148.4 472.2,145.5 478.2,142.5 484.1,143.2 490.1,143.1 496.1,145.2 502.1,148.3 508.0,147.3 514.0,149.6"/>
<path d="M364.7,159.0 370.7,157.1 376.6,155.8 382.6,154.1 388.6,151.4 394.6,151.3 400.5,150.4 406.5,150.4 412.5,148.1 418.4,145.3 424.4,144.2 430.4,144.3 436.4,144.7 442.3,146.0 448.3,147.4 454.3,149.1 460.3,148.4 466.2,147.0 472.2,142.3 478.2,141.1 484.1,142.2 490.1,143.4 496.1,143.4 502.1,144.4 508.0,144.7 514.0,148.5"/>
<path d="M364.7,159.0 370.7,156.5 376.6,153.5 382.6,151.3 388.6,149.9 394.6,148.0 400.5,143.9 406.5,141.4 412.5,141.9 418.4,142.8 424.4,142.2 430.4,145.3 436.4,146.4 442.3,147.1 448.3,151.5 454.3,146.8 460.3,145.0 466.2,144.0 472.2,138.6 478.2,140.7 484.1,141.7 490.1,139.2 496.1,139.0 502.1,137.8 508.0,139.3 514.0,142.9"/>
<path d="M364.7,159.0 370.7,157.3 376.6,155.6 382.6,154.9 388.6,153.9 394.6,153.4 400.5,153.6 406.5,152.2 412.5,152.1 418.4,150.6 424.4,148.1 430.4,148.3 436.4,149.1 442.3,148.9 448.3,151.2 454.3,150.1 460.3,146.5 466.2,146.6 472.2,142.4 478.2,143.1 484.1,145.1 490.1,145.4 496.1,147.0 502.1,146.9 508.0,145.2 514.0,147.1"/>
<path d="M364.7,159.0 370.7,157.2 376.6,155.3 382.6,154.5 388.6,155.2 394.6,152.7 400.5,152.2 406.5,150.5 412.5,150.0 418.4,146.9 424.4,148.0 430.4,147.3 436.4,147.0 442.3,149.0 448.3,150.5 454.3,148.9 460.3,149.9 466.2,148.3 472.2,148.9 478.2,151.0 484.1,150.8 490.1,151.2 496.1,149.3 502.1,150.8 508.0,148.9 514.0,148.6"/>
<path d="M364.7,159.0 370.7,156.8 376.6,154.8 382.6,153.2 388.6,153.4 394.6,150.0 400.5,150.5 406.5,149.1 412.5,150.1 418.4,148.2 424.4,148.1 430.4,148.4 436.4,149.7 442.3,150.1 448.3,152.0 454.3,151.9 460.3,150.9 466.2,150.6 472.2,147.1 478.2,147.3 484.1,148.3 490.1,147.0 496.1,145.3 502.1,145.8 508.0,147.2 514.0,148.2"/>
<path d="M364.7,159.0 370.7,156.3 376.6,153.3 382.6,151.2 388.6,149.2 394.6,147.1 400.5,145.7 406.5,144.8 412.5,143.8 418.4,141.9 424.4,139.8 430.4,141.7 436.4,142.7 442.3,141.9 448.3,145.2 454.3,144.8 460.3,145.5 466.2,144.8 472.2,141.2 478.2,141.3 484.1,140.3 490.1,142.0 496.1,139.7 502.1,141.2 508.0,138.6 514.0,141.4"/>
<path d="M364.7,159.0 370.7,157.7 376.6,156.2 382.6,156.2 388.6,155.2 394.6,155.7 400.5,155.5 406.5,151.5 412.5,151.2 418.4,151.0 424.4,148.7 430.4,150.4 436.4,151.5 442.3,151.6 448.3,152.1 454.3,152.6 460.3,151.9 466.2,153.3 472.2,151.4 478.2,150.6 484.1,150.8 490.1,149.6 496.1,147.8 502.1,150.9 508.0,149.3 514.0,150.5"/>
<path d="M364.7,159.0 370.7,156.4 376.6,154.2 382.6,152.1 388.6,150.5 394.6,150.6 400.5,148.7 406.5,147.6 412.5,147.8 418.4,145.3 424.4,143.9 430.4,146.2 436.4,146.3 442.3,145.7 448.3,151.2 454.3,150.9 460.3,150.8 466.2,150.8 472.2,145.0 478.2,145.7 484.1,147.5 490.1,146.0 496.1,144.8 502.1,146.1 508.0,143.9 514.0,144.1"/>
<path d="M364.7,159.0 370.7,156.8 376.6,155.0 382.6,154.3 388.6,151.9 394.6,151.3 400.5,152.9 406.5,150.4 412.5,148.0 418.4,145.9 424.4,144.0 430.4,145.5 436.4,146.4 442.3,146.7 448.3,147.1 454.3,146.8 460.3,149.0 466.2,146.8 472.2,143.7 478.2,144.5 484.1,145.1 490.1,144.0 496.1,143.8 502.1,144.4 508.0,144.1 514.0,145.3"/>
<path d="M364.7,159.0 370.7,157.2 376.6,155.0 382.6,153.1 388.6,151.1 394.6,150.3 400.5,150.2 406.5,148.6 412.5,145.0 418.4,146.3 424.4,145.4 430.4,146.2 436.4,148.2 442.3,146.8 448.3,149.9 454.3,149.1 460.3,148.5 466.2,147.0 472.2,145.1 478.2,143.3 484.1,144.5 490.1,143.0 496.1,141.5 502.1,140.9 508.0,142.1 514.0,144.2"/>
<path d="M364.7,159.0 370.7,156.1 376.6,153.8 382.6,152.5 388.6,149.9 394.6,148.0 400.5,145.6 406.5,145.0 412.5,144.4 418.4,142.7 424.4,141.6 430.4,141.0 436.4,140.9 442.3,143.3 448.3,144.9 454.3,144.6 460.3,143.1 466.2,142.0 472.2,138.3 478.2,138.6 484.1,136.7 490.1,136.0 496.1,135.9 502.1,138.2 508.0,134.9 514.0,137.5"/>
<path d="M364.7,159.0 370.7,157.1 376.6,155.1 382.6,153.6 388.6,153.9 394.6,152.3 400.5,150.0 406.5,148.4 412.5,146.6 418.4,144.9 424.4,142.8 430.4,146.3 436.4,148.2 442.3,149.0 448.3,150.9 454.3,150.6 460.3,149.8 466.2,150.1 472.2,146.0 478.2,146.8 484.1,146.9 490.1,148.0 496.1,147.0 502.1,145.8 508.0,146.2 514.0,147.8"/>
<path d="M364.7,159.0 370.7,156.9 376.6,154.8 382.6,152.3 388.6,150.5 394.6,147.9 400.5,146.9 406.5,143.5 412.5,143.1 418.4,141.9 424.4,140.5 430.4,141.9 436.4,144.5 442.3,145.6 448.3,146.1 454.3,143.9 460.3,144.6 466.2,143.4 472.2,142.1 478.2,140.9 484.1,141.5 490.1,144.2 496.1,144.1 502.1,144.5 508.0,143.7 514.0,145.8"/>
<path d="M364.7,159.0 370.7,156.6 376.6,153.7 382.6,152.5 388.6,150.6 394.6,149.8 400.5,149.1 406.5,147.1 412.5,144.2 418.4,143.8 424.4,140.7 430.4,138.9 436.4,141.9 442.3,143.8 448.3,145.6 454.3,146.5 460.3,147.6 466.2,147.7 472.2,142.9 478.2,141.5 484.1,142.2 490.1,141.9 496.1,141.3 502.1,143.2 508.0,141.6 514.0,143.5"/>
<path d="M364.7,159.0 370.7,157.7 376.6,155.8 382.6,155.6 388.6,155.8 394.6,155.1 400.5,154.3 406.5,151.0 412.5,149.1 418.4,148.9 424.4,148.9 430.4,150.3 436.4,148.8 442.3,148.7 448.3,149.8 454.3,152.0 460.3,153.3 466.2,150.2 472.2,144.2 478.2,144.3 484.1,146.0 490.1,148.1 496.1,148.7 502.1,147.9 508.0,146.6 514.0,149.3"/>
<path d="M364.7,159.0 370.7,157.6 376.6,155.8 382.6,153.6 388.6,153.2 394.6,152.1 400.5,150.6 406.5,150.3 412.5,149.1 418.4,149.5 424.4,146.2 430.4,144.6 436.4,146.0 442.3,146.8 448.3,148.1 454.3,147.9 460.3,147.3 466.2,147.1 472.2,143.7 478.2,144.9 484.1,145.6 490.1,146.5 496.1,145.8 502.1,146.3 508.0,143.6 514.0,144.1"/>
<path d="M364.7,159.0 370.7,156.6 376.6,154.6 382.6,153.3 388.6,151.4 394.6,149.1 400.5,148.4 406.5,148.2 412.5,147.8 418.4,146.7 424.4,145.5 430.4,146.2 436.4,144.3 442.3,146.8 448.3,150.2 454.3,149.6 460.3,150.1 466.2,147.1 472.2,144.9 478.2,145.5 484.1,146.2 490.1,144.6 496.1,143.8 502.1,145.0 508.0,144.4 514.0,145.6"/>
<path d="M364.7,159.0 370.7,157.2 376.6,155.3 382.6,154.1 388.6,152.0 394.6,151.5 400.5,150.7 406.5,150.0 412.5,150.9 418.4,150.8 424.4,149.1 430.4,148.6 436.4,150.7 442.3,149.0 448.3,150.7 454.3,150.4 460.3,151.0 466.2,147.2 472.2,144.7 478.2,144.7 484.1,143.6 490.1,145.8 496.1,147.2 502.1,146.7 508.0,146.0 514.0,150.3"/>
<path d="M364.7,159.0 370.7,157.6 376.6,155.9 382.6,155.2 388.6,155.8 394.6,152.5 400.5,149.3 406.5,148.5 412.5,150.7 418.4,149.5 424.4,147.0 430.4,148.8 436.4,148.1 442.3,147.4 448.3,148.9 454.3,147.9 460.3,149.3 466.2,149.3 472.2,147.5 478.2,149.0 484.1,147.3 490.1,147.1 496.1,145.3 502.1,146.3 508.0,147.0 514.0,147.0"/>
<path d="M364.7,159.0 370.7,156.2 376.6,153.0 382.6,151.2 388.6,150.6 394.6,150.3 400.5,147.6 406.5,144.8 412.5,141.9 418.4,141.9 424.4,141.8 430.4,141.2 436.4,142.8 442.3,143.0 448.3,147.0 454.3,143.5 460.3,143.8 466.2,143.5 472.2,133.8 478.2,134.8 484.1,135.0 490.1,135.0 496.1,134.2 502.1,138.9 508.0,138.2 514.0,142.4"/>
<path d="M364.7,159.0 370.7,156.6 376.6,153.9 382.6,152.6 388.6,151.4 394.6,149.8 400.5,148.2 406.5,146.6 412.5,143.5 418.4,141.6 424.4,138.0 430.4,139.4 436.4,140.9 442.3,141.1 448.3,144.8 454.3,142.9 460.3,143.6 466.2,143.5 472.2,142.4 478.2,142.8 484.1,141.7 490.1,140.2 496.1,139.3 502.1,139.7 508.0,136.0 514.0,139.8"/>
<path d="M364.7,159.0 370.7,155.5 376.6,152.6 382.6,150.4 388.6,148.2 394.6,146.8 400.5,146.6 406.5,145.6 412.5,144.0 418.4,143.1 424.4,139.7 430.4,139.4 436.4,141.4 442.3,140.6 448.3,144.1 454.3,143.6 460.3,143.5 466.2,145.6 472.2,140.9 478.2,139.2 484.1,140.2 490.1,136.9 496.1,136.3 502.1,136.9 508.0,137.8 514.0,141.0"/>
<path d="M364.7,159.0 370.7,156.0 376.6,153.7 382.6,151.9 388.6,150.4 394.6,149.3 400.5,146.1 406.5,146.2 412.5,145.3 418.4,143.0 424.4,140.0 430.4,141.4 436.4,141.5 442.3,143.5 448.3,145.1 454.3,145.2 460.3,143.5 466.2,145.2 472.2,140.0 478.2,141.4 484.1,142.1 490.1,141.8 496.1,140.7 502.1,141.9 508.0,142.8 514.0,146.0"/>
<path d="M364.7,159.0 370.7,157.1 376.6,154.8 382.6,153.3 388.6,153.2 394.6,151.0 400.5,151.2 406.5,152.8 412.5,150.4 418.4,149.9 424.4,149.9 430.4,151.1 436.4,150.7 442.3,151.2 448.3,153.2 454.3,150.2 460.3,150.8 466.2,147.1 472.2,146.4 478.2,145.4 484.1,143.4 490.1,142.9 496.1,140.3 502.1,143.1 508.0,144.9 514.0,145.2"/>
<path d="M364.7,159.0 370.7,155.8 376.6,153.3 382.6,152.6 388.6,148.9 394.6,146.7 400.5,146.0 406.5,144.9 412.5,142.2 418.4,139.7 424.4,139.2 430.4,140.4 436.4,139.9 442.3,142.4 448.3,144.4 454.3,141.9 460.3,144.1 466.2,144.3 472.2,135.9 478.2,136.9 484.1,136.0 490.1,135.7 496.1,134.3 502.1,134.3 508.0,132.5 514.0,136.1"/>
<path d="M364.7,159.0 370.7,157.1 376.6,154.3 382.6,153.2 388.6,152.2 394.6,151.5 400.5,150.3 406.5,147.8 412.5,145.7 418.4,142.6 424.4,142.9 430.4,143.2 436.4,143.7 442.3,145.6 448.3,148.3 454.3,149.4 460.3,147.5 466.2,146.8 472.2,143.3 478.2,143.8 484.1,143.7 490.1,143.1 496.1,141.6 502.1,141.4 508.0,140.3 514.0,145.5"/>
<path d="M364.7,159.0 370.7,157.1 376.6,155.3 382.6,153.9 388.6,153.6 394.6,149.9 400.5,148.5 406.5,147.8 412.5,145.1 418.4,143.1 424.4,144.6 430.4,145.0 436.4,147.5 442.3,148.9 448.3,149.9 454.3,149.3 460.3,147.8 466.2,147.8 472.2,143.1 478.2,143.0 484.1,145.7 490.1,145.2 496.1,147.2 502.1,148.4 508.0,146.1 514.0,146.6"/>
<path d="M364.7,159.0 370.7,156.9 376.6,154.8 382.6,152.9 388.6,151.0 394.6,151.4 400.5,147.9 406.5,145.3 412.5,142.7 418.4,142.5 424.4,142.5 430.4,144.4 436.4,144.5 442.3,144.8 448.3,148.5 454.3,148.5 460.3,147.1 466.2,146.6 472.2,143.0 478.2,143.6 484.1,142.5 490.1,141.9 496.1,140.7 502.1,141.2 508.0,137.5 514.0,140.6"/>
<path d="M364.7,159.0 370.7,157.1 376.6,155.3 382.6,153.8 388.6,151.9 394.6,150.9 400.5,147.7 406.5,147.4 412.5,146.4 418.4,146.2 424.4,143.3 430.4,144.9 436.4,147.6 442.3,148.7 448.3,153.3 454.3,150.3 460.3,146.2 466.2,146.3 472.2,142.1 478.2,141.7 484.1,142.9 490.1,143.8 496.1,141.8 502.1,144.4 508.0,143.1 514.0,144.9"/>
<path d="M364.7,159.0 370.7,156.5 376.6,154.0 382.6,150.9 388.6,149.9 394.6,149.0 400.5,147.7 406.5,145.2 412.5,142.9 418.4,142.1 424.4,140.5 430.4,141.4 436.4,143.3 442.3,143.6 448.3,146.2 454.3,144.6 460.3,143.1 466.2,143.0 472.2,140.3 478.2,141.7 484.1,139.3 490.1,140.1 496.1,137.3 502.1,140.2 508.0,139.9 514.0,145.5"/>
<path d="M364.7,159.0 370.7,157.1 376.6,154.8 382.6,153.5 388.6,151.5 394.6,150.4 400.5,150.6 406.5,147.2 412.5,147.5 418.4,147.0 424.4,144.0 430.4,143.5 436.4,144.8 442.3,144.6 448.3,146.8 454.3,148.1 460.3,148.5 466.2,147.5 472.2,142.5 478.2,143.9 484.1,144.9 490.1,145.7 496.1,145.1 502.1,146.7 508.0,145.0 514.0,146.0"/>
<path d="M364.7,159.0 370.7,156.3 376.6,154.1 382.6,153.3 388.6,152.8 394.6,153.1 400.5,151.1 406.5,145.4 412.5,144.1 418.4,144.6 424.4,143.2 430.4,144.1 436.4,144.4 442.3,144.8 448.3,146.2 454.3,146.1 460.3,146.3 466.2,145.6 472.2,139.1 478.2,140.9 484.1,142.1 490.1,139.9 496.1,138.5 502.1,136.7 508.0,135.5 514.0,137.4"/>
<path d="M364.7,159.0 370.7,155.8 376.6,152.9 382.6,150.2 388.6,148.8 394.6,147.1 400.5,145.7 406.5,147.4 412.5,144.8 418.4,145.3 424.4,144.3 430.4,145.6 436.4,145.1 442.3,145.9 448.3,148.4 454.3,147.6 460.3,147.5 466.2,144.9 472.2,142.5 478.2,142.4 484.1,142.7 490.1,142.2 496.1,142.4 502.1,143.9 508.0,142.0 514.0,143.8"/>
<path d="M364.7,159.0 370.7,156.6 376.6,153.6 382.6,151.1 388.6,150.2 394.6,149.4 400.5,146.9 406.5,145.5 412.5,144.8 418.4,143.8 424.4,141.8 430.4,142.3 436.4,143.3 442.3,143.6 448.3,144.3 454.3,142.4 460.3,144.1 466.2,144.3 472.2,141.1 478.2,141.6 484.1,140.2 490.1,141.7 496.1,141.0 502.1,141.5 508.0,140.4 514.0,143.3"/>
<path d="M364.7,159.0 370.7,156.1 376.6,153.7 382.6,151.7 388.6,150.6 394.6,146.6 400.5,143.6 406.5,143.4 412.5,145.9 418.4,145.0 424.4,143.2 430.4,144.7 436.4,144.7 442.3,144.6 448.3,146.1 454.3,144.6 460.3,144.9 466.2,144.5 472.2,138.9 478.2,139.0 484.1,142.1 490.1,140.6 496.1,138.0 502.1,140.9 508.0,140.2 514.0,140.7"/>
<path d="M364.7,159.0 370.7,157.3 376.6,155.3 382.6,153.0 388.6,151.9 394.6,148.9 400.5,148.2 406.5,145.2 412.5,145.4 418.4,145.2 424.4,147.1 430.4,146.7 436.4,148.2 442.3,149.3 448.3,152.0 454.3,150.7 460.3,150.3 466.2,149.9 472.2,143.7 478.2,140.2 484.1,141.1 490.1,142.0 496.1,142.9 502.1,143.0 508.0,144.6 514.0,147.3"/>
<path d="M364.7,159.0 370.7,157.4 376.6,155.5 382.6,153.8 388.6,151.9 394.6,150.2 400.5,150.9 406.5,151.2 412.5,149.9 418.4,146.4 424.4,144.9 430.4,147.2 436.4,147.6 442.3,147.9 448.3,150.1 454.3,150.1 460.3,151.1 466.2,151.4 472.2,147.0 478.2,146.9 484.1,146.8 490.1,145.2 496.1,143.8 502.1,146.9 508.0,146.5 514.0,148.2"/>
<path d="M364.7,159.0 370.7,156.4 376.6,153.5 382.6,151.9 388.6,151.4 394.6,149.0 400.5,147.6 406.5,146.3 412.5,147.0 418.4,146.7 424.4,144.4 430.4,144.7 436.4,146.2 442.3,145.5 448.3,149.0 454.3,151.0 460.3,149.9 466.2,149.1 472.2,141.2 478.2,141.8 484.1,143.4 490.1,142.3 496.1,142.3 502.1,143.0 508.0,143.4 514.0,147.2"/>
<path d="M364.7,159.0 370.7,157.2 376.6,155.5 382.6,154.5 388.6,151.9 394.6,151.6 400.5,153.3 406.5,149.6 412.5,147.5 418.4,146.3 424.4,144.1 430.4,145.0 436.4,144.6 442.3,146.9 448.3,148.8 454.3,149.0 460.3,148.2 466.2,146.2 472.2,142.0 478.2,142.0 484.1,141.4 490.1,139.6 496.1,142.4 502.1,143.8 508.0,141.7 514.0,144.6"/>
<path d="M364.7,159.0 370.7,157.2 376.6,156.1 382.6,154.9 388.6,153.2 394.6,151.5 400.5,151.0 406.5,150.2 412.5,147.9 418.4,149.0 424.4,149.8 430.4,150.5 436.4,148.9 442.3,147.4 448.3,150.9 454.3,150.4 460.3,149.3 466.2,149.9 472.2,144.7 478.2,144.8 484.1,143.8 490.1,144.0 496.1,143.9 502.1,143.8 508.0,145.8 514.0,146.9"/>
<path d="M364.7,159.0 370.7,156.4 376.6,153.7 382.6,152.0 388.6,151.6 394.6,150.8 400.5,149.5 406.5,147.4 412.5,144.4 418.4,142.6 424.4,141.2 430.4,144.4 436.4,143.2 442.3,144.4 448.3,149.9 454.3,146.8 460.3,146.0 466.2,144.3 472.2,140.5 478.2,140.7 484.1,142.5 490.1,142.5 496.1,140.8 502.1,140.0 508.0,141.7 514.0,143.9"/>
<path d="M364.7,159.0 370.7,156.4 376.6,153.2 382.6,150.6 388.6,149.2 394.6,148.2 400.5,148.0 406.5,144.5 412.5,143.5 418.4,141.9 424.4,140.9 430.4,140.8 436.4,141.7 442.3,146.5 448.3,146.9 454.3,147.9 460.3,144.9 466.2,143.9 472.2,139.4 478.2,139.8 484.1,140.4 490.1,142.3 496.1,141.7 502.1,140.4 508.0,137.0 514.0,139.0"/>
<path d="M364.7,159.0 370.7,156.8 376.6,153.9 382.6,153.3 388.6,152.7 394.6,150.6 400.5,150.0 406.5,146.3 412.5,147.6 418.4,148.1 424.4,144.7 430.4,145.4 436.4,146.1 442.3,146.8 448.3,149.8 454.3,149.6 460.3,147.8 466.2,146.1 472.2,141.8 478.2,142.6 484.1,145.6 490.1,144.3 496.1,143.3 502.1,143.8 508.0,144.6 514.0,147.6"/>
<path d="M364.7,159.0 370.7,157.5 376.6,156.2 382.6,155.3 388.6,153.7 394.6,153.1 400.5,150.7 406.5,149.9 412.5,148.2 418.4,148.9 424.4,150.6 430.4,152.5 436.4,153.2 442.3,152.2 448.3,149.2 454.3,150.1 460.3,148.3 466.2,146.6 472.2,144.9 478.2,146.7 484.1,147.1 490.1,146.7 496.1,146.3 502.1,147.6 508.0,146.1 514.0,150.2"/>
<path d="M364.7,159.0 370.7,155.4 376.6,151.9 382.6,149.4 388.6,147.2 394.6,146.1 400.5,145.1 406.5,146.7 412.5,145.7 418.4,143.1 424.4,139.3 430.4,141.6 436.4,140.5 442.3,141.8 448.3,145.3 454.3,143.9 460.3,141.4 466.2,142.0 472.2,135.6 478.2,134.9 484.1,136.1 490.1,134.8 496.1,134.6 502.1,135.8 508.0,137.5 514.0,140.3"/>
<path d="M364.7,159.0 370.7,156.5 376.6,153.9 382.6,152.3 388.6,150.4 394.6,150.5 400.5,148.8 406.5,146.3 412.5,144.3 418.4,143.6 424.4,140.0 430.4,143.8 436.4,145.9 442.3,145.3 448.3,147.2 454.3,145.9 460.3,144.1 466.2,144.8 472.2,140.3 478.2,139.7 484.1,138.2 490.1,137.6 496.1,137.9 502.1,138.9 508.0,138.3 514.0,142.7"/>
<path d="M364.7,159.0 370.7,157.4 376.6,156.1 382.6,154.8 388.6,154.3 394.6,153.2 400.5,155.3 406.5,152.8 412.5,150.8 418.4,148.2 424.4,148.6 430.4,148.6 436.4,150.1 442.3,148.7 448.3,149.9 454.3,149.8 460.3,152.7 466.2,149.9 472.2,144.7 478.2,145.3 484.1,146.7 490.1,145.3 496.1,145.3 502.1,147.0 508.0,144.7 514.0,146.4"/>
</g>
<g stroke-opacity="0.33">
<path d="M364.7,159.0 370.7,155.9 376.6,153.5 382.6,151.1 388.6,149.8 394.6,149.5 400.5,148.5 406.5,145.7 412.5,142.3 418.4,140.2 424.4,135.3 430.4,137.7 436.4,140.3 442.3,140.2 448.3,142.3 454.3,139.3 460.3,137.2 466.2,136.3 472.2,132.2 478.2,130.3 484.1,131.2 490.1,130.8 496.1,130.6 502.1,129.3 508.0,127.7 514.0,130.1"/>
<path d="M364.7,159.0 370.7,155.2 376.6,152.2 382.6,149.6 388.6,147.2 394.6,145.2 400.5,146.9 406.5,144.4 412.5,141.3 418.4,140.5 424.4,139.6 430.4,140.5 436.4,141.1 442.3,142.5 448.3,145.4 454.3,143.1 460.3,142.5 466.2,143.7 472.2,138.9 478.2,138.0 484.1,137.3 490.1,137.1 496.1,136.0 502.1,138.2 508.0,136.1 514.0,140.0"/>
<path d="M364.7,159.0 370.7,155.8 376.6,152.4 382.6,148.9 388.6,145.7 394.6,143.4 400.5,142.8 406.5,138.1 412.5,135.1 418.4,132.9 424.4,132.1 430.4,132.4 436.4,134.8 442.3,137.3 448.3,141.0 454.3,137.4 460.3,138.2 466.2,139.5 472.2,132.0 478.2,131.7 484.1,133.5 490.1,130.2 496.1,131.3 502.1,132.5 508.0,130.4 514.0,132.3"/>
<path d="M364.7,159.0 370.7,155.5 376.6,151.9 382.6,149.9 388.6,149.6 394.6,146.9 400.5,142.0 406.5,141.3 412.5,140.0 418.4,139.5 424.4,138.3 430.4,138.4 436.4,138.9 442.3,142.2 448.3,144.2 454.3,143.3 460.3,141.4 466.2,135.8 472.2,132.8 478.2,132.1 484.1,135.1 490.1,133.9 496.1,131.1 502.1,133.1 508.0,131.2 514.0,136.5"/>
<path d="M364.7,159.0 370.7,156.0 376.6,152.8 382.6,151.5 388.6,150.7 394.6,149.6 400.5,148.3 406.5,146.9 412.5,142.0 418.4,141.3 424.4,137.0 430.4,139.5 436.4,139.6 442.3,140.0 448.3,142.4 454.3,141.7 460.3,139.4 466.2,140.2 472.2,133.1 478.2,131.6 484.1,133.0 490.1,134.3 496.1,134.9 502.1,134.2 508.0,134.8 514.0,139.2"/>
<path d="M364.7,159.0 370.7,155.4 376.6,151.1 382.6,148.9 388.6,147.5 394.6,145.3 400.5,145.2 406.5,141.8 412.5,139.8 418.4,138.1 424.4,135.8 430.4,136.3 436.4,136.5 442.3,136.8 448.3,142.1 454.3,141.0 460.3,141.6 466.2,137.0 472.2,135.4 478.2,134.3 484.1,134.3 490.1,132.1 496.1,130.0 502.1,129.4 508.0,132.2 514.0,136.8"/>
<path d="M364.7,159.0 370.7,155.9 376.6,152.6 382.6,150.2 388.6,147.2 394.6,142.2 400.5,138.1 406.5,135.9 412.5,135.4 418.4,135.2 424.4,136.4 430.4,136.6 436.4,136.4 442.3,138.4 448.3,140.3 454.3,140.4 460.3,139.8 466.2,139.0 472.2,134.3 478.2,135.2 484.1,135.2 490.1,135.7 496.1,133.0 502.1,134.1 508.0,133.0 514.0,134.7"/>
<path d="M364.7,159.0 370.7,155.9 376.6,153.1 382.6,150.1 388.6,148.2 394.6,147.6 400.5,147.0 406.5,143.8 412.5,143.9 418.4,143.3 424.4,140.8 430.4,140.8 436.4,142.1 442.3,143.6 448.3,146.1 454.3,146.1 460.3,143.6 466.2,141.5 472.2,134.3 478.2,136.4 484.1,139.3 490.1,141.9 496.1,137.5 502.1,138.3 508.0,136.2 514.0,140.9"/>
<path d="M364.7,159.0 370.7,155.2 376.6,150.9 382.6,148.4 388.6,145.0 394.6,144.0 400.5,142.8 406.5,140.8 412.5,138.8 418.4,137.4 424.4,132.9 430.4,136.4 436.4,135.7 442.3,138.7 448.3,141.2 454.3,137.7 460.3,140.1 466.2,137.8 472.2,133.4 478.2,133.8 484.1,133.7 490.1,135.3 496.1,134.4 502.1,135.7 508.0,134.5 514.0,138.0"/>
<path d="M364.7,159.0 370.7,155.7 376.6,152.7 382.6,150.4 388.6,148.3 394.6,147.9 400.5,144.9 406.5,141.2 412.5,140.2 418.4,139.6 424.4,138.1 430.4,140.9 436.4,139.5 442.3,142.4 448.3,146.8 454.3,146.4 460.3,143.8 466.2,140.2 472.2,136.0 478.2,138.4 484.1,139.0 490.1,137.7 496.1,137.2 502.1,137.3 508.0,137.4 514.0,142.0"/>
<path d="M364.7,159.0 370.7,155.9 376.6,153.4 382.6,151.8 388.6,150.0 394.6,148.4 400.5,146.7 406.5,142.0 412.5,140.8 418.4,136.8 424.4,135.8 430.4,136.5 436.4,136.1 442.3,138.3 448.3,139.9 454.3,140.0 460.3,138.8 466.2,137.2 472.2,132.0 478.2,132.7 484.1,131.3 490.1,130.7 496.1,131.2 502.1,132.6 508.0,132.9 514.0,134.4"/>
<path d="M364.7,159.0 370.7,155.8 376.6,153.5 382.6,151.2 388.6,150.4 394.6,149.3 400.5,147.3 406.5,144.5 412.5,140.5 418.4,138.0 424.4,138.1 430.4,139.3 436.4,139.9 442.3,141.7 448.3,146.8 454.3,144.4 460.3,143.3 466.2,142.1 472.2,136.7 478.2,134.2 484.1,136.0 490.1,136.6 496.1,134.5 502.1,136.8 508.0,135.1 514.0,139.3"/>
<path d="M364.7,159.0 370.7,155.8 376.6,152.8 382.6,151.1 388.6,149.3 394.6,146.4 400.5,146.4 406.5,142.0 412.5,137.8 418.4,137.1 424.4,134.2 430.4,136.5 436.4,137.1 442.3,138.3 448.3,140.8 454.3,140.3 460.3,139.2 466.2,142.2 472.2,135.4 478.2,136.5 484.1,134.9 490.1,131.6 496.1,131.4 502.1,132.8 508.0,135.2 514.0,137.2"/>
<path d="M364.7,159.0 370.7,155.8 376.6,153.0 382.6,150.3 388.6,148.7 394.6,147.8 400.5,148.1 406.5,142.0 412.5,139.1 418.4,137.9 424.4,135.6 430.4,136.7 436.4,137.7 442.3,138.3 448.3,141.4 454.3,140.7 460.3,137.4 466.2,136.7 472.2,129.9 478.2,128.1 484.1,130.4 490.1,129.1 496.1,129.2 502.1,132.3 508.0,131.4 514.0,134.0"/>
<path d="M364.7,159.0 370.7,155.5 376.6,152.5 382.6,150.1 388.6,148.1 394.6,146.2 400.5,142.2 406.5,141.3 412.5,141.6 418.4,136.1 424.4,135.4 430.4,138.9 436.4,140.7 442.3,139.4 448.3,141.4 454.3,142.8 460.3,144.3 466.2,141.2 472.2,135.2 478.2,133.1 484.1,133.5 490.1,133.8 496.1,132.5 502.1,132.5 508.0,132.9 514.0,137.4"/>
<path d="M364.7,159.0 370.7,155.7 376.6,152.4 382.6,150.1 388.6,148.2 394.6,147.6 400.5,146.7 406.5,143.3 412.5,142.2 418.4,142.0 424.4,139.7 430.4,140.4 436.4,140.3 442.3,141.0 448.3,144.5 454.3,145.1 460.3,141.2 466.2,141.1 472.2,134.9 478.2,136.7 484.1,139.0 490.1,138.4 496.1,137.7 502.1,139.0 508.0,139.0 514.0,142.1"/>
<path d="M364.7,159.0 370.7,155.9 376.6,153.1 382.6,151.1 388.6,147.2 394.6,142.3 400.5,141.3 406.5,140.7 412.5,138.2 418.4,139.3 424.4,137.6 430.4,137.6 436.4,138.8 442.3,139.5 448.3,142.2 454.3,138.0 460.3,136.1 466.2,136.3 472.2,131.5 478.2,132.5 484.1,136.6 490.1,136.6 496.1,135.2 502.1,135.5 508.0,132.5 514.0,136.8"/>
<path d="M364.7,159.0 370.7,155.2 376.6,152.6 382.6,150.8 388.6,148.7 394.6,146.5 400.5,145.5 406.5,142.9 412.5,139.7 418.4,136.7 424.4,132.7 430.4,133.5 436.4,135.2 442.3,137.3 448.3,138.8 454.3,135.3 460.3,135.3 466.2,132.6 472.2,127.4 478.2,126.1 484.1,128.3 490.1,129.2 496.1,130.3 502.1,129.8 508.0,129.2 514.0,131.8"/>
<path d="M364.7,159.0 370.7,155.7 376.6,152.2 382.6,149.4 388.6,146.6 394.6,147.2 400.5,147.2 406.5,142.6 412.5,139.1 418.4,141.2 424.4,138.3 430.4,137.1 436.4,136.9 442.3,139.9 448.3,140.3 454.3,139.1 460.3,138.8 466.2,139.8 472.2,134.0 478.2,134.2 484.1,132.8 490.1,133.0 496.1,133.3 502.1,135.1 508.0,133.4 514.0,138.1"/>
<path d="M364.7,159.0 370.7,156.0 376.6,152.9 382.6,150.1 388.6,148.0 394.6,146.7 400.5,145.1 406.5,142.1 412.5,141.9 418.4,142.0 424.4,140.3 430.4,140.6 436.4,138.6 442.3,139.7 448.3,143.5 454.3,142.8 460.3,143.6 466.2,143.7 472.2,136.9 478.2,133.9 484.1,134.2 490.1,133.4 496.1,136.6 502.1,136.1 508.0,137.5 514.0,140.1"/>
<path d="M364.7,159.0 370.7,155.5 376.6,152.6 382.6,150.0 388.6,147.7 394.6,145.2 400.5,140.4 406.5,138.9 412.5,135.2 418.4,130.8 424.4,132.0 430.4,132.4 436.4,136.4 442.3,137.5 448.3,140.7 454.3,139.4 460.3,139.7 466.2,138.2 472.2,131.0 478.2,132.6 484.1,133.2 490.1,130.1 496.1,131.9 502.1,134.2 508.0,133.0 514.0,138.1"/>
<path d="M364.7,159.0 370.7,155.9 376.6,152.7 382.6,151.4 388.6,149.1 394.6,144.1 400.5,143.4 406.5,144.4 412.5,142.6 418.4,139.6 424.4,134.4 430.4,139.9 436.4,141.1 442.3,142.4 448.3,145.3 454.3,142.0 460.3,140.1 466.2,139.3 472.2,137.2 478.2,138.2 484.1,138.7 490.1,140.2 496.1,137.4 502.1,135.3 508.0,134.5 514.0,137.1"/>
<path d="M364.7,159.0 370.7,155.7 376.6,152.5 382.6,150.3 388.6,148.5 394.6,147.0 400.5,148.2 406.5,144.3 412.5,142.4 418.4,139.3 424.4,134.4 430.4,138.1 436.4,141.2 442.3,140.9 448.3,142.9 454.3,140.9 460.3,139.5 466.2,136.1 472.2,131.3 478.2,132.7 484.1,132.2 490.1,131.2 496.1,131.2 502.1,131.5 508.0,131.0 514.0,135.9"/>
<path d="M364.7,159.0 370.7,156.4 376.6,154.5 382.6,153.1 388.6,151.7 394.6,148.3 400.5,145.9 406.5,141.6 412.5,141.2 418.4,136.5 424.4,133.4 430.4,136.2 436.4,138.3 442.3,138.0 448.3,142.2 454.3,141.2 460.3,137.6 466.2,136.7 472.2,132.9 478.2,131.4 484.1,135.4 490.1,133.4 496.1,131.4 502.1,130.4 508.0,130.4 514.0,132.5"/>
<path d="M364.7,159.0 370.7,155.7 376.6,152.5 382.6,149.2 388.6,146.8 394.6,144.5 400.5,144.9 406.5,143.2 412.5,142.5 418.4,141.4 424.4,139.5 430.4,138.4 436.4,139.3 442.3,140.7 448.3,141.8 454.3,140.1 460.3,139.0 466.2,138.9 472.2,132.9 478.2,134.7 484.1,135.4 490.1,135.8 496.1,133.0 502.1,134.7 508.0,135.2 514.0,138.9"/>
<path d="M364.7,159.0 370.7,155.6 376.6,152.4 382.6,151.1 388.6,150.2 394.6,148.2 400.5,147.1 406.5,143.9 412.5,142.3 418.4,137.9 424.4,135.3 430.4,134.1 436.4,134.2 442.3,137.2 448.3,139.5 454.3,137.6 460.3,138.6 466.2,138.0 472.2,132.8 478.2,132.5 484.1,133.6 490.1,132.1 496.1,128.3 502.1,127.8 508.0,127.6 514.0,135.6"/>
<path d="M364.7,159.0 370.7,156.2 376.6,153.2 382.6,150.0 388.6,148.2 394.6,147.8 400.5,147.0 406.5,144.3 412.5,142.3 418.4,139.3 424.4,138.9 430.4,139.8 436.4,140.7 442.3,140.9 448.3,142.5 454.3,141.7 460.3,139.0 466.2,140.3 472.2,134.7 478.2,134.4 484.1,135.0 490.1,134.8 496.1,134.0 502.1,133.6 508.0,133.7 514.0,138.2"/>
<path d="M364.7,159.0 370.7,156.2 376.6,153.5 382.6,152.2 388.6,149.6 394.6,147.2 400.5,145.7 406.5,144.1 412.5,142.2 418.4,142.0 424.4,138.7 430.4,141.5 436.4,144.2 442.3,142.1 448.3,144.8 454.3,144.1 460.3,141.7 466.2,141.0 472.2,136.1 478.2,134.0 484.1,133.2 490.1,133.3 496.1,132.9 502.1,133.6 508.0,133.7 514.0,138.0"/>
<path d="M364.7,159.0 370.7,155.7 376.6,152.7 382.6,150.5 388.6,148.9 394.6,146.9 400.5,146.8 406.5,143.6 412.5,142.4 418.4,139.4 424.4,136.9 430.4,139.1 436.4,143.4 442.3,143.6 448.3,146.1 454.3,142.7 460.3,142.0 466.2,141.6 472.2,135.1 478.2,137.8 484.1,136.7 490.1,134.0 496.1,134.9 502.1,135.4 508.0,134.8 514.0,138.3"/>
<path d="M364.7,159.0 370.7,155.6 376.6,152.4 382.6,149.5 388.6,146.4 394.6,145.3 400.5,144.2 406.5,141.4 412.5,141.3 418.4,141.1 424.4,139.1 430.4,140.1 436.4,142.8 442.3,144.3 448.3,147.8 454.3,146.1 460.3,144.9 466.2,141.5 472.2,136.1 478.2,133.8 484.1,134.6 490.1,136.2 496.1,136.3 502.1,137.1 508.0,135.4 514.0,138.6"/>
<path d="M364.7,159.0 370.7,155.5 376.6,151.5 382.6,149.2 388.6,147.3 394.6,146.4 400.5,143.2 406.5,140.9 412.5,139.1 418.4,137.9 424.4,137.0 430.4,136.2 436.4,137.7 442.3,138.7 448.3,142.6 454.3,139.2 460.3,138.2 466.2,138.0 472.2,135.3 478.2,136.5 484.1,135.6 490.1,136.7 496.1,136.1 502.1,136.3 508.0,134.9 514.0,135.7"/>
<path d="M364.7,159.0 370.7,156.0 376.6,153.1 382.6,151.0 388.6,149.7 394.6,149.8 400.5,146.6 406.5,144.5 412.5,141.6 418.4,140.2 424.4,138.9 430.4,139.1 436.4,140.5 442.3,140.9 448.3,144.8 454.3,141.7 460.3,141.0 466.2,141.2 472.2,133.9 478.2,135.4 484.1,135.7 490.1,137.9 496.1,137.8 502.1,136.2 508.0,136.2 514.0,138.9"/>
<path d="M364.7,159.0 370.7,155.8 376.6,152.9 382.6,152.2 388.6,147.7 394.6,145.3 400.5,146.7 406.5,141.7 412.5,140.9 418.4,137.7 424.4,136.4 430.4,138.5 436.4,139.0 442.3,137.6 448.3,140.7 454.3,139.4 460.3,139.5 466.2,135.1 472.2,130.8 478.2,132.3 484.1,134.5 490.1,133.9 496.1,131.7 502.1,130.8 508.0,128.5 514.0,133.1"/>
<path d="M364.7,159.0 370.7,155.7 376.6,152.9 382.6,151.8 388.6,149.6 394.6,148.2 400.5,143.0 406.5,140.4 412.5,139.0 418.4,138.1 424.4,135.4 430.4,136.0 436.4,136.9 442.3,139.8 448.3,141.0 454.3,139.7 460.3,139.5 466.2,136.9 472.2,130.3 478.2,132.9 484.1,133.0 490.1,134.2 496.1,133.1 502.1,132.5 508.0,129.7 514.0,131.8"/>
<path d="M364.7,159.0 370.7,156.2 376.6,152.7 382.6,149.5 388.6,146.9 394.6,144.7 400.5,144.2 406.5,142.9 412.5,139.9 418.4,138.9 424.4,137.5 430.4,137.3 436.4,139.1 442.3,137.8 448.3,141.6 454.3,139.1 460.3,138.5 466.2,138.0 472.2,133.8 478.2,135.1 484.1,136.0 490.1,134.1 496.1,132.9 502.1,133.4 508.0,132.7 514.0,137.1"/>
<path d="M364.7,159.0 370.7,155.5 376.6,152.3 382.6,150.8 388.6,147.8 394.6,145.8 400.5,145.1 406.5,142.2 412.5,140.8 418.4,140.7 424.4,137.7 430.4,140.3 436.4,141.0 442.3,138.9 448.3,141.2 454.3,140.3 460.3,140.5 466.2,139.0 472.2,135.0 478.2,136.2 484.1,133.5 490.1,134.9 496.1,133.6 502.1,134.9 508.0,135.3 514.0,140.4"/>
<path d="M364.7,159.0 370.7,155.5 376.6,151.8 382.6,149.6 388.6,148.3 394.6,149.3 400.5,148.1 406.5,145.9 412.5,141.8 418.4,140.8 424.4,139.9 430.4,143.1 436.4,142.5 442.3,142.5 448.3,143.9 454.3,142.2 460.3,139.4 466.2,139.2 472.2,135.6 478.2,134.4 484.1,136.5 490.1,135.4 496.1,136.5 502.1,134.7 508.0,134.3 514.0,138.3"/>
<path d="M364.7,159.0 370.7,155.7 376.6,152.3 382.6,149.7 388.6,148.5 394.6,146.9 400.5,147.2 406.5,144.2 412.5,143.3 418.4,139.7 424.4,138.7 430.4,140.3 436.4,141.5 442.3,141.6 448.3,143.8 454.3,139.8 460.3,138.5 466.2,137.7 472.2,131.2 478.2,131.5 484.1,129.4 490.1,131.4 496.1,130.9 502.1,130.8 508.0,128.4 514.0,131.7"/>
<path d="M364.7,159.0 370.7,155.8 376.6,152.7 382.6,149.8 388.6,147.3 394.6,144.9 400.5,143.7 406.5,141.6 412.5,143.0 418.4,140.8 424.4,138.8 430.4,141.6 436.4,141.3 442.3,141.0 448.3,144.3 454.3,141.7 460.3,140.8 466.2,140.6 472.2,137.1 478.2,137.5 484.1,138.0 490.1,137.2 496.1,134.0 502.1,137.1 508.0,135.7 514.0,136.8"/>
<path d="M364.7,159.0 370.7,155.8 376.6,151.4 382.6,148.2 388.6,146.5 394.6,144.6 400.5,143.0 406.5,139.7 412.5,136.9 418.4,139.4 424.4,137.3 430.4,137.8 436.4,136.1 442.3,135.2 448.3,140.0 454.3,139.4 460.3,139.7 466.2,137.0 472.2,133.7 478.2,135.2 484.1,134.9 490.1,135.9 496.1,133.6 502.1,136.5 508.0,135.5 514.0,138.6"/>
<path d="M364.7,159.0 370.7,155.4 376.6,151.6 382.6,149.9 388.6,148.1 394.6,146.8 400.5,144.7 406.5,142.2 412.5,141.7 418.4,139.5 424.4,137.0 430.4,138.4 436.4,140.5 442.3,142.0 448.3,143.4 454.3,139.9 460.3,139.0 466.2,139.7 472.2,135.3 478.2,135.3 484.1,137.3 490.1,137.7 496.1,134.4 502.1,137.2 508.0,135.5 514.0,139.3"/>
<path d="M364.7,159.0 370.7,155.5 376.6,152.9 382.6,150.7 388.6,149.4 394.6,148.7 400.5,146.8 406.5,144.3 412.5,140.0 418.4,137.3 424.4,137.0 430.4,138.7 436.4,140.5 442.3,139.3 448.3,140.0 454.3,140.4 460.3,140.5 466.2,138.0 472.2,131.1 478.2,130.4 484.1,129.0 490.1,129.7 496.1,131.7 502.1,132.2 508.0,130.7 514.0,132.1"/>
<path d="M364.7,159.0 370.7,156.0 376.6,152.7 382.6,151.4 388.6,151.1 394.6,146.3 400.5,146.0 406.5,143.8 412.5,141.8 418.4,139.9 424.4,139.1 430.4,138.5 436.4,140.0 442.3,140.2 448.3,143.9 454.3,142.5 460.3,141.3 466.2,138.6 472.2,134.2 478.2,136.0 484.1,136.5 490.1,137.1 496.1,134.4 502.1,133.9 508.0,134.8 514.0,139.7"/>
<path d="M364.7,159.0 370.7,155.8 376.6,152.2 382.6,149.0 388.6,147.1 394.6,145.7 400.5,144.4 406.5,144.6 412.5,144.0 418.4,142.5 424.4,141.3 430.4,140.7 436.4,138.9 442.3,139.2 448.3,141.6 454.3,142.7 460.3,139.6 466.2,138.6 472.2,130.8 478.2,130.7 484.1,127.9 490.1,129.3 496.1,129.4 502.1,131.6 508.0,132.3 514.0,138.2"/>
<path d="M364.7,159.0 370.7,156.2 376.6,153.8 382.6,150.5 388.6,148.0 394.6,145.8 400.5,144.4 406.5,144.3 412.5,144.8 418.4,141.8 424.4,138.9 430.4,138.8 436.4,137.5 442.3,138.5 448.3,142.5 454.3,139.8 460.3,141.3 466.2,139.8 472.2,134.8 478.2,134.4 484.1,134.4 490.1,135.8 496.1,135.9 502.1,135.3 508.0,132.4 514.0,135.7"/>
</g>
<g stroke-opacity="0.18">
<path d="M364.7,159.0 370.7,155.4 376.6,151.0 382.6,147.9 388.6,146.8 394.6,147.2 400.5,148.1 406.5,141.6 412.5,139.1 418.4,133.9 424.4,129.9 430.4,132.6 436.4,134.6 442.3,134.6 448.3,131.4 454.3,129.3 460.3,127.6 466.2,129.6 472.2,120.5 478.2,121.3 484.1,119.4 490.1,117.9 496.1,119.6 502.1,122.2 508.0,121.5 514.0,124.9"/>
<path d="M364.7,159.0 370.7,154.5 376.6,150.2 382.6,147.1 388.6,145.4 394.6,145.7 400.5,143.0 406.5,137.5 412.5,135.8 418.4,131.7 424.4,124.8 430.4,129.6 436.4,129.9 442.3,133.3 448.3,134.2 454.3,130.4 460.3,130.6 466.2,128.7 472.2,120.3 478.2,116.9 484.1,115.0 490.1,116.1 496.1,112.8 502.1,112.8 508.0,110.7 514.0,113.5"/>
<path d="M364.7,159.0 370.7,155.9 376.6,153.1 382.6,151.5 388.6,149.7 394.6,147.5 400.5,146.5 406.5,141.0 412.5,136.7 418.4,135.1 424.4,134.3 430.4,137.3 436.4,139.3 442.3,140.9 448.3,141.1 454.3,138.4 460.3,136.8 466.2,133.7 472.2,129.9 478.2,127.0 484.1,127.4 490.1,127.7 496.1,127.8 502.1,130.2 508.0,128.0 514.0,130.9"/>
<path d="M364.7,159.0 370.7,155.8 376.6,152.4 382.6,151.8 388.6,149.4 394.6,145.5 400.5,144.1 406.5,138.4 412.5,138.1 418.4,135.3 424.4,131.0 430.4,130.8 436.4,130.0 442.3,130.5 448.3,130.0 454.3,129.6 460.3,125.7 466.2,122.4 472.2,118.5 478.2,118.0 484.1,123.2 490.1,125.7 496.1,123.4 502.1,126.1 508.0,121.6 514.0,124.8"/>
<path d="M364.7,159.0 370.7,155.0 376.6,151.5 382.6,151.9 388.6,148.1 394.6,147.8 400.5,141.7 406.5,133.9 412.5,126.2 418.4,120.0 424.4,114.2 430.4,119.6 436.4,119.5 442.3,120.7 448.3,125.4 454.3,126.9 460.3,124.4 466.2,122.9 472.2,116.9 478.2,115.8 484.1,112.7 490.1,113.4 496.1,117.1 502.1,120.8 508.0,116.7 514.0,115.9"/>
<path d="M364.7,159.0 370.7,155.2 376.6,152.2 382.6,148.7 388.6,147.5 394.6,145.9 400.5,139.6 406.5,135.4 412.5,132.0 418.4,126.0 424.4,124.4 430.4,127.1 436.4,126.6 442.3,126.3 448.3,131.1 454.3,131.0 460.3,131.1 466.2,128.4 472.2,122.3 478.2,120.7 484.1,120.9 490.1,116.7 496.1,117.4 502.1,120.1 508.0,114.9 514.0,120.2"/>
<path d="M364.7,159.0 370.7,155.6 376.6,152.1 382.6,148.2 388.6,146.2 394.6,143.9 400.5,140.1 406.5,131.3 412.5,127.1 418.4,124.6 424.4,120.4 430.4,121.3 436.4,121.6 442.3,125.9 448.3,127.2 454.3,122.5 460.3,122.2 466.2,123.1 472.2,120.0 478.2,120.0 484.1,120.7 490.1,119.5 496.1,121.5 502.1,119.4 508.0,113.8 514.0,116.4"/>
<path d="M364.7,159.0 370.7,155.4 376.6,152.2 382.6,148.7 388.6,148.3 394.6,147.5 400.5,146.7 406.5,141.3 412.5,135.5 418.4,132.8 424.4,129.9 430.4,133.1 436.4,135.2 442.3,133.6 448.3,130.6 454.3,128.6 460.3,127.8 466.2,128.6 472.2,120.2 478.2,118.2 484.1,120.1 490.1,121.8 496.1,119.7 502.1,121.5 508.0,118.6 514.0,117.7"/>
<path d="M364.7,159.0 370.7,155.7 376.6,152.9 382.6,151.2 388.6,148.5 394.6,146.1 400.5,144.9 406.5,140.1 412.5,139.9 418.4,137.0 424.4,134.5 430.4,135.3 436.4,133.5 442.3,134.1 448.3,135.9 454.3,132.1 460.3,133.6 466.2,132.6 472.2,128.7 478.2,129.4 484.1,129.5 490.1,127.4 496.1,128.0 502.1,129.3 508.0,129.1 514.0,133.0"/>
<path d="M364.7,159.0 370.7,155.0 376.6,151.4 382.6,146.6 388.6,142.3 394.6,143.0 400.5,140.0 406.5,131.6 412.5,129.8 418.4,125.9 424.4,118.0 430.4,122.1 436.4,124.0 442.3,125.1 448.3,118.4 454.3,118.7 460.3,117.1 466.2,119.4 472.2,113.7 478.2,118.0 484.1,115.7 490.1,117.3 496.1,118.5 502.1,119.5 508.0,112.7 514.0,112.8"/>
<path d="M364.7,159.0 370.7,155.7 376.6,152.5 382.6,148.7 388.6,146.2 394.6,143.8 400.5,145.9 406.5,141.4 412.5,137.8 418.4,135.5 424.4,132.0 430.4,133.6 436.4,134.2 442.3,137.6 448.3,138.3 454.3,138.5 460.3,139.6 466.2,135.6 472.2,131.9 478.2,128.9 484.1,129.5 490.1,129.4 496.1,126.9 502.1,128.5 508.0,129.8 514.0,128.2"/>
<path d="M364.7,159.0 370.7,155.9 376.6,153.0 382.6,149.4 388.6,147.9 394.6,145.4 400.5,141.8 406.5,138.1 412.5,137.3 418.4,137.1 424.4,134.7 430.4,135.1 436.4,134.7 442.3,133.3 448.3,138.1 454.3,135.6 460.3,134.7 466.2,132.7 472.2,123.9 478.2,123.9 484.1,125.8 490.1,125.1 496.1,125.1 502.1,126.3 508.0,124.9 514.0,129.3"/>
<path d="M364.7,159.0 370.7,155.7 376.6,152.5 382.6,149.8 388.6,148.2 394.6,147.4 400.5,142.2 406.5,141.9 412.5,141.2 418.4,139.9 424.4,136.6 430.4,137.9 436.4,140.3 442.3,141.6 448.3,142.3 454.3,142.1 460.3,140.1 466.2,140.5 472.2,133.3 478.2,133.6 484.1,129.7 490.1,130.0 496.1,128.6 502.1,129.7 508.0,127.4 514.0,130.2"/>
<path d="M364.7,159.0 370.7,155.7 376.6,152.8 382.6,150.6 388.6,148.3 394.6,146.2 400.5,142.9 406.5,140.3 412.5,137.8 418.4,135.7 424.4,131.0 430.4,132.0 436.4,135.8 442.3,139.2 448.3,140.4 454.3,134.9 460.3,132.7 466.2,132.0 472.2,127.8 478.2,128.1 484.1,129.4 490.1,131.2 496.1,128.7 502.1,131.7 508.0,129.9 514.0,131.1"/>
<path d="M364.7,159.0 370.7,155.6 376.6,152.7 382.6,148.5 388.6,148.3 394.6,148.2 400.5,143.9 406.5,137.4 412.5,133.8 418.4,128.3 424.4,123.6 430.4,127.1 436.4,125.8 442.3,129.2 448.3,130.4 454.3,126.4 460.3,128.1 466.2,129.3 472.2,122.8 478.2,123.1 484.1,122.3 490.1,125.6 496.1,122.0 502.1,123.6 508.0,123.9 514.0,125.7"/>
<path d="M364.7,159.0 370.7,155.2 376.6,150.9 382.6,149.3 388.6,145.6 394.6,143.6 400.5,143.9 406.5,136.3 412.5,133.1 418.4,132.5 424.4,129.7 430.4,130.7 436.4,132.7 442.3,133.1 448.3,134.5 454.3,135.1 460.3,134.2 466.2,131.8 472.2,125.2 478.2,124.1 484.1,123.6 490.1,122.9 496.1,124.0 502.1,123.7 508.0,124.5 514.0,126.8"/>
</g>
</g>
<text class="tick" x="526" y="151.2" textLength="275" lengthAdjust="spacingAndGlyphs">Other Regions</text>
<g class="lab">
<text x="1705.5" y="15.2" textLength="110" lengthAdjust="spacingAndGlyphs">Hackney</text>
<text x="1705.5" y="164" textLength="113.5" lengthAdjust="spacingAndGlyphs">Newham</text>
<text x="1705.5" y="297" textLength="106" lengthAdjust="spacingAndGlyphs">Camden</text>
<text x="1705.5" y="453" textLength="163.5" lengthAdjust="spacingAndGlyphs">Westminster</text>
<text x="1705.5" y="490.8" textLength="162.5" lengthAdjust="spacingAndGlyphs">Wandsworth</text>
<text x="1705.5" y="522.5" textLength="130" lengthAdjust="spacingAndGlyphs">Lewisham</text>
<text x="1705.5" y="606" textLength="114" lengthAdjust="spacingAndGlyphs">Lambeth</text>
<text x="1705.5" y="645.3" textLength="138.5" lengthAdjust="spacingAndGlyphs">Southwark</text>
<text x="1705.5" y="677.3" textLength="147" lengthAdjust="spacingAndGlyphs">Kensington</text>
<text x="1705.5" y="708.4" textLength="156.5" lengthAdjust="spacingAndGlyphs">and Chelsea</text>
<text x="1705.5" y="854" textLength="118.5" lengthAdjust="spacingAndGlyphs">Haringey</text>
<text x="1705.5" y="888" textLength="116.5" lengthAdjust="spacingAndGlyphs">Islington</text>
<text x="1705.5" y="943" textLength="194" lengthAdjust="spacingAndGlyphs">Tower Hamlets</text>
<text x="1705.5" y="974" textLength="186" lengthAdjust="spacingAndGlyphs">Hammersmith</text>
<text x="1705.5" y="1005" textLength="154" lengthAdjust="spacingAndGlyphs">and Fulham</text>
</g>
</svg></body></html>
